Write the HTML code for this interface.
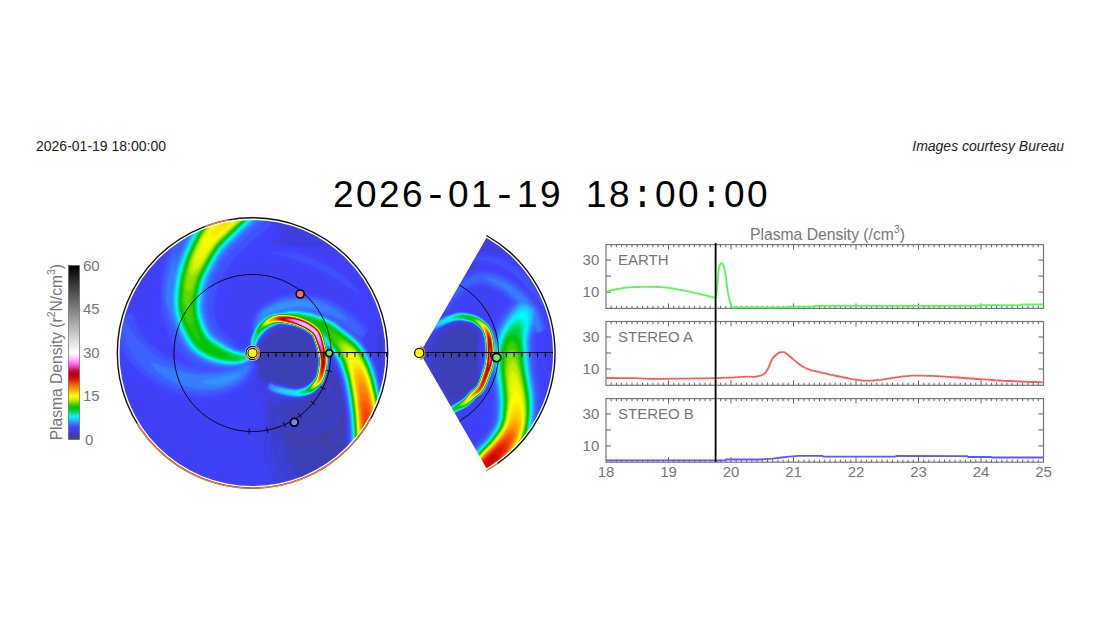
<!DOCTYPE html>
<html><head><meta charset="utf-8"><style>
html,body{margin:0;padding:0;background:#fff;width:1100px;height:619px;overflow:hidden}
svg{position:absolute;left:0;top:0}
text{font-family:"Liberation Sans",sans-serif}
.tl{font-size:15px;fill:#777}
.lab{font-size:15px;fill:#777}
</style></head><body>
<svg width="1100" height="619" viewBox="0 0 1100 619">
<defs>
<filter id="cmap" x="0" y="0" width="1" height="1" color-interpolation-filters="sRGB">
<feGaussianBlur stdDeviation="1.1"/>
<feComponentTransfer>
<feFuncR type="table" tableValues="0.267 0.251 0.243 0.251 0.251 0.235 0.196 0.078 0.000 0.000 0.000 0.000 0.235 0.588 0.863 1.000 1.000 1.000 1.000 0.980 0.922 0.843 0.765 0.725 0.784 0.922 1.000 1.000 1.000 1.000 1.000"/>
<feFuncG type="table" tableValues="0.267 0.251 0.243 0.251 0.251 0.392 0.588 0.824 0.973 0.894 0.816 0.765 0.804 0.882 0.961 1.000 0.843 0.667 0.510 0.353 0.196 0.059 0.000 0.000 0.078 0.235 0.392 0.588 0.765 0.902 1.000"/>
<feFuncB type="table" tableValues="0.541 0.647 0.784 0.922 1.000 1.000 1.000 1.000 1.000 0.588 0.235 0.000 0.000 0.000 0.000 0.000 0.000 0.000 0.000 0.000 0.000 0.000 0.000 0.118 0.353 0.667 0.941 1.000 1.000 1.000 1.000"/>
</feComponentTransfer>
</filter>
<filter id="bl4" x="-50%" y="-50%" width="200%" height="200%"><feGaussianBlur stdDeviation="5"/></filter><filter id="bl2" x="-50%" y="-50%" width="200%" height="200%"><feGaussianBlur stdDeviation="1.5"/></filter><filter id="bl8" x="-50%" y="-50%" width="200%" height="200%"><feGaussianBlur stdDeviation="8"/></filter><filter id="bl3" x="-50%" y="-50%" width="200%" height="200%"><feGaussianBlur stdDeviation="3"/></filter><filter id="bl15" x="-100%" y="-100%" width="300%" height="300%"><feGaussianBlur stdDeviation="15"/></filter>
<clipPath id="diskclip"><circle cx="252.5" cy="353.0" r="133"/></clipPath>
<clipPath id="wedgeclip"><path d="M420.0,353.0 L486.5,237.8 A133.0,133.0 0 0 1 486.5,468.2 Z"/></clipPath>
<linearGradient id="cbg" x1="0" y1="1" x2="0" y2="0"><stop offset="0.0000" stop-color="rgb(68,68,138)"/><stop offset="0.0167" stop-color="rgb(64,64,165)"/><stop offset="0.0333" stop-color="rgb(62,62,200)"/><stop offset="0.0500" stop-color="rgb(64,64,235)"/><stop offset="0.0667" stop-color="rgb(64,64,255)"/><stop offset="0.0833" stop-color="rgb(60,100,255)"/><stop offset="0.1000" stop-color="rgb(50,150,255)"/><stop offset="0.1167" stop-color="rgb(20,210,255)"/><stop offset="0.1333" stop-color="rgb(0,248,255)"/><stop offset="0.1500" stop-color="rgb(0,228,150)"/><stop offset="0.1667" stop-color="rgb(0,208,60)"/><stop offset="0.1833" stop-color="rgb(0,195,0)"/><stop offset="0.2000" stop-color="rgb(60,205,0)"/><stop offset="0.2167" stop-color="rgb(150,225,0)"/><stop offset="0.2333" stop-color="rgb(220,245,0)"/><stop offset="0.2500" stop-color="rgb(255,255,0)"/><stop offset="0.2667" stop-color="rgb(255,215,0)"/><stop offset="0.2833" stop-color="rgb(255,170,0)"/><stop offset="0.3000" stop-color="rgb(255,130,0)"/><stop offset="0.3167" stop-color="rgb(250,90,0)"/><stop offset="0.3333" stop-color="rgb(235,50,0)"/><stop offset="0.3500" stop-color="rgb(215,15,0)"/><stop offset="0.3667" stop-color="rgb(195,0,0)"/><stop offset="0.3833" stop-color="rgb(185,0,30)"/><stop offset="0.4000" stop-color="rgb(200,20,90)"/><stop offset="0.4167" stop-color="rgb(235,60,170)"/><stop offset="0.4333" stop-color="rgb(255,100,240)"/><stop offset="0.4500" stop-color="rgb(255,150,255)"/><stop offset="0.4667" stop-color="rgb(255,195,255)"/><stop offset="0.4833" stop-color="rgb(255,230,255)"/><stop offset="0.5000" stop-color="rgb(255,255,255)"/><stop offset="1" stop-color="#000"/></linearGradient>
</defs>
<text x="36" y="151" font-size="14" fill="#222">2026-01-19 18:00:00</text>
<text x="1064" y="151" font-size="14" fill="#222" font-style="italic" text-anchor="end">Images courtesy Bureau</text>
<g font-size="37" fill="#000"><text x="343.4" y="207" text-anchor="middle">2</text><text x="366.4" y="207" text-anchor="middle">0</text><text x="389.4" y="207" text-anchor="middle">2</text><text x="412.4" y="207" text-anchor="middle">6</text><text x="435.4" y="207" text-anchor="middle" style="font-family:'Liberation Mono'" font-size="38">-</text><text x="458.4" y="207" text-anchor="middle">0</text><text x="481.4" y="207" text-anchor="middle">1</text><text x="504.4" y="207" text-anchor="middle" style="font-family:'Liberation Mono'" font-size="38">-</text><text x="527.4" y="207" text-anchor="middle">1</text><text x="550.4" y="207" text-anchor="middle">9</text><text x="596.4" y="207" text-anchor="middle">1</text><text x="619.4" y="207" text-anchor="middle">8</text><text x="642.4" y="207" text-anchor="middle" style="font-family:'Liberation Mono'" font-size="38">:</text><text x="665.4" y="207" text-anchor="middle">0</text><text x="688.4" y="207" text-anchor="middle">0</text><text x="711.4" y="207" text-anchor="middle" style="font-family:'Liberation Mono'" font-size="38">:</text><text x="734.4" y="207" text-anchor="middle">0</text><text x="757.4" y="207" text-anchor="middle">0</text></g>
<g clip-path="url(#diskclip)"><g filter="url(#cmap)">
<rect x="100" y="200" width="310" height="310" fill="#1f1f1f"/>
<ellipse cx="335" cy="445" rx="60" ry="50" fill="#141414" filter="url(#bl15)"/>
<ellipse cx="322" cy="438" rx="46" ry="56" fill="#0d0d0d" filter="url(#bl8)"/>
<ellipse cx="338" cy="405" rx="14" ry="42" fill="#0f0f0f" filter="url(#bl4)"/>
<ellipse cx="305" cy="232" rx="55" ry="16" fill="#181818" filter="url(#bl8)"/>
<ellipse cx="308" cy="408" rx="36" ry="28" fill="#0e0e0e" filter="url(#bl8)"/>
<ellipse cx="392" cy="350" rx="16" ry="55" fill="#131313" filter="url(#bl8)"/>
<ellipse cx="285" cy="368" rx="36" ry="36" fill="#161616" filter="url(#bl4)"/>
<circle cx="290" cy="357.5" r="30" fill="#070707" filter="url(#bl2)"/>
<ellipse cx="272" cy="360" rx="16" ry="22" fill="#080808" filter="url(#bl2)"/>
<g transform="scale(0.5)">
<path d="M492,711 487,713 482,717 476,720 471,721 467,721 462,722 457,723 451,723 445,723 439,723 432,724 425,724 417,723 410,723 403,721 396,720 389,718 382,716 374,714 367,711 358,707 350,704 341,699 333,695 326,690 320,685 314,680 308,675 303,669 299,664 295,657 291,648 287,637 283,626 280,618 208,642 210,649 213,660 217,674 222,689 229,704 237,717 245,728 254,739 263,749 274,758 285,766 297,774 309,782 321,788 333,793 346,798 359,801 371,804 384,806 397,807 410,806 422,805 434,803 446,800 457,797 467,792 477,786 486,780 494,774 501,767 508,757 512,748 515,740 516,733 516,729Z" fill="#222222"/>
<path d="M406,687 403,681 398,673 392,664 387,655 384,647 380,638 376,628 372,617 369,606 368,596 367,587 367,577 368,566 369,556 371,545 373,536 375,527 378,518 381,509 384,500 388,491 393,481 398,471 402,462 405,456 363,432 359,438 354,447 348,457 341,468 336,480 331,490 327,500 323,511 320,523 317,535 315,547 313,560 312,574 311,589 312,604 315,618 319,633 324,647 330,660 336,673 345,685 355,695 364,703 372,709 378,713Z" fill="#222222"/>
<path d="M529,671 533,666 537,660 541,654 545,650 549,648 554,646 561,643 570,640 579,638 588,637 595,636 604,637 614,638 623,639 632,641 640,644 648,647 655,650 663,654 671,659 679,664 689,671 699,679 708,686 714,690 746,654 740,648 732,640 723,631 712,622 701,613 691,607 681,601 671,595 660,591 648,587 636,583 623,581 609,579 595,578 580,579 566,582 553,587 539,593 527,599 515,608 506,620 500,632 497,643 495,651 495,657Z" fill="#222222"/>
<path d="M522,519 532,521 546,523 562,526 577,529 591,533 604,537 617,543 631,549 644,556 656,563 667,570 678,577 688,585 698,593 707,602 715,611 723,623 731,634 738,645 743,652 769,636 765,628 759,617 752,604 743,591 733,578 723,567 713,557 701,547 689,538 676,529 663,521 648,514 633,507 617,500 601,495 584,492 566,490 549,489 535,489 526,489Z" fill="#222222"/>
<path d="M495,693 492,691 487,689 483,687 480,685 479,683 477,680 474,677 472,674 470,671 468,668 465,665 463,661 460,657 458,653 455,649 452,646 449,643 449,641 450,640 452,640 453,640 452,638 451,635 450,630 449,626 448,622 447,619 447,615 447,612 448,609 448,608 449,607 450,604 451,600 452,594 454,590 455,585 456,581 458,578 459,575 461,573 463,569 465,565 468,561 471,556 473,552 476,548 478,545 481,541 483,538 486,535 488,532 490,531 491,530 493,529 494,528 497,526 500,523 505,520 509,516 513,513 516,509 519,506 523,502 526,499 529,496 532,493 536,490 539,488 542,485 546,482 550,478 555,474 559,471 562,468 446,324 443,326 438,330 433,334 427,339 422,343 417,348 412,352 407,356 403,360 398,365 393,369 389,374 384,378 379,383 375,388 371,393 367,398 362,404 357,411 351,419 346,427 342,435 338,442 335,448 333,454 330,460 327,467 324,474 322,481 319,488 317,495 315,502 312,510 309,520 307,530 305,540 303,549 302,558 301,567 301,575 301,582 300,591 300,601 301,612 302,625 305,636 308,647 311,658 315,668 319,678 324,687 329,697 336,707 343,717 352,728 364,737 375,745 385,749 393,753 401,755 409,756 418,758 427,758 436,758 444,758 452,757 460,756 467,754 474,752 481,749 489,746 495,742 500,738 503,734 505,731Z" fill="#222222"/>
<path d="M519,680 522,677 525,673 529,668 533,664 537,661 543,658 550,655 558,652 566,649 573,648 579,649 585,650 591,652 598,655 604,658 611,661 618,665 624,670 631,674 635,678 639,682 642,686 645,691 648,697 652,703 656,709 660,714 663,719 666,724 668,728 669,731 670,734 672,738 673,742 675,747 676,751 678,756 679,760 680,764 682,770 683,776 684,783 686,791 687,799 689,807 690,814 691,821 691,828 692,835 693,843 693,852 694,861 694,871 695,881 695,890 695,900 694,911 694,922 693,931 693,938 775,942 776,935 776,926 777,914 777,902 777,890 777,879 777,868 776,857 776,847 775,837 774,827 773,818 772,810 771,802 769,793 768,785 766,776 764,767 762,758 760,750 758,743 756,736 754,729 752,723 749,717 747,711 744,705 740,699 736,691 730,684 724,678 718,672 712,666 705,661 700,657 694,653 688,649 681,644 673,638 665,634 655,630 646,626 636,623 626,620 616,618 606,617 597,616 587,616 577,617 567,620 557,623 548,627 539,632 530,637 523,643 517,649 512,656 509,663 506,668 505,672Z" fill="#222222"/>
<path d="M514,694 515,691 516,687 517,683 519,679 520,676 522,672 525,668 527,665 530,662 532,659 536,656 540,653 543,651 547,649 551,648 555,647 560,647 565,648 571,648 576,649 582,650 587,652 592,653 598,655 603,657 607,660 612,662 616,665 620,668 623,670 624,673 626,675 627,678 628,681 629,685 631,689 632,694 633,699 634,703 635,708 636,712 637,716 637,719 637,723 637,727 636,732 635,738 634,745 632,750 631,754 630,757 629,758 627,759 625,761 623,763 620,766 618,768 616,769 614,771 612,772 609,773 604,774 600,775 595,776 590,776 584,775 577,774 568,772 561,770 555,769 551,768 548,766 545,765 543,763 541,762 531,778 533,779 535,781 539,783 543,786 549,788 556,790 564,792 573,794 581,795 590,796 597,796 604,795 610,794 615,792 620,790 625,788 629,785 632,782 634,780 636,778 638,776 641,774 644,771 647,767 649,762 651,756 653,749 654,742 655,735 656,729 656,723 656,718 656,713 655,709 655,704 654,699 653,694 651,689 650,684 649,679 647,675 646,670 644,666 641,661 637,656 633,652 628,648 622,645 617,642 611,639 605,636 599,634 593,632 586,630 580,629 574,628 567,627 560,627 553,627 546,628 540,630 534,633 528,637 523,641 519,645 515,649 511,654 508,659 506,663 504,668 502,673 500,679 499,683 499,687 498,690Z" fill="#222222"/>
<path d="M497,715 493,717 487,721 482,724 477,727 472,728 467,729 461,731 455,732 448,733 441,733 434,734 426,734 418,735 410,734 402,733 395,732 386,731 378,729 370,726 362,723 353,719 343,715 334,711 326,706 318,701 310,696 304,690 297,684 291,678 286,671 281,663 276,653 271,641 267,631 263,624 225,636 226,644 228,655 232,669 236,683 242,697 249,708 256,719 264,729 273,738 282,747 293,755 304,763 315,770 327,776 338,781 350,785 362,789 374,792 386,794 398,795 410,795 422,794 433,792 444,790 455,787 464,783 473,778 482,773 489,767 496,760 502,752 506,744 509,736 510,730 511,725Z" fill="#262626"/>
<path d="M400,693 397,686 392,678 386,669 380,660 376,651 372,642 368,631 364,619 361,608 359,597 359,587 359,577 359,565 361,554 362,544 364,534 366,524 369,515 373,506 376,497 380,487 384,477 389,466 394,457 396,451 372,437 368,443 362,451 356,462 350,472 344,483 340,493 336,503 332,514 328,525 326,536 323,548 321,561 320,574 320,588 321,603 323,617 327,631 332,644 338,657 344,669 352,680 361,689 370,697 378,703 384,707Z" fill="#262626"/>
<path d="M524,669 527,664 531,657 535,651 540,646 544,643 550,640 558,636 568,633 578,630 587,629 595,628 605,629 615,630 625,632 634,634 643,636 651,639 659,643 667,647 676,651 685,657 695,664 705,672 714,678 721,683 739,661 734,655 726,647 717,638 706,629 696,621 687,614 677,608 667,603 657,598 646,594 634,591 621,589 608,587 595,586 581,587 568,590 555,594 542,599 531,605 520,613 511,624 506,635 503,646 501,654 500,659Z" fill="#262626"/>
<path d="M524,504 534,505 547,509 563,513 579,517 594,522 607,527 622,532 635,539 649,546 662,553 674,560 686,568 697,575 708,583 720,590 729,601 737,613 745,626 751,636 756,644 756,644 751,636 745,626 737,613 729,601 720,590 713,578 704,567 694,557 682,548 670,539 657,531 643,524 628,517 613,511 598,506 582,503 565,503 548,504 534,505 524,504Z" fill="#262626"/>
<path d="M497,698 493,697 489,696 485,695 482,694 479,692 476,690 473,688 471,686 468,683 465,680 461,677 458,674 454,671 451,667 448,663 444,660 440,657 438,655 438,653 438,652 438,650 436,647 434,643 433,638 431,633 430,629 429,624 428,619 428,615 428,611 428,609 429,606 429,602 430,597 432,592 433,586 434,582 435,577 437,573 438,569 440,565 442,561 445,557 447,552 450,547 453,542 455,538 458,534 460,530 463,527 465,523 468,520 470,517 472,516 473,514 476,512 478,510 482,506 486,503 491,499 494,495 498,491 501,488 505,484 508,481 512,478 515,475 519,472 522,468 526,465 530,462 534,458 539,454 543,451 546,448 462,344 459,346 454,349 449,354 444,358 438,363 434,367 429,371 425,375 420,379 416,383 411,387 407,392 402,396 398,401 393,405 389,410 385,415 381,421 376,427 371,434 366,441 362,448 359,454 356,460 353,465 351,471 348,478 345,484 342,491 340,497 338,504 335,511 333,519 330,527 328,536 326,545 324,553 323,562 322,570 322,577 321,585 321,593 321,602 321,612 322,623 324,633 327,643 330,652 333,662 337,671 341,679 346,688 351,697 358,707 366,716 375,724 385,730 394,735 401,738 408,741 416,742 424,744 432,745 440,745 447,746 455,745 462,745 468,744 475,742 481,740 488,738 493,735 498,731 501,729 503,726Z" fill="#262626"/>
<path d="M518,680 521,677 524,672 528,668 532,663 536,660 542,657 550,653 558,650 565,648 572,647 579,647 585,648 591,650 598,653 605,656 612,659 619,663 626,667 632,672 637,676 641,680 644,684 647,689 651,694 655,700 659,706 663,712 666,717 669,722 671,726 672,729 674,732 675,736 677,741 678,746 680,750 681,754 683,759 684,763 685,769 687,775 688,783 690,790 691,798 692,806 693,813 694,821 695,828 696,835 697,843 697,852 698,861 698,871 698,881 698,890 698,900 698,911 697,922 697,931 696,938 772,942 772,935 772,926 773,914 773,902 774,890 773,879 773,868 773,857 772,847 771,837 771,828 770,819 768,810 767,802 766,794 764,785 763,776 761,768 759,759 757,751 755,744 753,737 751,731 748,724 746,718 743,713 740,707 736,700 732,693 727,686 721,680 715,674 709,669 703,664 697,660 692,656 686,651 679,646 671,641 663,636 654,632 644,628 635,625 625,622 615,620 606,619 597,618 587,618 577,619 568,621 558,624 548,628 539,633 531,638 524,644 518,650 513,657 510,664 507,669 506,672Z" fill="#262626"/>
<path d="M513,694 514,691 515,687 516,683 518,679 520,675 522,672 524,668 526,664 529,661 532,658 535,655 539,653 543,650 547,648 551,647 555,647 560,647 565,647 571,648 576,649 582,650 587,651 593,653 598,655 603,657 608,659 612,662 617,665 620,667 623,670 625,672 626,675 627,677 629,681 630,685 631,689 633,694 634,698 635,703 636,708 637,712 637,716 637,719 638,723 637,727 637,732 636,739 634,745 633,750 631,755 630,757 629,758 628,760 626,762 623,764 621,766 619,768 617,770 615,771 612,772 609,774 605,775 600,776 596,777 590,777 584,776 576,775 568,773 561,772 555,770 550,769 547,767 545,766 542,765 540,764 532,776 533,778 536,780 539,782 544,785 549,787 556,789 564,791 573,793 582,794 590,795 597,795 603,794 609,793 615,791 620,790 624,787 628,785 631,782 634,779 636,777 638,775 640,773 643,770 646,766 649,761 650,756 652,749 654,742 655,735 655,729 656,723 656,718 655,714 655,709 654,704 653,699 652,694 651,689 650,684 648,679 647,675 645,671 643,666 641,661 637,657 633,653 628,649 622,645 617,642 611,639 605,637 599,634 592,633 586,631 580,630 573,629 567,628 560,627 553,628 547,629 540,631 534,634 529,638 524,641 519,645 515,650 512,654 509,659 507,664 504,669 503,674 501,679 500,684 500,688 499,690Z" fill="#262626"/>
<path d="M504,720 497,720 492,724 486,727 480,730 475,732 470,734 464,736 457,738 450,739 443,740 435,741 427,742 419,742 410,742 402,741 393,741 385,739 376,737 367,735 358,731 349,728 339,724 329,720 320,715 311,710 303,704 295,698 288,692 281,685 275,678 268,669 261,658 254,647 246,638 244,630 244,630 246,638 246,650 247,663 249,677 253,690 259,701 265,711 272,721 280,730 289,738 298,746 309,754 320,761 331,767 342,773 353,777 364,780 376,783 387,785 398,787 410,787 421,786 432,785 443,783 453,780 462,777 471,772 479,767 486,762 493,756 498,748 502,740 505,733 506,726 504,720Z" fill="#2a2a2a"/>
<path d="M392,700 391,692 386,683 380,674 375,664 371,654 366,644 362,633 358,621 356,609 354,598 353,587 353,576 353,565 355,553 356,542 358,532 360,522 363,513 366,504 370,494 373,484 377,473 382,462 385,453 384,444 384,444 376,448 370,456 363,465 356,476 350,486 346,496 342,505 338,516 335,526 332,538 330,549 327,562 326,575 326,588 326,602 329,615 333,629 338,642 343,654 349,666 357,676 366,685 376,693 384,698 392,700Z" fill="#2a2a2a"/>
<path d="M519,667 523,662 527,655 531,648 536,643 541,639 548,635 556,632 566,628 576,626 586,624 595,623 605,623 616,625 626,626 636,629 645,631 653,634 662,637 670,642 679,646 689,652 700,659 710,666 720,671 730,672 730,672 728,662 721,653 712,644 702,634 693,626 684,619 675,613 665,608 655,603 644,599 633,596 621,594 608,592 595,591 582,592 569,595 556,599 544,604 533,610 523,617 515,627 510,637 507,647 506,655 505,661Z" fill="#2a2a2a"/>
<path d="M497,701 494,701 490,700 486,700 482,699 479,698 476,696 473,695 469,693 466,691 463,688 459,686 455,683 451,680 447,677 443,673 439,670 435,667 432,664 430,662 429,660 428,657 426,654 424,649 421,643 419,638 418,633 417,627 416,622 415,617 415,613 415,609 415,606 416,601 417,596 418,590 419,584 420,579 422,574 423,569 425,565 427,561 429,556 431,551 434,546 437,541 439,536 442,531 444,527 447,523 449,519 452,515 454,512 457,509 459,507 461,504 463,502 467,499 470,495 475,491 479,487 483,483 486,480 490,476 494,473 497,469 501,466 504,463 508,459 512,456 515,453 519,449 524,446 529,442 533,438 536,436 472,356 469,359 465,362 459,366 454,371 449,375 444,379 440,383 435,387 431,391 427,395 422,399 418,403 414,408 409,412 405,417 401,421 397,426 393,431 388,437 383,444 379,450 375,456 372,462 369,467 367,473 364,479 361,485 358,491 356,497 353,503 351,510 349,516 346,524 343,532 341,540 339,548 338,556 337,564 336,572 335,579 335,586 334,594 334,602 334,611 335,621 337,631 339,640 342,649 345,658 349,666 352,674 357,683 362,691 368,700 375,708 383,715 392,721 399,725 406,728 413,731 420,733 428,735 435,736 443,737 449,738 456,738 463,737 469,737 475,736 481,734 487,732 492,730 497,727 500,725 503,723Z" fill="#2a2a2a"/>
<path d="M517,679 520,676 523,672 527,667 531,663 536,659 542,656 549,653 557,649 565,647 572,646 579,646 585,647 592,649 598,651 605,654 612,657 619,661 626,666 633,670 638,674 642,678 645,683 649,688 652,693 656,699 661,705 665,710 668,715 671,720 673,724 674,728 676,731 677,735 679,740 680,745 682,749 683,754 685,758 686,763 687,768 689,775 690,782 692,790 693,798 694,806 695,813 696,820 697,827 698,835 699,843 699,852 700,861 700,871 700,880 701,890 700,900 700,911 699,922 699,931 699,938 769,942 770,935 770,925 771,914 771,902 771,890 771,879 771,868 771,858 770,847 769,837 768,828 767,819 766,811 765,803 764,794 762,786 760,777 759,768 757,760 755,752 753,744 751,738 748,731 746,725 744,719 741,714 738,708 734,701 730,695 725,688 719,681 713,676 707,670 701,665 696,661 690,657 684,652 678,647 670,642 662,638 653,634 644,630 634,627 624,624 615,622 606,621 596,620 587,620 577,620 568,622 558,625 549,629 540,634 532,639 524,645 518,651 514,658 510,664 508,669 507,673Z" fill="#2a2a2a"/>
<path d="M512,694 513,691 514,687 516,683 517,679 519,675 521,672 523,668 526,664 529,661 531,658 535,655 539,652 543,650 547,648 551,647 555,646 560,646 565,647 571,647 576,648 582,649 587,651 593,652 598,654 603,656 608,659 612,661 617,664 620,667 623,670 625,672 627,674 628,677 629,681 630,685 632,689 633,694 634,698 635,703 636,707 637,712 638,716 638,719 638,723 638,727 637,732 636,739 635,745 633,751 632,755 631,757 630,759 628,760 626,762 623,764 621,767 619,769 617,770 615,772 613,773 609,774 605,776 600,777 596,777 590,778 584,777 576,776 568,774 560,772 554,771 550,770 547,768 544,767 542,766 539,765 533,775 534,777 536,779 540,781 544,784 550,786 556,788 564,790 573,792 582,794 590,794 597,794 603,794 609,792 615,791 619,789 624,787 628,784 631,782 633,779 635,777 638,775 640,773 643,770 646,766 648,761 650,755 652,749 653,742 654,735 655,729 655,723 655,718 655,714 654,709 654,705 653,700 652,694 651,689 649,684 648,679 646,675 645,671 643,666 640,662 637,657 632,653 627,649 622,646 616,642 611,640 605,637 599,635 592,633 586,631 580,630 573,629 567,628 560,628 553,628 547,629 540,631 534,634 529,638 524,642 520,646 516,650 512,655 509,659 507,664 505,669 503,674 502,679 501,684 500,688 500,690Z" fill="#2a2a2a"/>
<path d="M504,720 502,723 498,728 491,731 484,734 478,736 472,739 466,741 459,743 452,744 444,746 437,747 428,748 419,749 410,749 401,749 392,749 383,747 374,746 364,743 355,740 344,737 334,734 323,730 312,726 300,724 292,717 284,710 277,702 270,693 264,684 259,673 254,661 250,648 246,638 244,630 244,630 246,638 250,648 254,661 259,673 264,684 270,693 277,702 284,710 292,717 300,724 306,735 315,744 325,751 335,758 345,764 356,768 367,772 377,775 388,777 399,779 410,779 421,779 432,778 442,777 452,774 460,771 469,767 477,762 484,757 490,752 494,744 497,736 498,728 502,723 504,720Z" fill="#2f2f2f"/>
<path d="M392,700 387,695 381,688 373,679 366,670 364,658 360,647 356,635 352,623 349,611 348,599 346,588 346,576 347,564 347,552 349,541 350,530 351,520 352,509 356,500 360,490 365,480 370,469 376,459 381,450 384,444 384,444 381,450 376,459 370,469 365,480 360,490 356,500 352,509 347,518 343,528 339,539 337,551 334,563 333,575 332,588 332,601 335,614 339,627 344,640 350,652 356,662 366,670 373,679 381,688 387,695 392,700Z" fill="#2f2f2f"/>
<path d="M512,664 518,660 523,654 527,646 533,640 539,636 545,632 555,627 565,624 575,621 585,619 595,618 606,619 616,620 627,621 637,624 647,626 656,629 665,632 674,636 683,640 696,643 706,651 716,660 724,667 730,672 730,672 724,667 716,660 706,651 696,643 689,632 680,625 672,619 663,613 653,609 643,604 632,601 620,599 607,597 595,596 583,597 570,599 558,603 546,608 535,613 525,620 518,629 514,640 512,649 510,657 512,664Z" fill="#2f2f2f"/>
<path d="M498,704 495,703 491,703 487,703 483,702 479,701 476,700 472,699 469,697 465,695 461,693 457,691 453,688 448,685 444,682 440,678 436,675 431,672 428,669 426,667 424,664 422,661 420,657 417,652 415,646 413,640 411,635 410,629 409,624 408,618 408,614 408,609 408,605 409,600 410,595 411,589 412,583 413,578 415,573 416,567 418,563 420,558 422,553 424,548 427,543 430,538 432,533 435,528 437,524 440,519 443,515 445,511 448,508 450,505 452,502 455,499 457,497 461,493 465,490 469,486 473,482 477,478 481,474 484,470 488,467 492,463 495,460 499,457 503,453 506,450 510,447 514,443 519,439 524,435 528,432 531,430 477,362 474,365 470,368 464,373 459,377 454,381 450,385 445,389 441,393 437,397 432,401 428,405 424,409 419,413 415,418 411,422 407,427 403,432 398,437 394,443 389,449 385,455 382,460 379,466 376,471 373,477 371,482 368,488 365,494 363,500 360,506 358,513 355,519 353,526 350,534 348,542 346,550 345,558 344,565 343,573 342,580 342,587 341,594 341,602 341,611 342,620 344,629 346,638 349,647 352,655 355,664 359,672 363,680 368,688 373,696 380,704 388,710 395,716 403,720 409,723 416,726 423,728 430,730 437,731 444,732 451,733 457,733 463,733 469,733 475,732 481,731 486,729 492,727 496,724 500,722 502,720Z" fill="#2f2f2f"/>
<path d="M517,679 520,676 523,671 526,667 531,662 535,659 541,655 549,652 557,649 565,646 572,645 578,645 585,646 592,648 599,650 606,653 613,656 620,660 627,664 633,669 639,673 643,677 646,682 650,686 653,692 658,698 662,704 666,709 669,714 672,719 674,723 676,727 677,730 679,734 680,739 682,744 684,749 685,753 686,757 688,762 689,768 690,775 692,782 693,790 695,798 696,805 697,813 698,820 699,827 700,835 700,843 701,851 701,861 702,871 702,880 702,890 702,900 702,911 701,922 701,931 700,938 768,942 768,935 769,925 769,914 770,902 770,890 770,879 769,868 769,858 768,847 768,837 767,828 766,819 765,811 763,803 762,795 760,786 759,777 757,768 755,760 753,752 751,745 749,738 747,732 744,726 742,720 739,714 736,708 733,702 729,695 724,689 718,682 712,677 706,671 700,667 694,662 689,658 683,654 677,649 669,643 661,639 652,635 643,631 634,628 624,625 614,623 605,622 596,621 587,621 578,621 568,623 559,626 549,630 540,635 532,640 525,645 519,651 514,658 511,664 509,669 507,673Z" fill="#2f2f2f"/>
<path d="M512,694 513,691 514,687 515,683 517,679 519,675 521,671 523,668 526,664 528,661 531,658 535,655 539,652 543,650 547,648 551,646 555,646 560,646 565,646 571,647 576,648 582,649 587,651 593,652 598,654 603,656 608,658 613,661 617,664 621,667 623,670 625,672 627,674 628,677 629,681 631,685 632,689 633,694 635,698 636,703 637,707 637,712 638,715 638,719 638,723 638,727 637,733 636,739 635,745 634,751 632,755 631,757 630,759 628,760 626,762 624,765 621,767 619,769 617,771 615,772 613,773 609,775 605,776 600,777 596,778 590,778 584,778 576,777 568,775 560,773 554,772 550,770 546,769 543,768 541,767 536,770 536,770 535,775 537,778 540,780 544,783 550,785 557,787 565,789 573,791 582,793 590,794 597,794 603,793 609,792 614,790 619,789 624,787 628,784 631,781 633,779 635,777 637,775 640,773 643,770 645,766 648,761 650,755 652,749 653,742 654,735 655,729 655,723 655,718 655,714 654,709 653,705 653,700 652,694 650,689 649,684 647,679 646,675 645,671 643,666 640,662 637,657 632,653 627,649 622,646 616,643 611,640 605,637 599,635 592,633 586,632 580,630 573,629 567,629 560,628 554,628 547,630 540,632 534,635 529,638 524,642 520,646 516,650 513,655 510,660 507,664 505,669 503,674 502,679 501,684 501,688 500,690Z" fill="#2f2f2f"/>
<path d="M504,720 502,723 498,728 494,734 489,739 484,744 477,746 469,748 462,750 454,752 446,753 438,755 429,757 420,759 410,761 400,764 390,763 380,761 370,759 360,756 350,752 340,748 329,743 319,737 309,731 300,724 292,717 284,710 277,702 270,693 264,684 259,673 254,661 250,648 246,638 244,630 244,630 246,638 250,648 254,661 259,673 264,684 270,693 277,702 284,710 292,717 300,724 309,731 319,737 329,743 340,748 350,752 360,756 370,759 380,761 390,763 400,764 410,768 420,769 430,769 440,769 450,767 458,764 466,760 473,755 479,750 484,744 489,739 494,734 498,728 502,723 504,720Z" fill="#333333"/>
<path d="M512,664 514,659 517,651 521,643 528,636 535,632 543,627 552,623 563,619 574,616 585,614 595,612 606,612 618,613 629,614 640,614 650,617 659,621 668,625 677,630 686,636 696,643 706,651 716,660 724,667 730,672 730,672 724,667 716,660 706,651 696,643 686,636 677,630 668,625 659,621 650,617 640,614 630,609 619,606 607,603 595,602 583,602 572,605 560,608 548,613 538,618 529,624 523,633 521,643 517,651 514,659 512,664Z" fill="#333333"/>
<path d="M498,705 495,705 491,704 487,704 483,704 479,703 476,702 472,701 468,699 465,698 461,695 456,693 452,690 447,687 443,684 439,681 434,678 430,675 426,672 424,669 422,667 419,663 417,659 414,653 412,648 410,642 408,636 407,630 405,625 405,619 404,614 404,610 405,605 405,600 406,595 407,589 408,583 410,577 411,572 413,567 414,562 416,557 418,552 421,547 424,541 426,536 429,531 432,526 434,522 437,518 439,514 442,509 445,506 447,503 449,500 452,497 454,494 458,491 462,487 466,483 470,479 474,475 478,471 482,468 485,464 489,461 493,457 496,454 500,451 504,447 508,444 512,440 517,436 521,433 526,429 529,427 479,365 476,368 472,371 467,375 461,380 456,384 452,388 448,392 443,396 439,399 435,403 431,408 426,412 422,416 418,421 414,425 410,429 406,434 401,439 397,445 392,451 388,457 385,463 382,468 379,473 377,478 374,484 371,490 369,496 366,502 364,508 361,514 359,521 356,528 354,535 352,543 350,551 349,559 347,566 347,573 346,581 345,587 345,595 345,603 345,611 346,620 347,629 349,637 352,646 355,654 358,662 362,670 366,678 371,686 376,694 382,701 390,708 397,713 404,717 411,720 417,723 424,725 431,727 438,729 445,730 451,731 458,731 464,731 470,731 475,730 481,729 486,727 491,725 496,723 499,721 502,719Z" fill="#333333"/>
<path d="M516,679 519,676 522,671 526,666 530,662 535,658 541,655 548,651 557,648 565,645 572,644 578,644 585,645 592,647 599,649 606,652 613,655 620,659 627,663 634,668 640,672 644,676 647,681 651,685 654,691 659,697 663,703 667,708 670,713 673,718 675,722 677,726 679,730 680,734 682,738 683,744 685,748 686,753 688,757 689,762 690,768 692,774 693,782 695,789 696,797 697,805 698,813 699,820 700,827 701,835 702,843 702,851 703,861 703,871 703,880 703,890 703,900 703,911 702,922 702,932 702,938 766,942 767,935 767,925 768,914 768,902 769,890 768,879 768,868 768,858 767,847 766,837 766,828 765,819 763,811 762,803 761,795 759,786 757,777 756,769 754,760 752,752 750,745 748,739 745,732 743,726 741,720 738,715 735,709 732,703 728,696 723,690 717,683 711,678 705,672 699,668 693,663 688,659 682,654 676,649 669,644 660,640 652,636 643,632 633,629 623,626 614,624 605,623 596,622 587,621 578,622 568,624 559,627 549,631 540,635 532,640 525,646 519,652 515,658 511,665 509,670 508,673Z" fill="#333333"/>
<path d="M512,693 513,691 514,687 515,683 517,679 518,675 520,671 523,667 525,664 528,660 531,657 535,655 539,652 543,649 547,647 551,646 555,646 560,646 565,646 571,647 576,648 582,649 587,650 593,652 598,654 603,656 608,658 613,661 617,664 621,667 624,669 626,672 627,674 628,677 629,681 631,685 632,689 634,694 635,698 636,703 637,707 637,712 638,715 638,719 638,723 638,727 638,733 637,739 635,745 634,751 632,755 631,757 630,759 628,761 626,762 624,765 621,767 619,769 617,771 616,772 613,774 609,775 605,777 601,778 596,779 590,779 584,778 576,777 568,776 560,774 554,772 549,771 546,770 542,770 538,771 536,770 536,770 538,771 538,776 541,779 545,782 550,784 557,786 565,789 573,791 582,792 590,793 597,793 603,793 609,791 614,790 619,788 623,786 627,784 630,781 633,779 635,776 637,775 640,773 642,770 645,766 648,761 650,755 651,749 653,742 654,735 655,729 655,723 655,718 655,714 654,709 653,705 652,700 651,694 650,689 649,684 647,679 646,675 644,671 643,667 640,662 636,657 632,653 627,650 622,646 616,643 610,640 605,638 598,635 592,633 586,632 580,630 573,630 567,629 560,628 554,629 547,630 540,632 535,635 529,638 525,642 520,646 516,650 513,655 510,660 508,664 506,669 504,674 503,679 502,684 501,688 500,691Z" fill="#333333"/>
<path d="M498,706 495,705 492,705 487,705 483,705 479,704 476,703 472,702 468,701 464,699 460,697 456,695 451,692 447,689 442,686 438,683 433,680 429,677 425,674 422,671 420,668 418,665 415,660 412,654 410,648 408,643 406,637 404,631 403,625 402,619 402,614 402,610 402,605 403,600 404,594 405,588 406,582 407,577 409,571 410,566 412,561 414,556 416,551 419,546 421,540 424,535 427,530 429,525 432,521 435,517 437,512 440,508 442,505 445,501 447,498 450,496 453,492 456,489 460,485 464,481 468,477 472,473 476,470 480,466 484,462 487,459 491,455 495,452 498,449 502,445 506,442 510,438 515,434 520,431 524,427 527,425 481,367 478,370 474,373 468,377 463,382 458,386 454,390 449,394 445,397 441,401 437,405 432,409 428,414 424,418 420,422 416,427 412,431 408,436 403,441 399,447 394,452 390,458 387,464 384,469 381,474 379,480 376,485 373,491 371,497 368,503 366,509 363,515 361,522 359,529 356,536 354,544 352,551 351,559 350,566 349,574 348,581 348,588 347,595 347,603 347,611 348,620 350,628 352,637 354,645 357,654 360,661 364,669 368,677 373,685 378,693 384,700 391,706 398,711 405,715 412,718 418,721 425,723 432,725 439,727 445,728 452,729 458,729 464,729 470,729 475,729 481,728 486,726 491,724 496,722 499,720 502,718Z" fill="#373737"/>
<path d="M516,678 519,675 522,671 525,666 530,662 535,658 541,654 548,651 556,647 564,645 572,643 578,644 585,645 592,646 599,649 606,651 613,654 621,658 628,662 635,667 640,671 644,675 648,680 651,685 655,690 659,696 664,702 668,707 671,712 674,717 676,722 678,725 680,729 681,733 683,738 685,743 686,748 688,752 689,757 690,762 692,767 693,774 694,781 696,789 697,797 698,805 699,813 700,820 701,827 702,834 703,842 703,851 704,861 704,871 705,880 705,890 704,900 704,911 703,922 703,932 703,938 765,942 766,935 766,925 767,914 767,902 767,890 767,879 767,868 767,858 766,847 765,838 764,828 763,820 762,811 761,803 760,795 758,786 756,778 754,769 752,761 750,753 748,746 746,739 744,733 742,727 739,721 737,715 734,710 730,703 726,697 722,690 716,684 710,679 704,673 698,668 693,664 687,660 682,655 675,650 668,645 660,641 651,637 642,633 633,630 623,627 614,625 605,623 596,622 587,622 578,623 568,625 559,627 550,631 541,636 533,641 525,646 520,652 515,659 512,665 510,670 508,674Z" fill="#373737"/>
<path d="M511,693 512,691 513,687 515,683 516,678 518,675 520,671 522,667 525,664 528,660 531,657 534,654 538,652 543,649 547,647 551,646 555,645 560,645 565,646 571,647 576,648 582,649 588,650 593,652 598,654 603,656 608,658 613,661 617,664 621,667 624,669 626,672 627,674 628,677 630,681 631,685 632,689 634,693 635,698 636,703 637,707 638,712 638,715 639,719 639,723 638,727 638,733 637,739 635,745 634,751 633,755 631,758 630,759 629,761 627,763 624,765 622,767 620,770 618,771 616,773 613,774 609,776 605,777 601,778 596,779 590,780 584,779 576,778 567,776 560,775 554,774 549,773 543,775 540,773 538,771 536,770 536,770 538,771 540,773 543,775 546,780 550,783 557,785 565,788 573,790 582,792 590,792 597,793 603,792 609,791 614,790 619,788 623,786 627,783 630,781 633,778 635,776 637,774 639,772 642,770 645,766 647,761 649,755 651,749 653,742 654,735 654,729 655,723 655,718 654,714 654,709 653,705 652,700 651,694 650,689 649,684 647,679 646,675 644,671 642,667 640,662 636,658 632,653 627,650 622,646 616,643 610,640 605,638 598,635 592,634 586,632 580,631 573,630 567,629 560,629 554,629 547,630 541,632 535,635 529,639 525,642 520,646 517,651 513,655 510,660 508,665 506,669 504,674 503,679 502,684 501,688 501,691Z" fill="#373737"/>
<path d="M499,707 496,706 492,706 487,706 483,706 480,705 476,705 472,703 468,702 464,700 460,698 455,696 451,693 446,691 442,688 437,684 432,681 428,678 424,675 421,672 419,669 416,666 413,661 411,655 408,649 406,643 404,637 403,631 401,625 400,620 400,614 400,610 400,605 401,600 402,594 403,588 404,582 405,576 407,571 408,566 410,560 412,556 414,550 417,545 420,540 422,534 425,529 428,525 430,520 433,516 436,511 438,507 441,504 443,500 446,497 448,494 451,491 455,488 458,484 463,480 467,476 471,472 475,468 478,464 482,461 486,457 490,454 493,450 497,447 501,444 505,441 509,437 514,433 519,429 523,426 526,423 482,369 479,371 475,375 470,379 464,383 459,387 455,391 451,395 446,399 442,403 438,407 434,411 430,415 425,419 421,424 417,428 413,433 409,437 405,442 400,448 396,454 392,459 389,465 386,470 383,475 380,481 378,486 375,492 373,498 370,504 368,510 365,516 363,522 360,529 358,537 356,544 354,552 353,559 352,567 351,574 350,581 350,588 349,595 349,603 349,611 350,620 351,628 353,636 356,645 359,653 362,661 366,668 370,676 374,684 379,691 385,699 392,705 399,710 406,714 413,717 419,720 425,722 432,724 439,726 446,727 452,728 458,728 464,728 470,728 475,727 480,727 486,725 491,723 495,721 499,719 501,717Z" fill="#3c3c3c"/>
<path d="M515,678 518,675 521,671 525,666 529,661 534,657 540,654 548,650 556,647 564,644 572,643 578,643 585,644 592,646 599,648 606,650 614,654 621,657 628,662 635,666 641,670 645,675 649,679 652,684 656,689 660,695 665,701 669,706 672,712 675,717 677,721 679,725 681,729 682,733 684,738 686,743 687,747 689,752 690,756 691,761 693,767 694,774 695,781 697,789 698,797 699,805 701,812 701,820 702,827 703,834 704,842 704,851 705,861 705,871 706,880 706,890 705,900 705,911 704,922 704,932 704,939 764,941 765,935 765,925 766,914 766,902 766,890 766,879 766,868 766,858 765,847 764,838 763,828 762,820 761,811 760,803 759,795 757,787 755,778 753,769 751,761 749,753 747,746 745,739 743,733 741,727 738,721 736,716 733,710 729,704 725,697 721,691 715,685 709,679 703,674 697,669 692,665 686,661 681,656 674,651 667,646 659,642 651,638 642,634 632,630 623,628 614,626 605,624 596,623 587,623 578,623 568,625 559,628 550,632 541,636 533,641 526,647 520,652 516,659 512,665 510,670 509,674Z" fill="#3c3c3c"/>
<path d="M511,693 512,691 513,687 514,683 516,678 518,675 520,671 522,667 525,663 528,660 531,657 534,654 538,651 542,649 547,647 551,646 555,645 560,645 565,646 571,647 576,648 582,649 588,650 593,652 598,654 603,656 608,658 613,661 617,664 621,666 624,669 626,672 627,674 628,677 630,681 631,685 633,689 634,693 635,698 636,703 637,707 638,712 638,715 639,719 639,723 639,727 638,733 637,739 636,745 634,751 633,755 632,758 630,759 629,761 627,763 624,765 622,768 620,770 618,771 616,773 613,774 610,776 605,777 601,779 596,780 590,780 584,780 576,779 567,778 559,776 552,778 547,777 543,775 540,773 538,771 536,770 536,770 538,771 540,773 543,775 547,777 552,778 557,784 565,787 574,789 582,791 590,792 597,792 603,792 609,791 614,789 619,788 623,786 627,783 630,781 632,778 635,776 637,774 639,772 642,769 645,766 647,761 649,755 651,749 652,742 653,735 654,729 655,723 655,718 654,714 654,709 653,705 652,700 651,694 650,689 648,684 647,679 646,675 644,671 642,667 640,662 636,658 632,654 627,650 622,646 616,643 610,640 604,638 598,636 592,634 586,632 580,631 573,630 567,629 560,629 554,629 547,630 541,632 535,635 530,639 525,643 521,647 517,651 513,655 511,660 508,665 506,669 505,674 503,679 502,684 502,688 501,691Z" fill="#3c3c3c"/>
<path d="M499,707 496,707 492,707 488,707 483,707 480,706 476,705 472,704 468,703 464,701 460,699 455,697 450,695 446,692 441,689 437,686 432,683 427,679 423,676 420,673 417,670 415,667 412,662 409,656 407,650 404,644 403,638 401,632 400,626 399,620 398,615 398,610 399,605 399,600 400,594 401,588 403,582 404,576 405,571 407,565 408,560 411,555 413,550 415,544 418,539 421,534 424,529 426,524 429,519 431,515 434,511 437,506 439,503 442,499 444,496 447,493 450,490 453,487 457,483 461,479 466,475 470,471 473,467 477,463 481,460 485,456 489,453 492,449 496,446 500,443 504,439 508,436 513,432 518,428 522,424 525,422 483,370 480,373 476,376 471,380 465,385 460,389 456,393 452,396 448,400 443,404 439,408 435,412 431,416 427,421 422,425 418,429 414,434 410,438 406,444 401,449 397,455 393,460 390,466 387,471 384,476 382,481 379,487 377,493 374,498 371,504 369,510 367,517 364,523 362,530 360,537 358,545 356,552 354,560 353,567 352,574 352,581 351,588 351,595 350,603 351,611 352,619 353,628 355,636 357,644 360,652 364,660 367,668 371,675 376,683 381,691 387,698 393,704 400,709 407,712 413,716 419,718 426,721 433,723 440,724 446,726 452,727 458,727 464,727 470,727 475,726 480,726 486,724 491,722 495,720 499,718 501,717Z" fill="#404040"/>
<path d="M515,678 517,675 521,670 525,665 529,661 534,657 540,653 548,650 556,646 564,644 571,642 578,642 585,643 592,645 599,647 607,650 614,653 621,657 629,661 635,665 641,670 646,674 649,678 653,683 657,689 661,694 665,700 669,706 673,711 676,716 678,720 680,724 682,728 683,732 685,737 687,742 688,747 690,751 691,756 692,761 694,767 695,773 696,781 698,789 699,797 700,805 701,812 702,819 703,827 704,834 705,842 705,851 706,861 706,871 706,880 707,890 706,900 706,911 705,922 705,932 705,939 763,941 764,935 764,925 765,914 765,902 765,890 765,879 765,869 765,858 764,848 763,838 762,828 761,820 760,812 759,803 758,795 756,787 754,778 752,769 750,761 748,753 746,746 744,740 742,734 740,728 737,722 735,716 732,710 728,704 724,698 720,692 714,686 708,680 702,675 697,670 691,666 686,661 680,657 674,652 667,647 659,642 650,638 641,635 632,631 623,628 613,626 605,625 596,624 587,624 578,624 569,626 559,629 550,632 541,637 533,642 526,647 520,653 516,659 513,665 511,671 509,674Z" fill="#404040"/>
<path d="M510,693 511,690 513,687 514,682 516,678 517,674 520,671 522,667 525,663 527,660 530,657 534,654 538,651 542,649 547,647 551,646 555,645 560,645 565,646 571,646 577,647 582,648 588,650 593,651 598,653 603,655 608,658 613,661 617,663 621,666 624,669 626,671 627,674 629,677 630,681 631,685 633,689 634,693 635,698 636,703 637,707 638,712 639,715 639,719 639,723 639,727 638,733 637,739 636,745 634,751 633,755 632,758 630,760 629,761 627,763 624,765 622,768 620,770 618,772 616,773 613,775 610,776 605,778 601,779 596,780 590,781 583,781 575,781 566,782 558,780 552,778 547,777 543,775 540,773 538,771 536,770 536,770 538,771 540,773 543,775 547,777 552,778 558,780 566,782 574,787 582,789 590,791 597,792 603,791 609,790 614,789 619,787 623,785 627,783 630,780 632,778 634,776 637,774 639,772 642,769 645,766 647,761 649,755 651,749 652,742 653,735 654,729 654,723 654,718 654,714 653,709 653,705 652,700 651,694 650,689 648,684 647,679 645,675 644,671 642,667 640,662 636,658 632,654 627,650 621,646 616,643 610,641 604,638 598,636 592,634 586,632 579,631 573,630 567,629 560,629 554,629 547,630 541,633 535,636 530,639 525,643 521,647 517,651 514,656 511,660 509,665 507,670 505,674 504,679 503,684 502,688 502,691Z" fill="#404040"/>
<path d="M499,708 496,708 492,708 488,708 483,708 480,707 476,706 472,705 468,704 464,702 459,701 455,698 450,696 445,693 440,690 436,687 431,684 426,681 422,678 419,675 416,671 414,667 411,662 408,657 405,650 403,644 401,638 400,632 398,626 397,620 397,615 397,610 397,605 398,599 399,594 400,588 401,582 402,576 404,570 405,565 407,560 409,555 411,549 414,544 417,538 420,533 422,528 425,523 428,519 430,514 433,510 436,506 438,502 441,499 443,495 446,492 449,489 452,486 456,482 460,478 465,474 469,470 472,466 476,462 480,459 484,455 488,452 491,448 495,445 499,441 503,438 507,435 512,431 517,427 521,423 524,421 484,371 481,374 477,377 472,381 466,386 461,390 457,394 453,397 449,401 444,405 440,409 436,413 432,417 428,422 423,426 419,430 415,435 411,439 407,445 403,450 398,456 395,461 391,467 388,472 386,477 383,482 380,488 378,493 375,499 373,505 370,511 368,517 366,524 363,530 361,538 359,545 357,553 356,560 355,567 354,575 353,582 353,588 352,595 352,603 352,611 353,619 354,628 356,636 359,644 362,652 365,660 368,667 372,675 377,682 382,690 388,697 394,703 401,707 408,711 414,714 420,717 427,720 433,722 440,723 446,724 453,725 459,726 464,726 470,726 475,726 480,725 486,723 491,721 495,719 499,718 501,716Z" fill="#444444"/>
<path d="M512,676 517,674 520,670 524,665 528,660 534,657 540,653 547,649 556,646 564,643 571,642 578,642 585,642 592,644 600,646 607,649 614,652 622,656 629,660 636,664 642,669 646,673 650,677 654,682 658,688 662,694 666,699 670,705 674,710 677,715 679,720 681,724 683,728 684,732 686,737 687,742 689,747 691,751 692,756 693,761 694,767 696,773 697,781 699,789 700,797 701,805 702,812 703,819 704,827 705,834 705,842 706,851 707,861 707,870 707,880 707,890 707,900 707,911 706,922 706,932 705,939 763,941 763,935 763,925 764,914 764,902 765,890 765,879 764,869 764,858 763,848 763,838 762,829 761,820 759,812 758,804 757,795 755,787 753,778 752,770 750,761 748,753 746,746 744,740 741,734 739,728 737,722 734,717 731,711 728,705 724,699 719,692 713,686 708,681 702,676 696,671 690,666 685,662 679,658 673,653 666,648 658,643 650,639 641,635 632,632 622,629 613,627 604,626 596,625 587,624 578,625 569,626 559,629 550,633 541,637 533,642 526,647 521,653 517,660 514,666 512,671 512,676Z" fill="#444444"/>
<path d="M510,693 511,690 512,687 514,682 515,678 517,674 519,671 522,667 524,663 527,660 530,657 534,654 538,651 542,649 546,647 551,645 555,645 560,645 565,645 571,646 577,647 582,648 588,650 593,651 598,653 603,655 608,658 613,660 617,663 621,666 624,669 626,671 628,674 629,677 630,680 631,685 633,689 634,693 635,698 637,703 637,707 638,712 639,715 639,719 639,723 639,727 638,733 637,739 636,745 635,751 633,755 632,758 631,760 629,761 627,763 624,765 622,768 620,770 618,772 616,773 613,775 610,777 606,778 601,780 596,781 590,786 583,785 575,784 566,782 558,780 552,778 547,777 543,775 540,773 538,771 536,770 536,770 538,771 540,773 543,775 547,777 552,778 558,780 566,782 575,784 583,785 590,786 597,791 603,791 609,790 614,788 619,787 623,785 627,783 630,780 632,778 634,776 637,774 639,772 642,769 645,765 647,761 649,755 651,749 652,742 653,735 654,729 654,723 654,718 654,714 653,709 653,705 652,700 651,695 649,689 648,684 647,679 645,675 644,671 642,667 639,662 636,658 632,654 627,650 621,647 616,643 610,641 604,638 598,636 592,634 586,632 579,631 573,630 567,630 560,629 554,629 547,631 541,633 535,636 530,639 525,643 521,647 517,651 514,656 511,661 509,665 507,670 505,675 504,680 503,684 502,688 502,691Z" fill="#444444"/>
<path d="M499,709 496,709 492,709 488,709 484,709 480,708 476,707 472,706 468,705 463,703 459,702 454,699 450,697 445,694 440,691 435,688 430,685 426,682 421,679 418,676 415,672 412,668 410,663 407,657 404,651 402,645 400,639 398,633 397,626 396,620 396,615 396,610 396,605 397,599 398,594 399,587 400,581 401,576 402,570 404,564 406,559 408,554 410,549 413,543 416,538 418,533 421,527 424,523 426,518 429,514 432,509 434,505 437,501 439,498 442,495 445,492 448,488 451,485 455,481 459,477 464,473 468,469 471,465 475,461 479,458 483,454 487,451 490,447 494,444 498,441 502,437 506,434 511,430 516,426 520,422 523,420 485,372 482,375 478,378 472,382 467,387 462,391 458,395 454,398 449,402 445,406 441,410 437,414 433,418 429,423 424,427 420,431 416,436 412,440 408,445 404,451 399,456 396,462 392,467 389,473 387,478 384,483 382,488 379,494 376,500 374,505 372,511 369,518 367,524 364,531 362,538 360,546 359,553 357,560 356,568 355,575 355,582 354,588 354,595 353,603 354,611 354,619 356,627 358,635 360,644 363,651 366,659 370,667 374,674 378,682 383,689 389,696 395,702 402,706 409,710 415,713 421,716 427,718 434,720 440,722 447,723 453,724 459,725 465,725 470,725 475,725 480,724 486,723 491,721 495,719 498,717 501,715Z" fill="#484848"/>
<path d="M512,676 514,673 519,669 523,664 528,660 533,656 539,652 547,649 555,645 564,642 571,641 578,641 585,642 593,643 600,645 607,648 614,651 622,655 629,659 636,664 642,668 647,672 651,677 654,682 658,687 663,693 667,699 671,704 675,710 678,715 680,719 682,723 684,727 685,732 687,736 688,741 690,746 691,751 693,755 694,761 695,766 697,773 698,781 700,789 701,797 702,804 703,812 704,819 705,827 706,834 706,842 707,851 707,861 708,870 708,880 708,890 708,900 708,911 707,922 707,932 706,939 762,941 762,935 763,925 763,914 764,902 764,890 764,879 763,869 763,858 762,848 762,838 761,829 760,820 759,812 757,804 756,796 754,787 753,778 751,770 749,761 747,754 745,747 743,740 740,734 738,728 736,723 733,717 730,711 727,705 723,699 718,693 713,687 707,681 701,676 695,671 689,667 684,663 679,658 672,653 665,649 658,644 649,640 641,636 631,633 622,630 613,628 604,626 595,625 587,625 578,625 569,627 560,630 551,634 542,638 534,643 527,648 521,654 517,660 515,666 514,673 512,676Z" fill="#484848"/>
<path d="M509,693 510,690 512,686 513,682 515,678 517,674 519,670 521,667 524,663 527,660 530,656 534,654 538,651 542,648 546,646 551,645 555,645 560,645 565,645 571,646 577,647 582,648 588,650 593,651 598,653 603,655 608,658 613,660 617,663 621,666 624,669 626,671 628,674 629,677 630,680 631,684 633,689 634,693 636,698 637,703 638,707 638,711 639,715 639,719 639,723 639,727 638,733 637,739 636,745 635,751 633,755 632,758 631,760 629,761 627,763 625,766 622,768 620,770 618,772 616,774 614,775 610,777 606,779 601,780 596,783 590,786 583,785 575,784 566,782 558,780 552,778 547,777 543,775 540,773 538,771 536,770 536,770 538,771 540,773 543,775 547,777 552,778 558,780 566,782 575,784 583,785 590,786 596,789 603,790 608,789 614,788 618,787 623,785 626,783 629,780 632,778 634,776 636,774 639,772 642,769 644,765 647,761 649,755 650,749 652,742 653,735 654,729 654,723 654,718 654,714 653,709 652,705 652,700 651,695 649,689 648,684 647,680 645,675 644,671 642,667 639,662 636,658 631,654 627,650 621,647 616,644 610,641 604,638 598,636 592,634 586,633 579,631 573,630 567,630 560,629 554,630 547,631 541,633 535,636 530,639 525,643 521,647 517,651 514,656 511,661 509,665 507,670 506,675 504,680 504,684 503,688 503,691Z" fill="#484848"/>
<path d="M500,712 497,710 493,710 488,710 484,710 480,709 476,708 472,707 467,706 463,705 459,703 454,701 449,698 444,695 439,692 435,689 430,686 425,683 421,680 417,677 414,673 411,669 408,664 405,658 403,652 401,645 399,639 397,633 396,627 395,621 394,615 394,610 395,605 395,599 396,593 397,587 398,581 400,575 401,570 403,564 405,559 407,554 409,548 412,543 414,537 417,532 420,527 423,522 425,517 428,513 431,509 433,504 436,501 438,497 441,494 444,491 447,487 450,484 454,480 458,476 463,472 467,468 471,464 474,460 478,457 482,453 486,450 490,446 493,443 497,440 501,436 505,433 510,429 515,425 519,421 522,419 486,373 483,376 478,379 473,383 468,388 463,392 459,396 454,399 450,403 446,407 442,411 438,415 434,419 429,423 425,428 421,432 417,437 413,441 409,446 405,452 400,457 397,463 393,468 391,473 388,478 385,483 383,489 380,494 378,500 375,506 373,512 370,518 368,525 366,531 363,539 361,546 360,553 358,561 357,568 356,575 356,582 355,589 355,596 355,603 355,611 356,619 357,627 359,635 362,643 364,651 367,659 371,666 375,673 379,681 384,688 390,695 396,701 403,705 409,709 415,712 421,715 428,717 434,719 441,721 447,722 453,723 459,724 465,724 470,724 475,724 480,723 485,722 490,720 495,718 498,715 500,712Z" fill="#4c4c4c"/>
<path d="M512,676 514,673 517,668 522,664 527,659 533,656 539,652 547,648 555,644 563,642 571,640 578,640 585,641 593,642 600,645 607,647 615,650 622,654 630,658 637,663 643,667 648,671 651,676 655,681 659,686 663,692 668,698 672,704 675,709 678,714 681,719 683,723 684,727 686,731 688,736 689,741 691,746 692,751 694,755 695,760 696,766 698,773 699,780 700,788 702,796 703,804 704,812 705,819 706,826 706,834 707,842 708,851 708,861 709,870 709,880 709,890 709,900 708,911 708,922 707,932 707,939 761,941 761,935 762,925 762,914 763,902 763,890 763,879 763,869 762,858 762,848 761,838 760,829 759,820 758,812 757,804 755,796 754,787 752,779 750,770 748,762 746,754 744,747 742,740 740,734 737,729 735,723 732,717 729,712 726,706 722,700 717,693 712,687 706,682 700,677 694,672 689,668 683,664 678,659 672,654 665,649 657,645 649,641 640,637 631,634 622,631 613,629 604,627 595,626 587,626 578,626 569,628 560,630 551,634 542,639 534,644 527,648 522,654 518,661 517,668 514,673 512,676Z" fill="#4c4c4c"/>
<path d="M506,692 509,690 511,686 512,682 514,678 516,674 519,670 521,666 524,663 527,659 530,656 534,653 538,651 542,648 546,646 550,645 555,645 560,645 565,645 571,646 577,647 582,648 588,649 593,651 599,653 604,655 608,658 613,660 617,663 621,666 624,669 626,671 628,674 629,677 630,680 632,684 633,689 634,693 636,698 637,703 638,707 638,711 639,715 639,719 639,723 639,727 638,733 637,739 636,745 635,751 633,755 632,758 631,760 629,761 627,763 625,766 622,768 620,770 619,772 617,774 614,776 610,777 606,779 601,782 596,786 590,786 583,785 575,784 566,782 558,780 552,778 547,777 543,775 540,773 538,771 536,770 536,770 538,771 540,773 543,775 547,777 552,778 558,780 566,782 575,784 583,785 590,786 596,786 602,789 608,789 613,788 618,786 623,785 626,782 629,780 632,778 634,775 636,774 639,772 642,769 644,765 647,761 649,755 650,748 652,742 653,735 654,729 654,723 654,718 654,714 653,709 652,705 651,700 650,695 649,689 648,684 646,680 645,675 644,671 642,667 639,662 636,658 631,654 627,650 621,647 616,644 610,641 604,638 598,636 592,634 586,633 579,631 573,631 567,630 560,629 554,630 547,631 541,633 535,636 530,640 525,643 521,647 518,652 514,656 512,661 510,666 508,670 506,675 505,680 504,685 504,689 506,692Z" fill="#4c4c4c"/>
<path d="M500,712 497,713 493,712 488,711 484,711 480,710 476,709 472,708 467,707 463,706 458,704 454,702 449,699 444,696 439,694 434,690 429,687 424,684 420,681 416,678 413,674 410,670 407,665 404,659 402,652 399,646 397,640 396,633 394,627 393,621 393,615 393,610 393,605 394,599 395,593 396,587 397,581 398,575 400,569 402,564 403,558 405,553 408,548 411,542 413,537 416,532 419,526 421,522 424,517 427,512 430,508 432,504 435,500 437,497 440,493 443,490 446,487 449,483 453,479 458,475 462,471 466,467 470,463 474,460 477,456 481,452 485,449 489,445 492,442 496,439 500,435 505,432 509,428 514,424 519,420 522,418 486,374 483,377 479,380 474,384 469,389 464,393 459,396 455,400 451,404 447,408 443,412 439,416 434,420 430,424 426,429 422,433 418,437 414,442 410,447 405,452 401,458 398,463 394,469 392,474 389,479 386,484 384,489 381,495 379,501 376,507 374,512 372,519 369,525 367,532 365,539 363,546 361,554 360,561 359,568 358,575 357,582 357,589 356,596 356,603 356,611 357,619 359,627 360,635 363,643 366,651 369,658 372,665 376,673 381,680 385,687 391,694 397,699 404,704 410,708 416,711 422,714 428,716 435,718 441,720 448,721 454,722 459,723 465,723 470,723 475,723 480,722 485,720 490,718 494,716 497,713 500,712Z" fill="#515151"/>
<path d="M512,676 514,673 517,668 520,662 526,658 532,655 539,651 546,647 555,644 563,641 571,639 578,639 586,640 593,642 600,644 608,646 615,649 623,653 630,657 637,662 643,666 648,671 652,675 656,680 660,686 664,691 668,697 672,703 676,708 679,713 681,718 684,722 685,726 687,731 688,736 690,741 692,746 693,750 694,755 696,760 697,766 698,773 700,780 701,788 702,796 704,804 705,812 706,819 706,826 707,834 708,842 708,851 709,861 709,870 710,880 710,890 710,900 709,911 709,922 708,932 708,939 760,941 761,935 761,925 762,914 762,902 762,890 762,879 762,869 761,858 761,848 760,838 759,829 758,820 757,812 756,804 754,796 753,787 751,779 749,770 747,762 745,754 743,747 741,741 739,735 736,729 734,723 731,718 728,712 725,706 721,700 717,694 711,688 705,683 699,678 694,673 688,669 682,664 677,660 671,655 664,650 657,646 648,642 640,638 631,635 621,632 612,630 604,628 595,627 586,627 578,627 569,629 560,631 551,635 542,640 535,644 528,649 523,655 520,662 517,668 514,673 512,676Z" fill="#515151"/>
<path d="M506,692 507,689 508,685 511,682 513,677 515,674 518,670 521,666 524,663 526,659 530,656 533,653 538,651 542,648 546,646 550,645 555,644 560,644 565,645 571,646 577,647 582,648 588,649 593,651 599,653 604,655 608,657 613,660 618,663 621,666 624,669 626,671 628,674 629,677 630,680 632,684 633,689 635,693 636,698 637,703 638,707 639,711 639,715 639,719 640,723 639,727 639,733 638,739 636,745 635,751 634,755 632,758 631,760 629,762 627,764 625,766 623,768 621,771 619,773 617,774 614,776 610,778 606,780 602,785 596,786 590,786 583,785 575,784 566,782 558,780 552,778 547,777 543,775 540,773 538,771 536,770 536,770 538,771 540,773 543,775 547,777 552,778 558,780 566,782 575,784 583,785 590,786 596,786 602,785 608,788 613,787 618,786 622,784 626,782 629,780 632,777 634,775 636,773 639,771 641,769 644,765 646,761 648,755 650,748 652,742 653,735 654,729 654,723 654,718 653,714 653,709 652,705 651,700 650,695 649,689 648,684 646,680 645,675 643,671 642,667 639,662 636,658 631,654 626,650 621,647 616,644 610,641 604,638 598,636 592,634 586,633 579,632 573,631 567,630 560,630 554,630 547,631 541,633 535,636 530,640 526,643 521,647 518,652 515,656 512,661 510,666 509,670 507,675 506,680 508,685 507,689 506,692Z" fill="#515151"/>
<path d="M500,712 497,713 494,714 489,715 484,713 480,711 476,711 471,710 467,709 463,707 458,705 453,703 448,701 443,698 438,695 433,692 428,689 423,685 419,682 415,679 412,675 409,671 406,665 403,659 400,653 398,646 396,640 394,634 393,627 392,621 392,615 392,610 392,605 393,599 394,593 395,587 396,581 397,575 399,569 400,563 402,558 404,553 407,547 409,542 412,536 415,531 418,526 420,521 423,516 426,512 429,507 431,503 434,499 436,496 439,493 442,489 445,486 448,482 453,478 457,474 461,470 465,466 469,462 473,459 477,455 481,452 484,448 488,445 492,441 496,438 499,434 504,431 509,427 514,423 518,419 521,417 487,375 484,378 480,381 475,385 469,389 465,394 460,397 456,401 452,405 448,409 443,412 439,417 435,421 431,425 427,429 423,434 419,438 415,443 411,448 406,453 402,459 399,464 395,469 393,474 390,479 387,485 385,490 382,495 380,501 377,507 375,513 373,519 370,526 368,532 366,539 364,547 362,554 361,561 360,568 359,575 358,582 358,589 358,596 357,603 358,611 358,619 360,627 362,635 364,642 367,650 370,658 374,665 378,672 382,679 387,686 392,693 398,698 404,703 411,706 417,710 423,712 429,715 435,717 442,718 448,720 454,721 460,721 465,722 470,722 475,721 480,721 485,719 489,715 494,714 497,713 500,712Z" fill="#555555"/>
<path d="M512,676 514,673 517,668 520,662 525,657 530,652 538,649 546,646 554,642 563,640 571,638 578,638 586,639 593,640 600,643 608,645 616,648 623,652 631,656 638,661 644,665 649,670 653,674 657,679 661,685 665,691 669,696 673,702 677,708 680,713 682,718 684,722 686,726 688,730 689,735 691,740 693,745 694,750 695,755 696,760 698,766 699,773 701,780 702,788 703,796 704,804 705,812 706,819 707,826 708,834 709,842 709,851 710,861 710,870 710,880 710,890 710,900 710,911 709,922 709,932 708,939 760,941 760,935 760,925 761,913 761,901 762,890 761,879 761,869 761,858 760,848 759,838 759,829 758,820 756,812 755,804 754,796 752,787 750,779 748,770 746,762 744,754 742,747 740,741 738,735 736,729 733,724 730,718 727,712 724,707 720,701 716,694 710,689 705,683 699,678 693,674 687,669 682,665 676,661 670,656 663,651 656,647 648,643 639,639 630,636 621,633 612,631 604,629 595,628 586,628 578,628 569,630 561,632 552,636 543,641 536,646 530,652 525,657 520,662 517,668 514,673 512,676Z" fill="#555555"/>
<path d="M506,692 507,689 508,685 509,681 510,676 512,672 517,670 520,666 523,662 526,659 530,656 533,653 538,650 542,648 546,646 550,645 555,644 560,644 565,645 571,646 577,647 582,648 588,649 593,651 599,653 604,655 608,657 613,660 618,663 621,666 624,669 626,671 628,674 629,677 630,680 632,684 633,689 635,693 636,698 637,703 638,707 639,711 639,715 640,719 640,723 639,727 639,733 638,739 636,745 635,751 634,755 632,758 631,760 630,762 628,764 625,766 623,769 621,771 619,773 617,775 614,777 611,779 607,784 602,785 596,786 590,786 583,785 575,784 566,782 558,780 552,778 547,777 543,775 540,773 538,771 536,770 536,770 538,771 540,773 543,775 547,777 552,778 558,780 566,782 575,784 583,785 590,786 596,786 602,785 607,784 613,786 618,785 622,784 626,782 629,780 631,777 634,775 636,773 638,771 641,769 644,765 646,761 648,755 650,748 651,742 653,735 653,729 654,723 654,718 653,714 653,709 652,705 651,700 650,695 649,689 648,684 646,680 645,675 643,671 642,667 639,663 636,658 631,654 626,650 621,647 616,644 610,641 604,639 598,636 592,634 586,633 579,632 573,631 567,630 560,630 554,630 547,631 541,633 535,636 530,640 526,644 522,648 518,652 515,657 513,661 511,666 512,672 510,676 509,681 508,685 507,689 506,692Z" fill="#555555"/>
<path d="M500,712 497,713 494,714 489,715 485,716 480,716 476,713 471,712 467,711 462,709 458,707 453,705 448,702 443,699 437,696 433,693 428,690 422,687 418,684 414,680 410,677 407,672 404,666 401,660 399,654 396,647 394,641 393,634 391,628 391,621 390,615 390,610 391,605 391,599 392,593 393,587 395,581 396,575 397,569 399,563 401,558 403,552 406,547 408,541 411,536 414,531 417,525 419,521 422,516 425,511 428,507 430,503 433,499 435,495 438,492 441,489 444,485 448,482 452,478 456,474 460,470 464,466 468,462 472,458 476,454 480,451 484,447 487,444 491,440 495,437 499,434 503,430 508,426 513,422 517,419 520,416 488,376 485,378 480,382 475,386 470,390 465,394 461,398 457,402 453,406 448,409 444,413 440,417 436,422 432,426 428,430 424,434 420,439 416,444 412,449 407,454 403,459 400,465 396,470 394,475 391,480 388,485 386,490 383,496 381,502 378,508 376,513 374,520 371,526 369,533 367,540 365,547 364,554 362,561 361,569 360,576 360,582 359,589 359,596 359,603 359,611 360,619 361,626 363,634 366,642 368,650 372,657 375,664 379,671 383,678 388,685 394,691 399,697 406,701 412,705 418,708 423,711 430,713 436,715 442,717 449,718 454,719 460,720 465,720 471,719 475,719 480,716 485,716 489,715 494,714 497,713 500,712Z" fill="#595959"/>
<path d="M512,676 514,673 517,668 520,662 525,657 530,652 537,648 544,643 553,639 562,636 570,634 578,636 586,637 593,639 601,641 608,644 616,647 624,651 632,655 639,659 645,664 650,668 654,673 658,678 662,684 666,690 670,696 674,701 678,707 681,712 683,717 685,721 687,726 689,730 690,735 692,740 693,745 695,750 696,754 697,760 699,766 700,772 701,780 703,788 704,796 705,804 706,812 707,819 708,826 709,834 709,842 710,851 710,860 711,870 711,880 711,890 711,900 711,911 710,922 710,932 709,939 759,941 759,934 760,925 760,913 761,901 761,890 761,879 760,869 760,858 759,848 759,838 758,829 757,820 756,812 754,804 753,796 751,788 749,779 748,770 746,762 743,754 741,748 739,741 737,735 735,729 732,724 730,718 727,713 723,707 719,701 715,695 709,689 704,684 698,679 692,675 686,670 681,666 675,661 669,657 662,652 655,648 647,644 638,641 629,637 620,634 612,632 603,631 595,630 586,630 578,631 570,634 562,636 553,639 544,643 537,648 530,652 525,657 520,662 517,668 514,673 512,676Z" fill="#595959"/>
<path d="M506,692 507,689 508,685 509,681 510,676 512,672 516,669 520,666 523,662 526,659 529,656 533,653 537,650 542,648 546,646 550,645 555,644 560,644 565,645 571,646 577,647 582,648 588,649 593,651 599,653 604,655 608,657 613,660 618,663 622,666 625,669 627,671 628,674 629,677 631,680 632,684 633,689 635,693 636,698 637,703 638,707 639,711 639,715 640,719 640,723 640,727 639,733 638,739 637,745 635,751 634,756 633,758 631,760 630,762 628,764 625,766 623,769 621,771 619,773 617,775 614,777 612,783 607,784 602,785 596,786 590,786 583,785 575,784 566,782 558,780 552,778 547,777 543,775 540,773 538,771 536,770 536,770 538,771 540,773 543,775 547,777 552,778 558,780 566,782 575,784 583,785 590,786 596,786 602,785 607,784 612,783 618,785 622,784 626,782 629,779 631,777 634,775 636,773 638,771 641,769 644,765 646,760 648,755 650,748 651,742 652,735 653,729 654,723 654,718 653,714 653,709 652,705 651,700 650,695 649,689 648,684 646,680 645,675 643,671 641,667 639,663 635,658 631,654 626,651 621,647 616,644 610,641 604,639 598,636 592,635 586,633 579,632 573,631 567,630 560,630 554,630 547,631 541,634 535,637 530,640 526,644 522,648 518,652 515,657 513,662 512,667 512,672 510,676 509,681 508,685 507,689 506,692Z" fill="#595959"/>
<path d="M500,712 497,713 494,714 489,715 485,716 480,716 476,716 471,716 466,715 461,714 456,713 452,708 447,705 442,702 436,699 432,695 426,692 421,689 417,686 412,682 408,678 405,673 402,667 399,661 397,654 395,648 393,641 391,635 390,628 389,622 388,616 389,610 389,604 390,599 391,593 392,587 393,580 394,574 396,569 398,563 399,557 402,552 404,547 407,541 410,535 413,530 416,525 418,520 421,515 424,511 426,506 429,502 432,498 434,495 437,491 440,488 443,484 447,481 451,477 455,473 459,469 463,465 467,461 471,457 475,454 479,450 483,446 487,443 490,440 494,436 498,433 502,429 507,425 512,421 517,418 520,415 488,377 485,379 481,383 476,387 471,391 466,395 462,399 457,403 453,406 449,410 445,414 441,418 437,422 433,427 429,431 425,435 421,440 417,444 412,449 408,455 404,460 401,465 397,471 395,476 392,481 390,486 387,491 384,497 382,502 379,508 377,514 375,520 373,527 370,533 368,540 367,548 365,555 364,562 363,569 362,576 361,583 361,589 360,596 360,603 361,611 362,618 363,626 365,634 367,641 370,649 373,656 377,663 381,670 385,677 390,684 396,690 401,695 407,699 413,703 419,706 424,709 431,711 437,713 443,714 450,715 456,713 461,714 466,715 471,716 476,716 480,716 485,716 489,715 494,714 497,713 500,712Z" fill="#5e5e5e"/>
<path d="M512,676 514,673 517,668 520,662 525,657 530,652 537,648 544,643 553,639 562,636 570,634 578,633 586,633 594,634 602,636 610,638 617,644 625,648 633,653 640,657 646,662 651,667 655,672 659,677 663,683 667,689 671,695 675,701 678,706 682,712 684,716 686,721 688,725 689,730 691,735 693,740 694,745 696,749 697,754 698,759 699,765 701,772 702,780 703,788 705,796 706,804 707,811 708,819 709,826 709,834 710,842 711,851 711,860 711,870 712,880 712,890 712,900 711,911 711,922 710,932 710,939 758,941 758,934 759,925 760,913 760,901 760,890 760,879 760,869 759,858 759,848 758,838 757,829 756,820 755,812 754,804 752,796 751,788 749,779 747,771 745,762 743,755 741,748 739,741 736,736 734,730 731,724 729,719 726,713 722,707 719,702 714,696 709,690 703,685 697,680 691,675 685,671 680,667 674,663 668,658 661,654 654,650 646,646 637,643 628,640 619,637 610,638 602,636 594,634 586,633 578,633 570,634 562,636 553,639 544,643 537,648 530,652 525,657 520,662 517,668 514,673 512,676Z" fill="#5e5e5e"/>
<path d="M506,692 507,689 508,685 509,681 510,676 512,672 514,668 519,665 522,662 526,658 529,655 533,653 537,650 542,648 546,646 550,644 555,644 560,644 565,645 571,645 577,646 582,648 588,649 593,651 599,653 604,655 609,657 613,660 618,663 622,666 625,668 627,671 628,674 629,677 631,680 632,684 634,689 635,693 636,698 637,703 638,707 639,711 639,715 640,719 640,723 640,727 639,733 638,739 637,745 635,751 634,756 633,758 631,760 630,762 628,764 625,766 623,769 621,771 619,773 617,776 616,781 612,783 607,784 602,785 596,786 590,786 583,785 575,784 566,782 558,780 552,778 547,777 543,775 540,773 538,771 536,770 536,770 538,771 540,773 543,775 547,777 552,778 558,780 566,782 575,784 583,785 590,786 596,786 602,785 607,784 612,783 616,781 622,783 625,781 629,779 631,777 633,775 636,773 638,771 641,768 644,765 646,760 648,755 650,748 651,741 652,735 653,729 654,723 653,718 653,714 653,709 652,705 651,700 650,695 649,689 647,684 646,680 645,676 643,671 641,667 639,663 635,658 631,654 626,651 621,647 616,644 610,641 604,639 598,637 592,635 586,633 579,632 573,631 567,630 560,630 554,630 547,632 541,634 536,637 531,640 526,644 522,648 519,652 516,657 514,662 514,668 512,672 510,676 509,681 508,685 507,689 506,692Z" fill="#5e5e5e"/>
<path d="M500,712 497,713 494,714 489,715 485,716 480,716 476,716 471,716 466,715 461,714 456,713 451,711 445,710 439,707 434,705 428,702 423,699 417,696 412,693 407,689 402,684 402,676 399,669 397,662 394,655 392,649 390,642 389,635 388,629 387,622 387,616 387,610 387,604 388,599 389,593 390,586 392,580 393,574 394,568 396,562 398,557 400,551 403,546 406,540 409,535 412,530 414,524 417,519 420,515 423,510 425,506 428,501 431,498 433,494 436,491 439,487 442,484 446,480 450,476 454,472 459,468 463,464 467,460 470,456 474,453 478,449 482,446 486,442 490,439 493,435 497,432 502,428 507,424 512,420 516,417 519,414 489,378 486,380 482,384 477,388 472,392 467,396 462,400 458,403 454,407 450,411 446,415 442,419 438,423 433,427 429,432 425,436 422,441 417,445 413,450 409,455 405,461 401,466 398,471 396,476 393,481 391,486 388,492 385,497 383,503 381,509 378,514 376,521 374,527 372,534 370,541 368,548 366,555 365,562 364,569 363,576 363,583 362,589 362,596 362,603 362,611 363,618 365,626 367,633 370,641 372,648 376,655 380,662 384,669 388,676 394,681 402,684 407,689 412,693 417,696 423,699 428,702 434,705 439,707 445,710 451,711 456,713 461,714 466,715 471,716 476,716 480,716 485,716 489,715 494,714 497,713 500,712Z" fill="#626262"/>
<path d="M512,676 514,673 517,668 520,662 525,657 530,652 537,648 544,643 553,639 562,636 570,634 578,633 586,633 594,634 602,636 610,638 618,641 627,644 635,648 643,652 650,656 653,665 657,670 660,676 664,682 668,688 672,694 676,700 679,705 682,711 685,716 687,720 689,725 690,729 692,734 693,739 695,744 696,749 698,754 699,759 700,765 701,772 703,780 704,788 705,796 707,804 708,811 708,819 709,826 710,834 711,842 711,851 712,860 712,870 712,880 713,890 712,900 712,911 711,922 711,932 711,939 757,941 758,934 758,925 759,913 759,901 759,890 759,879 759,869 759,858 758,848 757,838 756,829 755,821 754,812 753,804 751,796 750,788 748,779 746,771 744,762 742,755 740,748 738,742 736,736 733,730 731,725 728,719 725,714 721,708 718,702 713,696 708,691 702,686 696,681 690,676 684,672 678,668 673,664 666,660 660,656 650,656 643,652 635,648 627,644 618,641 610,638 602,636 594,634 586,633 578,633 570,634 562,636 553,639 544,643 537,648 530,652 525,657 520,662 517,668 514,673 512,676Z" fill="#626262"/>
<path d="M506,692 507,689 508,685 509,681 510,676 512,672 514,668 516,664 522,661 525,658 529,655 533,653 537,650 542,647 546,646 550,644 555,644 560,644 565,644 571,645 577,646 582,647 588,649 593,651 599,653 604,655 609,657 613,660 618,663 622,666 625,668 627,671 628,674 630,677 631,680 632,684 634,689 635,693 636,698 637,703 638,707 639,711 640,715 640,719 640,723 640,727 639,733 638,739 637,745 635,751 634,756 633,758 632,760 630,762 628,764 626,767 623,769 621,772 620,774 618,776 616,781 612,783 607,784 602,785 596,786 590,786 583,785 575,784 566,782 558,780 552,778 547,777 543,775 540,773 538,771 536,770 536,770 538,771 540,773 543,775 547,777 552,778 558,780 566,782 575,784 583,785 590,786 596,786 602,785 607,784 612,783 616,781 621,782 625,781 628,779 631,777 633,775 636,773 638,771 641,768 644,765 646,760 648,755 650,748 651,741 652,735 653,729 653,723 653,718 653,714 652,709 652,705 651,700 650,695 649,689 647,684 646,680 644,676 643,671 641,667 639,663 635,658 631,654 626,651 621,647 615,644 610,641 604,639 598,637 592,635 585,633 579,632 573,631 567,630 560,630 554,630 547,632 541,634 536,637 531,640 526,644 522,648 519,653 517,658 516,664 514,668 512,672 510,676 509,681 508,685 507,689 506,692Z" fill="#626262"/>
<path d="M500,712 497,713 494,714 489,715 485,716 480,716 476,716 471,716 466,715 461,714 456,713 451,711 445,710 439,707 434,705 428,702 423,699 417,696 412,693 407,689 402,684 398,679 394,672 390,666 387,659 384,652 386,644 385,636 385,629 384,622 384,616 384,610 385,604 386,598 387,592 388,586 390,580 391,574 393,568 395,562 396,556 399,551 402,545 405,540 408,534 411,529 413,524 416,519 419,514 422,510 424,505 427,501 430,497 432,493 435,490 438,486 441,483 445,479 449,475 453,471 458,467 462,463 466,459 470,456 474,452 478,448 481,445 485,441 489,438 493,435 497,431 501,427 506,423 511,419 515,416 518,414 490,378 487,381 483,384 477,388 472,393 467,397 463,401 459,404 455,408 451,412 446,416 442,420 438,424 434,428 430,433 426,437 422,441 418,446 414,451 410,456 406,462 402,467 399,472 397,477 394,482 392,487 389,492 387,498 384,503 382,509 379,515 377,521 375,528 373,534 371,541 370,548 368,555 367,562 366,569 365,576 365,583 365,590 364,596 364,603 365,611 366,618 368,625 370,633 373,640 377,647 384,652 387,659 390,666 394,672 398,679 402,684 407,689 412,693 417,696 423,699 428,702 434,705 439,707 445,710 451,711 456,713 461,714 466,715 471,716 476,716 480,716 485,716 489,715 494,714 497,713 500,712Z" fill="#666666"/>
<path d="M512,676 514,673 517,668 520,662 525,657 530,652 537,648 544,643 553,639 562,636 570,634 578,633 586,633 594,634 602,636 610,638 618,641 627,644 635,648 643,652 650,656 656,660 662,665 663,673 666,680 670,686 673,692 677,699 680,704 683,710 686,715 688,720 690,724 691,729 693,734 694,739 696,744 697,749 698,754 700,759 701,765 702,772 704,779 705,787 706,796 707,804 708,811 709,819 710,826 711,834 711,842 712,851 712,860 713,870 713,880 713,890 713,900 713,911 712,922 712,932 711,939 757,941 757,934 758,925 758,913 759,901 759,890 759,879 758,869 758,858 757,848 757,838 756,829 755,821 754,812 752,804 751,796 749,788 747,779 745,771 743,763 741,755 739,748 737,742 735,736 732,730 730,725 727,720 724,714 721,708 717,703 712,697 707,692 701,687 695,682 689,678 682,674 676,670 670,667 662,665 656,660 650,656 643,652 635,648 627,644 618,641 610,638 602,636 594,634 586,633 578,633 570,634 562,636 553,639 544,643 537,648 530,652 525,657 520,662 517,668 514,673 512,676Z" fill="#666666"/>
<path d="M506,692 507,689 508,685 509,681 510,676 512,672 514,668 516,664 519,659 525,658 528,655 533,652 537,650 541,647 546,645 550,644 555,644 560,644 565,644 571,645 577,646 582,647 588,649 593,650 599,652 604,655 609,657 613,660 618,663 622,666 625,668 627,671 628,674 630,677 631,680 632,684 634,689 635,693 636,698 637,703 638,707 639,711 640,715 640,719 640,723 640,727 639,733 638,739 637,745 636,751 634,756 633,759 632,761 630,762 628,764 626,767 624,769 622,772 620,774 620,779 616,781 612,783 607,784 602,785 596,786 590,786 583,785 575,784 566,782 558,780 552,778 547,777 543,775 540,773 538,771 536,770 536,770 538,771 540,773 543,775 547,777 552,778 558,780 566,782 575,784 583,785 590,786 596,786 602,785 607,784 612,783 616,781 620,779 625,780 628,779 631,776 633,774 635,773 638,771 641,768 643,765 646,760 648,755 649,748 651,741 652,735 653,729 653,723 653,718 653,714 652,709 652,705 651,700 650,695 649,690 647,684 646,680 644,676 643,671 641,667 639,663 635,658 631,654 626,651 621,647 615,644 610,641 604,639 598,637 592,635 585,633 579,632 573,631 567,631 560,630 554,631 547,632 541,634 536,637 531,641 526,644 523,649 520,653 519,659 516,664 514,668 512,672 510,676 509,681 508,685 507,689 506,692Z" fill="#666666"/>
<path d="M500,712 497,713 494,714 489,715 485,716 480,716 476,716 471,716 466,715 461,714 456,713 451,711 445,710 439,707 434,705 428,702 423,699 417,696 412,693 407,689 402,684 398,679 394,672 390,666 387,659 384,652 381,645 379,638 377,631 376,624 375,617 380,610 381,604 383,598 384,592 386,586 387,580 389,573 391,567 393,562 395,556 397,550 400,545 403,539 406,534 409,528 412,523 415,518 418,514 420,509 423,504 426,500 429,496 431,493 434,489 437,486 440,482 444,478 448,474 453,470 457,466 461,462 465,459 469,455 473,451 477,448 481,444 484,441 488,437 492,434 496,430 500,427 505,423 510,419 514,415 517,413 491,379 488,382 483,385 478,389 473,394 468,398 464,401 460,405 456,409 451,413 447,416 443,421 439,425 435,429 431,433 427,438 423,442 419,447 415,452 411,457 407,462 404,468 400,473 398,478 395,482 393,488 390,493 388,498 385,504 383,510 381,516 379,522 377,528 375,535 373,542 371,549 370,556 369,563 368,570 368,577 367,583 367,590 368,597 368,604 370,610 375,617 376,624 377,631 379,638 381,645 384,652 387,659 390,666 394,672 398,679 402,684 407,689 412,693 417,696 423,699 428,702 434,705 439,707 445,710 451,711 456,713 461,714 466,715 471,716 476,716 480,716 485,716 489,715 494,714 497,713 500,712Z" fill="#6a6a6a"/>
<path d="M512,676 514,673 517,668 520,662 525,657 530,652 537,648 544,643 553,639 562,636 570,634 578,633 586,633 594,634 602,636 610,638 618,641 627,644 635,648 643,652 650,656 656,660 662,665 666,670 671,675 676,680 675,691 678,697 682,703 685,709 687,714 689,719 691,724 692,728 694,733 695,739 697,744 698,749 699,753 700,759 702,765 703,772 704,779 706,787 707,795 708,803 709,811 710,818 711,826 711,834 712,842 713,851 713,860 714,870 714,880 714,890 714,900 713,911 713,922 712,932 712,939 756,941 756,934 757,925 757,913 758,901 758,890 758,879 758,869 757,858 757,848 756,838 755,829 754,821 753,813 752,805 750,797 748,788 747,780 745,771 742,763 740,755 738,748 736,742 734,736 731,731 729,725 726,720 723,714 720,709 716,703 711,698 706,692 700,688 693,683 687,680 676,680 671,675 666,670 662,665 656,660 650,656 643,652 635,648 627,644 618,641 610,638 602,636 594,634 586,633 578,633 570,634 562,636 553,639 544,643 537,648 530,652 525,657 520,662 517,668 514,673 512,676Z" fill="#6a6a6a"/>
<path d="M506,692 507,689 508,685 509,681 510,676 512,672 514,668 516,664 519,659 522,655 528,654 532,652 537,649 541,647 546,645 550,644 555,644 560,644 565,644 571,645 577,646 582,647 588,649 593,650 599,652 604,654 609,657 613,660 618,663 622,665 625,668 627,671 628,673 630,677 631,680 632,684 634,689 635,693 636,698 638,703 638,707 639,711 640,715 640,719 640,723 640,727 639,733 638,739 637,745 636,751 634,756 633,759 632,761 630,762 628,764 626,767 624,770 622,772 621,775 620,779 616,781 612,783 607,784 602,785 596,786 590,786 583,785 575,784 566,782 558,780 552,778 547,777 543,775 540,773 538,771 536,770 536,770 538,771 540,773 543,775 547,777 552,778 558,780 566,782 575,784 583,785 590,786 596,786 602,785 607,784 612,783 616,781 620,779 624,779 628,778 630,776 633,774 635,773 638,771 641,768 643,765 646,760 648,755 649,748 651,741 652,735 653,729 653,723 653,718 653,714 652,709 652,705 651,700 650,695 648,690 647,684 646,680 644,676 643,672 641,667 639,663 635,659 631,655 626,651 621,647 615,644 610,642 604,639 598,637 592,635 585,633 579,632 573,631 567,631 560,630 554,631 547,632 541,634 536,637 531,641 527,645 523,649 522,655 519,659 516,664 514,668 512,672 510,676 509,681 508,685 507,689 506,692Z" fill="#6a6a6a"/>
<path d="M500,712 497,713 494,714 489,715 485,716 480,716 476,716 471,716 466,715 461,714 456,713 451,711 445,710 439,707 434,705 428,702 423,699 417,696 412,693 407,689 402,684 398,679 394,672 390,666 387,659 384,652 381,645 379,638 377,631 376,624 375,617 375,610 375,604 375,597 376,591 377,585 383,579 385,573 387,567 390,561 392,555 395,550 398,544 401,539 405,533 408,528 411,523 413,518 416,513 419,508 422,504 425,499 428,496 430,492 433,488 436,485 439,481 443,477 447,474 452,469 456,465 460,461 464,458 468,454 472,450 476,447 480,443 484,440 487,436 491,433 495,429 500,426 505,422 509,418 514,414 517,412 491,380 488,383 484,386 479,390 474,395 469,399 465,402 460,406 456,410 452,413 448,417 444,421 440,426 436,430 432,434 428,439 424,443 420,448 416,453 412,458 408,463 405,468 402,473 399,478 397,483 394,488 392,493 389,499 387,505 384,510 382,516 380,522 378,529 377,536 375,543 374,550 373,557 372,564 372,570 372,577 377,585 376,591 375,597 375,604 375,610 375,617 376,624 377,631 379,638 381,645 384,652 387,659 390,666 394,672 398,679 402,684 407,689 412,693 417,696 423,699 428,702 434,705 439,707 445,710 451,711 456,713 461,714 466,715 471,716 476,716 480,716 485,716 489,715 494,714 497,713 500,712Z" fill="#6e6e6e"/>
<path d="M512,676 514,673 517,668 520,662 525,657 530,652 537,648 544,643 553,639 562,636 570,634 578,633 586,633 594,634 602,636 610,638 618,641 627,644 635,648 643,652 650,656 656,660 662,665 666,670 671,675 676,680 681,685 681,695 683,702 686,708 688,714 690,718 692,723 693,728 695,733 696,738 698,743 699,748 700,753 701,759 702,765 704,772 705,779 706,787 708,795 709,803 710,811 711,818 711,826 712,833 713,842 713,851 714,860 714,870 714,880 715,890 714,900 714,911 713,923 713,932 713,939 755,941 756,934 756,925 757,913 757,901 757,890 757,879 757,869 757,858 756,848 755,838 754,829 753,821 752,813 751,805 749,797 748,788 746,780 744,771 742,763 740,755 737,749 735,742 733,737 730,731 728,726 725,720 722,715 718,709 714,704 710,698 704,693 698,689 691,685 681,685 676,680 671,675 666,670 662,665 656,660 650,656 643,652 635,648 627,644 618,641 610,638 602,636 594,634 586,633 578,633 570,634 562,636 553,639 544,643 537,648 530,652 525,657 520,662 517,668 514,673 512,676Z" fill="#6e6e6e"/>
<path d="M506,692 507,689 508,685 509,681 510,676 512,672 514,668 516,664 519,659 522,655 526,652 532,652 537,649 541,647 546,645 550,644 555,643 560,644 565,644 571,645 577,646 582,647 588,649 593,650 599,652 604,654 609,657 614,660 618,662 622,665 625,668 627,671 628,673 630,676 631,680 632,684 634,688 635,693 637,698 638,703 639,707 639,711 640,715 640,719 640,723 640,727 639,733 639,739 637,745 636,751 635,756 633,759 632,761 630,763 628,765 626,767 624,770 623,773 622,777 620,779 616,781 612,783 607,784 602,785 596,786 590,786 583,785 575,784 566,782 558,780 552,778 547,777 543,775 540,773 538,771 536,770 536,770 538,771 540,773 543,775 547,777 552,778 558,780 566,782 575,784 583,785 590,786 596,786 602,785 607,784 612,783 616,781 620,779 622,777 627,778 630,776 633,774 635,772 638,771 640,768 643,765 645,760 647,755 649,748 651,741 652,735 653,729 653,723 653,718 653,714 652,709 651,705 651,700 650,695 648,690 647,684 646,680 644,676 643,672 641,667 639,663 635,659 631,655 626,651 621,648 615,644 610,642 604,639 598,637 592,635 585,634 579,632 573,631 567,631 560,631 554,631 547,632 541,634 536,637 531,641 527,645 526,652 522,655 519,659 516,664 514,668 512,672 510,676 509,681 508,685 507,689 506,692Z" fill="#6e6e6e"/>
<path d="M500,712 497,713 494,714 489,715 485,716 480,716 476,716 471,716 466,715 461,714 456,713 451,711 445,710 439,707 434,705 428,702 423,699 417,696 412,693 407,689 402,684 398,679 394,672 390,666 387,659 384,652 381,645 379,638 377,631 376,624 375,617 375,610 375,604 375,597 376,591 377,585 377,578 379,572 380,565 381,559 383,552 391,548 395,543 399,538 403,532 406,527 409,522 412,517 415,512 418,507 420,503 423,499 426,495 429,491 432,487 435,484 438,480 442,477 446,473 451,469 455,464 459,461 463,457 467,453 471,449 475,446 479,442 483,439 486,435 490,432 494,428 499,425 504,421 509,417 513,413 516,411 492,381 489,384 485,387 480,391 474,395 470,400 465,403 461,407 457,411 453,414 449,418 445,422 441,427 437,431 433,435 429,440 425,444 421,449 417,454 413,459 409,464 406,469 403,474 400,479 398,484 396,489 393,494 391,500 388,505 386,511 384,517 382,523 381,530 379,537 379,544 383,552 381,559 380,565 379,572 377,578 377,585 376,591 375,597 375,604 375,610 375,617 376,624 377,631 379,638 381,645 384,652 387,659 390,666 394,672 398,679 402,684 407,689 412,693 417,696 423,699 428,702 434,705 439,707 445,710 451,711 456,713 461,714 466,715 471,716 476,716 480,716 485,716 489,715 494,714 497,713 500,712Z" fill="#737373"/>
<path d="M512,676 514,673 517,668 520,662 525,657 530,652 537,648 544,643 553,639 562,636 570,634 578,633 586,633 594,634 602,636 610,638 618,641 627,644 635,648 643,652 650,656 656,660 662,665 666,670 671,675 676,680 681,685 686,690 686,700 688,707 690,713 691,718 693,722 694,727 696,733 697,738 699,743 700,748 701,753 702,758 703,764 705,771 706,779 707,787 708,795 709,803 710,811 711,818 712,826 713,833 713,842 714,851 714,860 715,870 715,880 715,890 715,900 715,912 714,923 714,932 713,939 755,941 755,934 756,925 756,913 757,901 757,890 757,879 756,869 756,858 755,848 755,838 754,829 753,821 751,813 750,805 749,797 747,788 745,780 743,771 741,763 739,756 736,749 734,743 732,737 729,732 727,726 724,721 721,716 717,710 713,705 708,699 703,695 696,691 686,690 681,685 676,680 671,675 666,670 662,665 656,660 650,656 643,652 635,648 627,644 618,641 610,638 602,636 594,634 586,633 578,633 570,634 562,636 553,639 544,643 537,648 530,652 525,657 520,662 517,668 514,673 512,676Z" fill="#737373"/>
<path d="M506,692 507,689 508,685 509,681 510,676 512,672 514,668 516,664 519,659 522,655 526,652 532,651 537,649 541,647 546,645 550,644 555,643 560,643 565,644 571,645 577,646 582,647 588,649 594,650 599,652 604,654 609,657 614,659 618,662 622,665 625,668 627,671 629,673 630,676 631,680 633,684 634,688 635,693 637,698 638,703 639,707 639,711 640,715 640,719 640,723 640,727 640,733 639,739 637,746 636,751 635,756 633,759 632,761 631,763 629,765 626,767 624,770 625,775 622,777 620,779 616,781 612,783 607,784 602,785 596,786 590,786 583,785 575,784 566,782 558,780 552,778 547,777 543,775 540,773 538,771 536,770 536,770 538,771 540,773 543,775 547,777 552,778 558,780 566,782 575,784 583,785 590,786 596,786 602,785 607,784 612,783 616,781 620,779 622,777 625,775 630,776 632,774 635,772 638,770 640,768 643,765 645,760 647,755 649,748 651,741 652,735 653,729 653,723 653,718 653,714 652,709 651,705 651,700 649,695 648,690 647,685 645,680 644,676 643,672 641,667 638,663 635,659 631,655 626,651 621,648 615,644 610,642 604,639 598,637 592,635 585,634 579,632 573,632 567,631 560,631 554,631 547,632 542,635 536,638 531,641 527,646 526,652 522,655 519,659 516,664 514,668 512,672 510,676 509,681 508,685 507,689 506,692Z" fill="#737373"/>
<path d="M500,712 497,713 494,714 489,715 485,716 480,716 476,716 471,716 466,715 461,714 456,713 451,711 445,710 439,707 434,705 428,702 423,699 417,696 412,693 407,689 402,684 398,679 394,672 390,666 387,659 384,652 381,645 379,638 377,631 376,624 375,617 375,610 375,604 375,597 376,591 377,585 377,578 379,572 380,565 381,559 383,552 385,546 387,540 395,536 400,531 404,526 407,521 410,516 413,511 416,506 419,502 422,498 425,494 427,490 430,487 434,483 437,479 441,475 445,471 450,467 454,463 458,460 462,456 466,452 470,448 474,445 478,441 482,438 486,434 490,431 493,427 498,424 503,420 508,416 512,412 515,410 493,382 490,385 486,388 481,392 475,396 471,401 466,404 462,408 458,412 454,415 450,419 446,423 442,427 438,432 434,436 430,441 426,445 422,450 418,455 414,460 410,465 407,470 404,475 402,480 400,485 397,490 395,495 393,501 390,506 388,512 386,518 385,525 385,532 387,540 385,546 383,552 381,559 380,565 379,572 377,578 377,585 376,591 375,597 375,604 375,610 375,617 376,624 377,631 379,638 381,645 384,652 387,659 390,666 394,672 398,679 402,684 407,689 412,693 417,696 423,699 428,702 434,705 439,707 445,710 451,711 456,713 461,714 466,715 471,716 476,716 480,716 485,716 489,715 494,714 497,713 500,712Z" fill="#777777"/>
<path d="M512,676 514,673 517,668 520,662 525,657 530,652 537,648 544,643 553,639 562,636 570,634 578,633 586,633 594,634 602,636 610,638 618,641 627,644 635,648 643,652 650,656 656,660 662,665 666,670 671,675 676,680 681,685 686,690 691,696 691,704 692,711 693,717 695,722 696,727 697,732 698,737 700,743 701,748 702,753 703,758 704,764 705,771 707,779 708,787 709,795 710,803 711,811 712,818 713,826 713,833 714,842 715,851 715,860 716,870 716,880 716,890 716,900 715,912 715,923 714,932 714,939 754,941 754,934 755,925 755,913 756,901 756,890 756,879 756,869 755,858 755,848 754,838 753,829 752,821 751,813 749,805 748,797 746,789 744,780 742,771 740,763 738,756 736,749 733,743 731,737 728,732 726,727 723,721 719,716 716,711 711,706 706,701 699,698 691,696 686,690 681,685 676,680 671,675 666,670 662,665 656,660 650,656 643,652 635,648 627,644 618,641 610,638 602,636 594,634 586,633 578,633 570,634 562,636 553,639 544,643 537,648 530,652 525,657 520,662 517,668 514,673 512,676Z" fill="#777777"/>
<path d="M506,692 507,689 508,685 509,681 510,676 512,672 514,668 516,664 519,659 522,655 526,652 531,650 536,649 541,646 546,645 550,644 555,643 560,643 565,644 571,645 577,646 582,647 588,648 594,650 599,652 604,654 609,657 614,659 618,662 622,665 625,668 627,671 629,673 630,676 631,680 633,684 634,688 635,693 637,698 638,702 639,707 639,711 640,715 640,719 641,723 640,727 640,733 639,739 638,746 636,751 635,756 634,759 632,761 631,763 629,765 627,768 625,771 625,775 622,777 620,779 616,781 612,783 607,784 602,785 596,786 590,786 583,785 575,784 566,782 558,780 552,778 547,777 543,775 540,773 538,771 536,770 536,770 538,771 540,773 543,775 547,777 552,778 558,780 566,782 575,784 583,785 590,786 596,786 602,785 607,784 612,783 616,781 620,779 622,777 625,775 629,775 632,773 635,772 637,770 640,768 643,764 645,760 647,755 649,748 650,741 652,735 652,729 653,723 653,718 652,714 652,709 651,705 650,700 649,695 648,690 647,685 645,680 644,676 643,672 641,667 638,663 635,659 631,655 626,651 621,648 615,645 610,642 604,639 598,637 592,635 585,634 579,633 573,632 567,631 560,631 554,631 547,632 542,635 536,638 531,642 528,646 526,652 522,655 519,659 516,664 514,668 512,672 510,676 509,681 508,685 507,689 506,692Z" fill="#777777"/>
<path d="M500,712 497,713 494,714 489,715 485,716 480,716 476,716 471,716 466,715 461,714 456,713 451,711 445,710 439,707 434,705 428,702 423,699 417,696 412,693 407,689 402,684 398,679 394,672 390,666 387,659 384,652 381,645 379,638 377,631 376,624 375,617 375,610 375,604 375,597 376,591 377,585 377,578 379,572 380,565 381,559 383,552 385,546 387,540 390,534 392,528 395,522 402,519 406,514 410,510 413,505 416,501 420,496 423,493 426,489 429,485 432,482 436,478 440,474 444,470 448,466 453,462 457,458 461,455 465,451 469,447 473,444 477,440 481,437 485,433 489,430 493,426 497,423 502,419 507,415 511,411 514,409 494,383 491,386 486,389 481,393 476,398 471,402 467,405 463,409 459,413 455,416 451,420 447,424 443,429 439,433 435,437 431,442 427,446 424,451 420,456 416,461 412,466 409,471 406,476 404,481 402,486 400,491 398,497 396,502 394,508 393,514 395,522 392,528 390,534 387,540 385,546 383,552 381,559 380,565 379,572 377,578 377,585 376,591 375,597 375,604 375,610 375,617 376,624 377,631 379,638 381,645 384,652 387,659 390,666 394,672 398,679 402,684 407,689 412,693 417,696 423,699 428,702 434,705 439,707 445,710 451,711 456,713 461,714 466,715 471,716 476,716 480,716 485,716 489,715 494,714 497,713 500,712Z" fill="#7b7b7b"/>
<path d="M512,676 514,673 517,668 520,662 525,657 530,652 537,648 544,643 553,639 562,636 570,634 578,633 586,633 594,634 602,636 610,638 618,641 627,644 635,648 643,652 650,656 656,660 662,665 666,670 671,675 676,680 681,685 686,690 691,696 695,701 699,706 696,715 697,721 698,726 699,731 700,737 701,742 702,747 703,752 704,758 705,764 706,771 708,779 709,787 710,795 711,803 712,811 713,818 714,826 714,833 715,842 715,851 716,860 716,870 717,880 717,890 716,900 716,912 716,923 715,932 715,939 753,941 754,934 754,925 755,913 755,901 755,890 755,879 755,869 755,858 754,848 753,838 752,829 751,821 750,813 749,805 747,797 745,789 743,780 741,772 739,764 737,756 735,749 732,743 730,738 727,732 724,727 721,722 718,717 714,712 709,707 699,706 695,701 691,696 686,690 681,685 676,680 671,675 666,670 662,665 656,660 650,656 643,652 635,648 627,644 618,641 610,638 602,636 594,634 586,633 578,633 570,634 562,636 553,639 544,643 537,648 530,652 525,657 520,662 517,668 514,673 512,676Z" fill="#7b7b7b"/>
<path d="M506,692 507,689 508,685 509,681 510,676 512,672 514,668 516,664 519,659 522,655 526,652 530,648 536,648 541,646 546,644 550,643 555,643 560,643 565,644 571,645 577,646 582,647 588,648 594,650 599,652 604,654 609,657 614,659 618,662 622,665 625,668 627,671 629,673 630,676 631,680 633,684 634,688 636,693 637,698 638,702 639,707 640,711 640,715 641,719 641,723 640,727 640,733 639,739 638,746 636,751 635,756 634,759 632,761 631,763 629,765 627,768 627,773 625,775 622,777 620,779 616,781 612,783 607,784 602,785 596,786 590,786 583,785 575,784 566,782 558,780 552,778 547,777 543,775 540,773 538,771 536,770 536,770 538,771 540,773 543,775 547,777 552,778 558,780 566,782 575,784 583,785 590,786 596,786 602,785 607,784 612,783 616,781 620,779 622,777 625,775 627,773 632,773 634,772 637,770 640,768 643,764 645,760 647,755 649,748 650,741 652,735 652,729 653,723 653,718 652,714 652,709 651,705 650,700 649,695 648,690 647,685 645,680 644,676 643,672 641,667 638,663 635,659 631,655 626,651 621,648 615,645 610,642 604,639 598,637 592,635 585,634 579,633 573,632 567,631 560,631 554,631 548,633 542,635 536,638 532,642 530,648 526,652 522,655 519,659 516,664 514,668 512,672 510,676 509,681 508,685 507,689 506,692Z" fill="#7b7b7b"/>
<path d="M500,712 497,713 494,714 489,715 485,716 480,716 476,716 471,716 466,715 461,714 456,713 451,711 445,710 439,707 434,705 428,702 423,699 417,696 412,693 407,689 402,684 398,679 394,672 390,666 387,659 384,652 381,645 379,638 377,631 376,624 375,617 375,610 375,604 375,597 376,591 377,585 377,578 379,572 380,565 381,559 383,552 385,546 387,540 390,534 392,528 395,522 398,516 400,511 403,506 405,501 408,496 415,494 419,491 423,487 426,484 430,480 434,476 438,473 442,469 447,465 451,461 455,457 460,453 464,450 468,446 472,443 476,439 480,435 484,432 487,429 491,425 496,421 501,417 506,413 510,410 513,407 495,385 492,387 487,391 482,395 477,399 473,403 468,407 464,410 460,414 456,418 452,421 448,426 444,430 440,434 437,439 433,443 429,448 425,453 421,458 418,463 414,468 411,473 409,478 407,483 406,489 408,496 405,501 403,506 400,511 398,516 395,522 392,528 390,534 387,540 385,546 383,552 381,559 380,565 379,572 377,578 377,585 376,591 375,597 375,604 375,610 375,617 376,624 377,631 379,638 381,645 384,652 387,659 390,666 394,672 398,679 402,684 407,689 412,693 417,696 423,699 428,702 434,705 439,707 445,710 451,711 456,713 461,714 466,715 471,716 476,716 480,716 485,716 489,715 494,714 497,713 500,712Z" fill="#808080"/>
<path d="M512,676 514,673 517,668 520,662 525,657 530,652 537,648 544,643 553,639 562,636 570,634 578,633 586,633 594,634 602,636 610,638 618,641 627,644 635,648 643,652 650,656 656,660 662,665 666,670 671,675 676,680 681,685 686,690 691,696 695,701 699,706 702,711 700,719 700,725 701,731 701,736 702,742 703,747 704,752 705,757 706,764 707,771 709,778 710,787 711,795 712,803 713,811 714,818 714,825 715,833 715,841 716,851 717,860 717,870 717,880 717,890 717,900 717,912 716,923 716,932 715,939 753,941 753,934 753,925 754,913 754,901 755,890 755,880 754,869 754,858 753,848 753,839 752,830 750,821 749,813 748,805 746,797 744,789 742,780 740,772 738,764 736,756 733,750 731,744 728,738 726,733 723,728 719,723 715,718 710,714 702,711 699,706 695,701 691,696 686,690 681,685 676,680 671,675 666,670 662,665 656,660 650,656 643,652 635,648 627,644 618,641 610,638 602,636 594,634 586,633 578,633 570,634 562,636 553,639 544,643 537,648 530,652 525,657 520,662 517,668 514,673 512,676Z" fill="#808080"/>
<path d="M506,692 507,689 508,685 509,681 510,676 512,672 514,668 516,664 519,659 522,655 526,652 530,648 536,648 541,646 545,644 550,643 555,643 560,643 565,644 571,645 577,646 582,647 588,648 594,650 599,652 604,654 609,656 614,659 618,662 622,665 625,668 627,671 629,673 630,676 631,680 633,684 634,688 636,693 637,698 638,702 639,707 640,711 640,715 641,719 641,723 641,727 640,733 639,739 638,746 636,751 635,756 634,759 633,761 631,763 629,766 629,771 627,773 625,775 622,777 620,779 616,781 612,783 607,784 602,785 596,786 590,786 583,785 575,784 566,782 558,780 552,778 547,777 543,775 540,773 538,771 536,770 536,770 538,771 540,773 543,775 547,777 552,778 558,780 566,782 575,784 583,785 590,786 596,786 602,785 607,784 612,783 616,781 620,779 622,777 625,775 627,773 629,771 634,771 637,770 640,767 642,764 645,760 647,754 649,748 650,741 651,735 652,729 653,723 653,718 652,714 652,710 651,705 650,700 649,695 648,690 647,685 645,680 644,676 642,672 641,667 638,663 635,659 631,655 626,651 621,648 615,645 610,642 604,640 598,637 592,635 585,634 579,633 573,632 567,631 560,631 554,631 548,633 542,635 537,638 532,643 530,648 526,652 522,655 519,659 516,664 514,668 512,672 510,676 509,681 508,685 507,689 506,692Z" fill="#808080"/>
<path d="M500,712 497,713 494,714 489,715 485,716 480,716 476,716 471,716 466,715 461,714 456,713 451,711 445,710 439,707 434,705 428,702 423,699 417,696 412,693 407,689 402,684 398,679 394,672 390,666 387,659 384,652 381,645 379,638 377,631 376,624 375,617 375,610 375,604 375,597 376,591 377,585 377,578 379,572 380,565 381,559 383,552 385,546 387,540 390,534 392,528 395,522 398,516 400,511 403,506 405,501 408,496 411,491 413,487 416,483 419,478 422,474 430,473 435,470 440,466 445,463 449,459 454,455 458,452 462,448 466,445 471,441 475,438 478,434 482,431 486,427 490,424 495,420 500,416 505,412 509,408 512,406 496,386 493,389 489,392 484,396 479,400 474,404 470,408 465,412 461,415 457,419 453,423 450,427 446,431 442,436 438,440 435,445 431,450 428,455 424,460 421,466 422,474 419,478 416,483 413,487 411,491 408,496 405,501 403,506 400,511 398,516 395,522 392,528 390,534 387,540 385,546 383,552 381,559 380,565 379,572 377,578 377,585 376,591 375,597 375,604 375,610 375,617 376,624 377,631 379,638 381,645 384,652 387,659 390,666 394,672 398,679 402,684 407,689 412,693 417,696 423,699 428,702 434,705 439,707 445,710 451,711 456,713 461,714 466,715 471,716 476,716 480,716 485,716 489,715 494,714 497,713 500,712Z" fill="#848484"/>
<path d="M512,676 514,673 517,668 520,662 525,657 530,652 537,648 544,643 553,639 562,636 570,634 578,633 586,633 594,634 602,636 610,638 618,641 627,644 635,648 643,652 650,656 656,660 662,665 666,670 671,675 676,680 681,685 686,690 691,696 695,701 699,706 702,711 705,716 708,721 704,729 704,735 704,741 705,746 706,751 706,757 707,763 708,770 710,778 711,786 712,795 713,803 714,810 714,818 715,825 716,833 716,841 717,850 717,860 718,870 718,880 718,890 718,900 718,912 717,923 717,932 716,939 752,941 752,934 753,925 753,913 754,901 754,890 754,880 753,869 753,858 752,848 752,839 751,830 750,821 748,813 747,805 745,797 744,789 741,780 739,772 737,764 735,757 732,750 730,744 727,739 724,734 720,729 716,724 708,721 705,716 702,711 699,706 695,701 691,696 686,690 681,685 676,680 671,675 666,670 662,665 656,660 650,656 643,652 635,648 627,644 618,641 610,638 602,636 594,634 586,633 578,633 570,634 562,636 553,639 544,643 537,648 530,652 525,657 520,662 517,668 514,673 512,676Z" fill="#848484"/>
<path d="M506,692 507,689 508,685 509,681 510,676 512,672 514,668 516,664 519,659 522,655 526,652 530,648 534,645 541,646 545,644 550,643 555,643 560,643 565,643 571,644 577,646 582,647 588,648 594,650 599,652 604,654 609,656 614,659 618,662 622,665 625,668 627,671 629,673 630,676 631,680 633,684 634,688 636,693 637,698 638,702 639,707 640,711 640,715 641,719 641,723 641,727 640,733 639,739 638,746 637,752 635,756 634,759 633,762 631,764 630,766 629,771 627,773 625,775 622,777 620,779 616,781 612,783 607,784 602,785 596,786 590,786 583,785 575,784 566,782 558,780 552,778 547,777 543,775 540,773 538,771 536,770 536,770 538,771 540,773 543,775 547,777 552,778 558,780 566,782 575,784 583,785 590,786 596,786 602,785 607,784 612,783 616,781 620,779 622,777 625,775 627,773 629,771 634,771 637,769 640,767 642,764 645,760 647,754 648,748 650,741 651,735 652,729 653,723 652,718 652,714 652,710 651,705 650,700 649,695 648,690 647,685 645,680 644,676 642,672 641,667 638,663 635,659 631,655 626,651 621,648 615,645 610,642 604,640 598,637 592,636 585,634 579,633 573,632 567,631 560,631 554,632 548,633 542,635 537,639 534,645 530,648 526,652 522,655 519,659 516,664 514,668 512,672 510,676 509,681 508,685 507,689 506,692Z" fill="#848484"/>
<path d="M500,712 497,713 494,714 489,715 485,716 480,716 476,716 471,716 466,715 461,714 456,713 451,711 445,710 439,707 434,705 428,702 423,699 417,696 412,693 407,689 402,684 398,679 394,672 390,666 387,659 384,652 381,645 379,638 377,631 376,624 375,617 375,610 375,604 375,597 376,591 377,585 377,578 379,572 380,565 381,559 383,552 385,546 387,540 390,534 392,528 395,522 398,516 400,511 403,506 405,501 408,496 411,491 413,487 416,483 419,478 422,474 426,470 430,465 434,461 438,456 442,452 450,452 455,449 460,446 464,442 469,439 473,435 477,432 480,428 484,425 488,422 493,418 498,414 503,410 507,406 510,404 498,388 495,391 490,394 485,398 480,403 476,406 471,410 467,414 463,417 459,421 455,425 452,429 448,434 445,439 442,444 442,452 438,456 434,461 430,465 426,470 422,474 419,478 416,483 413,487 411,491 408,496 405,501 403,506 400,511 398,516 395,522 392,528 390,534 387,540 385,546 383,552 381,559 380,565 379,572 377,578 377,585 376,591 375,597 375,604 375,610 375,617 376,624 377,631 379,638 381,645 384,652 387,659 390,666 394,672 398,679 402,684 407,689 412,693 417,696 423,699 428,702 434,705 439,707 445,710 451,711 456,713 461,714 466,715 471,716 476,716 480,716 485,716 489,715 494,714 497,713 500,712Z" fill="#888888"/>
<path d="M512,676 514,673 517,668 520,662 525,657 530,652 537,648 544,643 553,639 562,636 570,634 578,633 586,633 594,634 602,636 610,638 618,641 627,644 635,648 643,652 650,656 656,660 662,665 666,670 671,675 676,680 681,685 686,690 691,696 695,701 699,706 702,711 705,716 708,721 710,727 712,732 707,740 707,746 707,751 708,757 709,763 710,770 711,778 712,786 713,794 714,803 714,810 715,818 716,825 717,833 717,841 718,850 718,860 719,870 719,880 719,890 719,900 718,912 718,923 717,932 717,939 751,941 751,934 752,924 752,913 753,901 753,890 753,880 753,869 752,858 752,848 751,839 750,830 749,821 747,813 746,805 744,797 743,789 740,781 738,772 736,764 733,757 731,750 728,745 725,739 721,735 712,732 710,727 708,721 705,716 702,711 699,706 695,701 691,696 686,690 681,685 676,680 671,675 666,670 662,665 656,660 650,656 643,652 635,648 627,644 618,641 610,638 602,636 594,634 586,633 578,633 570,634 562,636 553,639 544,643 537,648 530,652 525,657 520,662 517,668 514,673 512,676Z" fill="#888888"/>
<path d="M506,692 507,689 508,685 509,681 510,676 512,672 514,668 516,664 519,659 522,655 526,652 530,648 534,645 540,645 545,644 550,643 555,642 560,643 565,643 571,644 577,645 582,647 588,648 594,650 599,652 604,654 609,656 614,659 618,662 622,665 625,668 627,670 629,673 630,676 632,680 633,684 634,688 636,693 637,698 638,702 639,707 640,711 640,715 641,719 641,723 641,727 640,733 639,739 638,746 637,752 636,756 634,759 633,762 632,764 632,768 629,771 627,773 625,775 622,777 620,779 616,781 612,783 607,784 602,785 596,786 590,786 583,785 575,784 566,782 558,780 552,778 547,777 543,775 540,773 538,771 536,770 536,770 538,771 540,773 543,775 547,777 552,778 558,780 566,782 575,784 583,785 590,786 596,786 602,785 607,784 612,783 616,781 620,779 622,777 625,775 627,773 629,771 632,768 636,769 639,767 642,764 644,760 647,754 648,748 650,741 651,735 652,729 652,723 652,718 652,714 652,710 651,705 650,700 649,695 648,690 646,685 645,680 644,676 642,672 641,668 638,663 635,659 631,655 626,651 621,648 615,645 610,642 604,640 598,638 592,636 585,634 579,633 573,632 567,632 560,631 554,632 548,633 542,636 537,639 534,645 530,648 526,652 522,655 519,659 516,664 514,668 512,672 510,676 509,681 508,685 507,689 506,692Z" fill="#888888"/>
<path d="M512,676 514,673 517,668 520,662 525,657 530,652 537,648 544,643 553,639 562,636 570,634 578,633 586,633 594,634 602,636 610,638 618,641 627,644 635,648 643,652 650,656 656,660 662,665 666,670 671,675 676,680 681,685 686,690 691,696 695,701 699,706 702,711 705,716 708,721 710,727 712,732 714,737 711,744 710,750 710,756 710,763 711,770 712,778 713,786 714,794 715,802 715,810 716,818 717,825 717,833 718,841 718,850 719,860 719,870 720,880 720,890 720,900 719,912 719,923 718,932 718,939 750,941 751,934 751,924 752,913 752,901 752,890 752,880 752,869 751,858 751,848 750,839 749,830 748,821 747,813 745,806 743,798 741,789 739,781 737,773 734,765 732,757 729,751 725,745 721,741 714,737 712,732 710,727 708,721 705,716 702,711 699,706 695,701 691,696 686,690 681,685 676,680 671,675 666,670 662,665 656,660 650,656 643,652 635,648 627,644 618,641 610,638 602,636 594,634 586,633 578,633 570,634 562,636 553,639 544,643 537,648 530,652 525,657 520,662 517,668 514,673 512,676Z" fill="#8c8c8c"/>
<path d="M506,692 507,689 508,685 509,681 510,676 512,672 514,668 516,664 519,659 522,655 526,652 530,648 534,645 540,644 545,643 550,643 555,642 560,643 565,643 571,644 577,645 583,646 588,648 594,650 599,652 604,654 609,656 614,659 618,662 622,665 625,668 627,670 629,673 630,676 632,680 633,684 635,688 636,693 637,698 638,702 639,707 640,711 641,715 641,719 641,723 641,727 640,733 639,739 638,746 637,752 636,756 635,760 633,762 633,765 632,768 629,771 627,773 625,775 622,777 620,779 616,781 612,783 607,784 602,785 596,786 590,786 583,785 575,784 566,782 558,780 552,778 547,777 543,775 540,773 538,771 536,770 536,770 538,771 540,773 543,775 547,777 552,778 558,780 566,782 575,784 583,785 590,786 596,786 602,785 607,784 612,783 616,781 620,779 622,777 625,775 627,773 629,771 632,768 635,768 639,767 642,764 644,760 646,754 648,748 650,741 651,735 652,729 652,723 652,718 652,714 651,710 651,705 650,700 649,695 648,690 646,685 645,680 644,676 642,672 640,668 638,663 635,659 630,655 626,651 620,648 615,645 609,642 604,640 598,638 591,636 585,634 579,633 573,632 567,632 560,632 554,632 548,633 542,636 538,640 534,645 530,648 526,652 522,655 519,659 516,664 514,668 512,672 510,676 509,681 508,685 507,689 506,692Z" fill="#8c8c8c"/>
<path d="M512,676 514,673 517,668 520,662 525,657 530,652 537,648 544,643 553,639 562,636 570,634 578,633 586,633 594,634 602,636 610,638 618,641 627,644 635,648 643,652 650,656 656,660 662,665 666,670 671,675 676,680 681,685 686,690 691,696 695,701 699,706 702,711 705,716 708,721 710,727 712,732 714,737 716,742 718,748 713,755 713,762 713,769 713,777 714,786 715,794 716,802 716,810 717,817 718,825 718,833 719,841 719,850 720,860 720,870 721,880 721,890 721,900 720,912 720,923 719,932 719,939 749,941 750,934 750,924 751,913 751,901 751,890 751,880 751,869 750,859 750,848 749,839 748,830 747,822 746,814 744,806 742,798 740,790 738,781 735,773 733,765 729,758 726,752 718,748 716,742 714,737 712,732 710,727 708,721 705,716 702,711 699,706 695,701 691,696 686,690 681,685 676,680 671,675 666,670 662,665 656,660 650,656 643,652 635,648 627,644 618,641 610,638 602,636 594,634 586,633 578,633 570,634 562,636 553,639 544,643 537,648 530,652 525,657 520,662 517,668 514,673 512,676Z" fill="#909090"/>
<path d="M506,692 507,689 508,685 509,681 510,676 512,672 514,668 516,664 519,659 522,655 526,652 530,648 534,645 539,642 545,643 550,642 555,642 560,642 565,643 571,644 577,645 583,646 588,648 594,650 599,652 604,654 609,656 614,659 618,662 622,665 625,668 628,670 629,673 630,676 632,680 633,684 635,688 636,693 637,698 638,702 639,707 640,711 641,715 641,719 641,723 641,727 640,733 640,739 638,746 637,752 636,756 635,760 634,762 634,767 632,768 629,771 627,773 625,775 622,777 620,779 616,781 612,783 607,784 602,785 596,786 590,786 583,785 575,784 566,782 558,780 552,778 547,777 543,775 540,773 538,771 536,770 536,770 538,771 540,773 543,775 547,777 552,778 558,780 566,782 575,784 583,785 590,786 596,786 602,785 607,784 612,783 616,781 620,779 622,777 625,775 627,773 629,771 632,768 634,767 638,766 641,764 644,760 646,754 648,748 650,741 651,735 652,729 652,723 652,718 652,714 651,710 651,705 650,700 649,695 648,690 646,685 645,680 643,676 642,672 640,668 638,663 635,659 630,655 626,652 620,648 615,645 609,642 604,640 598,638 591,636 585,634 579,633 573,632 567,632 560,632 554,632 548,634 542,636 539,642 534,645 530,648 526,652 522,655 519,659 516,664 514,668 512,672 510,676 509,681 508,685 507,689 506,692Z" fill="#909090"/>
<path d="M512,676 514,673 517,668 520,662 525,657 530,652 537,648 544,643 553,639 562,636 570,634 578,633 586,633 594,634 602,636 610,638 618,641 627,644 635,648 643,652 650,656 656,660 662,665 666,670 671,675 676,680 681,685 686,690 691,696 695,701 699,706 702,711 705,716 708,721 710,727 712,732 714,737 716,742 718,748 719,754 721,760 716,769 716,777 716,785 716,794 717,802 718,810 718,817 719,825 719,833 720,841 720,850 721,860 721,870 722,880 722,890 722,900 721,912 721,923 720,932 720,939 748,941 749,934 749,924 750,913 750,901 750,890 750,880 750,869 749,859 749,848 748,839 747,830 746,822 744,814 743,806 741,798 739,790 736,781 733,773 730,766 721,760 719,754 718,748 716,742 714,737 712,732 710,727 708,721 705,716 702,711 699,706 695,701 691,696 686,690 681,685 676,680 671,675 666,670 662,665 656,660 650,656 643,652 635,648 627,644 618,641 610,638 602,636 594,634 586,633 578,633 570,634 562,636 553,639 544,643 537,648 530,652 525,657 520,662 517,668 514,673 512,676Z" fill="#959595"/>
<path d="M506,692 507,689 508,685 509,681 510,676 512,672 514,668 516,664 519,659 522,655 526,652 530,648 534,645 539,642 545,642 550,642 555,642 560,642 566,643 571,644 577,645 583,646 588,648 594,649 599,651 604,654 609,656 614,659 618,662 622,665 625,668 628,670 629,673 631,676 632,680 633,684 635,688 636,693 637,698 639,702 639,707 640,711 641,715 641,719 641,723 641,728 641,733 640,739 639,746 637,752 636,757 635,760 636,764 634,767 632,768 629,771 627,773 625,775 622,777 620,779 616,781 612,783 607,784 602,785 596,786 590,786 583,785 575,784 566,782 558,780 552,778 547,777 543,775 540,773 538,771 536,770 536,770 538,771 540,773 543,775 547,777 552,778 558,780 566,782 575,784 583,785 590,786 596,786 602,785 607,784 612,783 616,781 620,779 622,777 625,775 627,773 629,771 632,768 634,767 636,764 641,763 644,759 646,754 648,748 649,741 651,735 652,728 652,723 652,718 652,714 651,710 651,705 650,700 649,695 648,690 646,685 645,680 643,676 642,672 640,668 638,663 635,659 630,655 626,652 620,648 615,645 609,642 604,640 598,638 591,636 585,634 579,633 573,633 567,632 560,632 554,632 548,634 543,637 539,642 534,645 530,648 526,652 522,655 519,659 516,664 514,668 512,672 510,676 509,681 508,685 507,689 506,692Z" fill="#959595"/>
<path d="M512,676 514,673 517,668 520,662 525,657 530,652 537,648 544,643 553,639 562,636 570,634 578,633 586,633 594,634 602,636 610,638 618,641 627,644 635,648 643,652 650,656 656,660 662,665 666,670 671,675 676,680 681,685 686,690 691,696 695,701 699,706 702,711 705,716 708,721 710,727 712,732 714,737 716,742 718,748 719,754 721,760 723,767 720,776 718,785 718,793 719,802 719,810 720,817 720,825 721,833 721,841 721,850 722,860 722,870 723,880 723,890 723,900 722,912 722,923 721,933 721,939 747,941 748,934 748,924 749,913 749,901 749,890 749,880 749,869 748,859 748,849 747,839 746,830 745,822 743,814 741,806 739,798 737,790 734,782 729,774 723,767 721,760 719,754 718,748 716,742 714,737 712,732 710,727 708,721 705,716 702,711 699,706 695,701 691,696 686,690 681,685 676,680 671,675 666,670 662,665 656,660 650,656 643,652 635,648 627,644 618,641 610,638 602,636 594,634 586,633 578,633 570,634 562,636 553,639 544,643 537,648 530,652 525,657 520,662 517,668 514,673 512,676Z" fill="#999999"/>
<path d="M506,692 507,689 508,685 509,681 510,676 512,672 514,668 516,664 519,659 522,655 526,652 530,648 534,645 539,642 544,640 550,642 555,642 560,642 566,643 571,644 577,645 583,646 588,648 594,649 599,651 604,654 609,656 614,659 618,662 622,665 626,668 628,670 629,673 631,676 632,680 633,684 635,688 636,693 638,698 639,702 640,707 640,711 641,715 641,719 641,723 641,728 641,733 640,739 639,746 638,752 637,757 636,760 636,764 634,767 632,768 629,771 627,773 625,775 622,777 620,779 616,781 612,783 607,784 602,785 596,786 590,786 583,785 575,784 566,782 558,780 552,778 547,777 543,775 540,773 538,771 536,770 536,770 538,771 540,773 543,775 547,777 552,778 558,780 566,782 575,784 583,785 590,786 596,786 602,785 607,784 612,783 616,781 620,779 622,777 625,775 627,773 629,771 632,768 634,767 636,764 640,763 643,759 646,754 648,748 649,741 651,734 652,728 652,723 652,718 652,714 651,710 650,705 650,700 649,695 647,690 646,685 645,680 643,676 642,672 640,668 638,663 634,659 630,655 626,652 620,648 615,645 609,642 604,640 598,638 591,636 585,635 579,633 573,633 567,632 560,632 554,633 548,634 544,640 539,642 534,645 530,648 526,652 522,655 519,659 516,664 514,668 512,672 510,676 509,681 508,685 507,689 506,692Z" fill="#999999"/>
<path d="M512,676 514,673 517,668 520,662 525,657 530,652 537,648 544,643 553,639 562,636 570,634 578,633 586,633 594,634 602,636 610,638 618,641 627,644 635,648 643,652 650,656 656,660 662,665 666,670 671,675 676,680 681,685 686,690 691,696 695,701 699,706 702,711 705,716 708,721 710,727 712,732 714,737 716,742 718,748 719,754 721,760 723,767 724,775 726,783 722,793 721,801 721,809 721,817 722,825 722,832 722,841 723,850 723,860 724,870 724,880 724,890 724,900 723,912 723,923 722,933 722,939 746,941 746,934 747,924 747,913 748,901 748,890 748,880 748,869 747,859 747,849 746,839 745,830 743,822 741,814 739,806 737,799 734,791 726,783 724,775 723,767 721,760 719,754 718,748 716,742 714,737 712,732 710,727 708,721 705,716 702,711 699,706 695,701 691,696 686,690 681,685 676,680 671,675 666,670 662,665 656,660 650,656 643,652 635,648 627,644 618,641 610,638 602,636 594,634 586,633 578,633 570,634 562,636 553,639 544,643 537,648 530,652 525,657 520,662 517,668 514,673 512,676Z" fill="#9d9d9d"/>
<path d="M506,692 507,689 508,685 509,681 510,676 512,672 514,668 516,664 519,659 522,655 526,652 530,648 534,645 539,642 544,640 550,641 555,641 560,642 566,643 571,644 577,645 583,646 588,648 594,649 599,651 604,653 609,656 614,659 619,662 622,665 626,668 628,670 629,673 631,676 632,680 633,684 635,688 636,693 638,698 639,702 640,707 640,711 641,715 641,719 642,723 641,728 641,733 640,739 639,746 638,752 637,757 638,762 636,764 634,767 632,768 629,771 627,773 625,775 622,777 620,779 616,781 612,783 607,784 602,785 596,786 590,786 583,785 575,784 566,782 558,780 552,778 547,777 543,775 540,773 538,771 536,770 536,770 538,771 540,773 543,775 547,777 552,778 558,780 566,782 575,784 583,785 590,786 596,786 602,785 607,784 612,783 616,781 620,779 622,777 625,775 627,773 629,771 632,768 634,767 636,764 638,762 643,759 645,754 647,748 649,741 650,734 651,728 652,723 652,718 651,714 651,710 650,705 650,700 649,695 647,690 646,685 645,680 643,676 642,672 640,668 638,663 634,659 630,655 625,652 620,648 615,645 609,643 604,640 598,638 591,636 585,635 579,634 573,633 567,632 560,632 554,633 548,635 544,640 539,642 534,645 530,648 526,652 522,655 519,659 516,664 514,668 512,672 510,676 509,681 508,685 507,689 506,692Z" fill="#9d9d9d"/>
<path d="M512,676 514,673 517,668 520,662 525,657 530,652 537,648 544,643 553,639 562,636 570,634 578,633 586,633 594,634 602,636 610,638 618,641 627,644 635,648 643,652 650,656 656,660 662,665 666,670 671,675 676,680 681,685 686,690 691,696 695,701 699,706 702,711 705,716 708,721 710,727 712,732 714,737 716,742 718,748 719,754 721,760 723,767 724,775 726,783 728,792 729,800 724,809 724,817 724,824 724,832 724,841 724,850 725,860 725,870 726,880 726,890 725,901 725,912 724,923 724,933 724,939 744,941 745,934 745,924 746,913 746,901 746,890 746,880 746,869 746,859 745,849 744,839 743,830 741,822 739,814 736,807 729,800 728,792 726,783 724,775 723,767 721,760 719,754 718,748 716,742 714,737 712,732 710,727 708,721 705,716 702,711 699,706 695,701 691,696 686,690 681,685 676,680 671,675 666,670 662,665 656,660 650,656 643,652 635,648 627,644 618,641 610,638 602,636 594,634 586,633 578,633 570,634 562,636 553,639 544,643 537,648 530,652 525,657 520,662 517,668 514,673 512,676Z" fill="#a2a2a2"/>
<path d="M506,692 507,689 508,685 509,681 510,676 512,672 514,668 516,664 519,659 522,655 526,652 530,648 534,645 539,642 544,640 549,638 555,641 560,642 566,642 571,644 577,645 583,646 588,647 594,649 599,651 604,653 609,656 614,659 619,662 623,665 626,667 628,670 629,673 631,676 632,680 634,684 635,688 636,693 638,698 639,702 640,707 641,711 641,715 642,719 642,723 642,728 641,733 640,739 639,746 638,752 640,758 638,762 636,764 634,767 632,768 629,771 627,773 625,775 622,777 620,779 616,781 612,783 607,784 602,785 596,786 590,786 583,785 575,784 566,782 558,780 552,778 547,777 543,775 540,773 538,771 536,770 536,770 538,771 540,773 543,775 547,777 552,778 558,780 566,782 575,784 583,785 590,786 596,786 602,785 607,784 612,783 616,781 620,779 622,777 625,775 627,773 629,771 632,768 634,767 636,764 638,762 640,758 645,754 647,748 649,741 650,734 651,728 652,723 652,718 651,714 651,710 650,705 649,700 648,695 647,690 646,685 644,680 643,676 642,672 640,668 638,663 634,659 630,655 625,652 620,648 615,645 609,643 604,640 598,638 591,636 585,635 579,634 573,633 567,632 560,632 554,633 549,638 544,640 539,642 534,645 530,648 526,652 522,655 519,659 516,664 514,668 512,672 510,676 509,681 508,685 507,689 506,692Z" fill="#a2a2a2"/>
<path d="M512,676 514,673 517,668 520,662 525,657 530,652 537,648 544,643 553,639 562,636 570,634 578,633 586,633 594,634 602,636 610,638 618,641 627,644 635,648 643,652 650,656 656,660 662,665 666,670 671,675 676,680 681,685 686,690 691,696 695,701 699,706 702,711 705,716 708,721 710,727 712,732 714,737 716,742 718,748 719,754 721,760 723,767 724,775 726,783 728,792 729,800 730,808 731,816 728,824 726,832 726,841 726,850 727,860 727,870 728,880 728,890 728,901 727,912 727,923 726,933 726,940 742,940 743,934 743,924 744,913 744,901 744,890 744,880 744,869 743,859 743,849 742,839 740,831 737,823 731,816 730,808 729,800 728,792 726,783 724,775 723,767 721,760 719,754 718,748 716,742 714,737 712,732 710,727 708,721 705,716 702,711 699,706 695,701 691,696 686,690 681,685 676,680 671,675 666,670 662,665 656,660 650,656 643,652 635,648 627,644 618,641 610,638 602,636 594,634 586,633 578,633 570,634 562,636 553,639 544,643 537,648 530,652 525,657 520,662 517,668 514,673 512,676Z" fill="#a6a6a6"/>
<path d="M506,692 507,689 508,685 509,681 510,676 512,672 514,668 516,664 519,659 522,655 526,652 530,648 534,645 539,642 544,640 549,638 555,641 560,641 566,642 571,643 577,645 583,646 588,647 594,649 599,651 604,653 609,656 614,659 619,661 623,664 626,667 628,670 630,673 631,676 632,680 634,684 635,688 637,693 638,697 639,702 640,707 641,711 641,715 642,719 642,723 642,728 641,733 641,739 640,746 639,752 640,758 638,762 636,764 634,767 632,768 629,771 627,773 625,775 622,777 620,779 616,781 612,783 607,784 602,785 596,786 590,786 583,785 575,784 566,782 558,780 552,778 547,777 543,775 540,773 538,771 536,770 536,770 538,771 540,773 543,775 547,777 552,778 558,780 566,782 575,784 583,785 590,786 596,786 602,785 607,784 612,783 616,781 620,779 622,777 625,775 627,773 629,771 632,768 634,767 636,764 638,762 640,758 644,754 647,748 649,741 650,734 651,728 651,723 651,718 651,714 651,710 650,705 649,700 648,695 647,690 646,685 644,680 643,676 642,672 640,668 638,664 634,659 630,656 625,652 620,649 615,645 609,643 604,640 598,638 591,636 585,635 579,634 573,633 567,633 560,633 554,634 549,638 544,640 539,642 534,645 530,648 526,652 522,655 519,659 516,664 514,668 512,672 510,676 509,681 508,685 507,689 506,692Z" fill="#a6a6a6"/>
<path d="M506,692 507,689 508,685 509,681 510,676 512,672 514,668 516,664 519,659 522,655 526,652 530,648 534,645 539,642 544,640 549,638 555,640 560,641 566,642 571,643 577,645 583,646 588,647 594,649 599,651 604,653 609,656 614,658 619,661 623,664 626,667 628,670 630,673 631,676 632,680 634,684 635,688 637,693 638,697 639,702 640,707 641,711 641,715 642,719 642,723 642,728 641,733 641,740 640,746 642,753 640,758 638,762 636,764 634,767 632,768 629,771 627,773 625,775 622,777 620,779 616,781 612,783 607,784 602,785 596,786 590,786 583,785 575,784 566,782 558,780 552,778 547,777 543,775 540,773 538,771 536,770 536,770 538,771 540,773 543,775 547,777 552,778 558,780 566,782 575,784 583,785 590,786 596,786 602,785 607,784 612,783 616,781 620,779 622,777 625,775 627,773 629,771 632,768 634,767 636,764 638,762 640,758 642,753 646,748 648,741 650,734 651,728 651,723 651,718 651,714 651,710 650,705 649,700 648,695 647,690 646,685 644,680 643,676 642,672 640,668 637,664 634,659 630,656 625,652 620,649 615,646 609,643 603,640 597,638 591,636 585,635 579,634 573,633 567,633 560,633 554,634 549,638 544,640 539,642 534,645 530,648 526,652 522,655 519,659 516,664 514,668 512,672 510,676 509,681 508,685 507,689 506,692Z" fill="#aaaaaa"/>
<path d="M506,692 507,689 508,685 509,681 510,676 512,672 514,668 516,664 519,659 522,655 526,652 530,648 534,645 539,642 544,640 549,638 554,637 560,641 566,642 571,643 577,644 583,646 588,647 594,649 599,651 604,653 609,656 614,658 619,661 623,664 626,667 628,670 630,673 631,676 632,680 634,684 635,688 637,693 638,697 639,702 640,707 641,711 642,715 642,719 642,723 642,728 642,733 641,740 641,746 642,753 640,758 638,762 636,764 634,767 632,768 629,771 627,773 625,775 622,777 620,779 616,781 612,783 607,784 602,785 596,786 590,786 583,785 575,784 566,782 558,780 552,778 547,777 543,775 540,773 538,771 536,770 536,770 538,771 540,773 543,775 547,777 552,778 558,780 566,782 575,784 583,785 590,786 596,786 602,785 607,784 612,783 616,781 620,779 622,777 625,775 627,773 629,771 632,768 634,767 636,764 638,762 640,758 642,753 646,747 648,741 650,734 651,728 651,723 651,718 651,714 650,710 650,705 649,700 648,695 647,690 646,685 644,680 643,676 641,672 640,668 637,664 634,660 630,656 625,652 620,649 615,646 609,643 603,640 597,638 591,637 585,635 579,634 573,633 567,633 560,633 554,637 549,638 544,640 539,642 534,645 530,648 526,652 522,655 519,659 516,664 514,668 512,672 510,676 509,681 508,685 507,689 506,692Z" fill="#aeaeae"/>
<path d="M506,692 507,689 508,685 509,681 510,676 512,672 514,668 516,664 519,659 522,655 526,652 530,648 534,645 539,642 544,640 549,638 554,637 560,640 566,642 571,643 577,644 583,645 588,647 594,649 599,651 604,653 609,656 614,658 619,661 623,664 626,667 628,670 630,673 631,676 633,680 634,684 635,688 637,693 638,697 639,702 640,707 641,711 642,715 642,719 642,723 642,728 642,733 642,740 643,747 642,753 640,758 638,762 636,764 634,767 632,768 629,771 627,773 625,775 622,777 620,779 616,781 612,783 607,784 602,785 596,786 590,786 583,785 575,784 566,782 558,780 552,778 547,777 543,775 540,773 538,771 536,770 536,770 538,771 540,773 543,775 547,777 552,778 558,780 566,782 575,784 583,785 590,786 596,786 602,785 607,784 612,783 616,781 620,779 622,777 625,775 627,773 629,771 632,768 634,767 636,764 638,762 640,758 642,753 643,747 648,741 649,734 651,728 651,723 651,719 651,714 650,710 650,705 649,700 648,695 647,690 645,685 644,680 643,676 641,672 640,668 637,664 634,660 630,656 625,652 620,649 615,646 609,643 603,641 597,638 591,637 585,635 579,634 573,634 566,633 560,634 554,637 549,638 544,640 539,642 534,645 530,648 526,652 522,655 519,659 516,664 514,668 512,672 510,676 509,681 508,685 507,689 506,692Z" fill="#b2b2b2"/>
<path d="M506,692 507,689 508,685 509,681 510,676 512,672 514,668 516,664 519,659 522,655 526,652 530,648 534,645 539,642 544,640 549,638 554,637 560,640 566,641 571,643 577,644 583,645 588,647 594,649 599,651 605,653 609,655 614,658 619,661 623,664 626,667 628,670 630,673 631,676 633,680 634,684 636,688 637,693 638,697 640,702 641,707 641,711 642,715 642,719 643,723 643,728 642,733 642,740 643,747 642,753 640,758 638,762 636,764 634,767 632,768 629,771 627,773 625,775 622,777 620,779 616,781 612,783 607,784 602,785 596,786 590,786 583,785 575,784 566,782 558,780 552,778 547,777 543,775 540,773 538,771 536,770 536,770 538,771 540,773 543,775 547,777 552,778 558,780 566,782 575,784 583,785 590,786 596,786 602,785 607,784 612,783 616,781 620,779 622,777 625,775 627,773 629,771 632,768 634,767 636,764 638,762 640,758 642,753 643,747 647,741 649,734 650,728 651,723 651,719 651,714 650,710 649,705 649,700 648,695 647,690 645,685 644,680 643,676 641,672 640,668 637,664 634,660 630,656 625,652 620,649 615,646 609,643 603,641 597,639 591,637 585,635 579,634 573,634 566,634 560,634 554,637 549,638 544,640 539,642 534,645 530,648 526,652 522,655 519,659 516,664 514,668 512,672 510,676 509,681 508,685 507,689 506,692Z" fill="#b7b7b7"/>
<path d="M506,692 507,689 508,685 509,681 510,676 512,672 514,668 516,664 519,659 522,655 526,652 530,648 534,645 539,642 544,640 549,638 554,637 560,637 566,641 571,643 577,644 583,645 588,647 594,649 599,651 605,653 610,655 614,658 619,661 623,664 626,667 628,670 630,673 631,676 633,680 634,684 636,688 637,693 638,697 640,702 641,707 641,711 642,715 643,719 643,723 643,728 643,733 645,740 643,747 642,753 640,758 638,762 636,764 634,767 632,768 629,771 627,773 625,775 622,777 620,779 616,781 612,783 607,784 602,785 596,786 590,786 583,785 575,784 566,782 558,780 552,778 547,777 543,775 540,773 538,771 536,770 536,770 538,771 540,773 543,775 547,777 552,778 558,780 566,782 575,784 583,785 590,786 596,786 602,785 607,784 612,783 616,781 620,779 622,777 625,775 627,773 629,771 632,768 634,767 636,764 638,762 640,758 642,753 643,747 645,740 649,734 650,728 651,723 651,719 650,714 650,710 649,705 649,700 648,695 647,690 645,685 644,680 643,676 641,672 639,668 637,664 634,660 630,656 625,652 620,649 615,646 609,643 603,641 597,639 591,637 585,636 579,634 573,634 566,634 560,637 554,637 549,638 544,640 539,642 534,645 530,648 526,652 522,655 519,659 516,664 514,668 512,672 510,676 509,681 508,685 507,689 506,692Z" fill="#bbbbbb"/>
<path d="M506,692 507,689 508,685 509,681 510,676 512,672 514,668 516,664 519,659 522,655 526,652 530,648 534,645 539,642 544,640 549,638 554,637 560,637 566,641 571,642 577,644 583,645 589,647 594,648 600,650 605,653 610,655 614,658 619,661 623,664 626,667 628,670 630,673 632,676 633,679 634,684 636,688 637,693 639,697 640,702 641,707 642,711 642,715 643,719 643,723 643,728 644,733 645,740 643,747 642,753 640,758 638,762 636,764 634,767 632,768 629,771 627,773 625,775 622,777 620,779 616,781 612,783 607,784 602,785 596,786 590,786 583,785 575,784 566,782 558,780 552,778 547,777 543,775 540,773 538,771 536,770 536,770 538,771 540,773 543,775 547,777 552,778 558,780 566,782 575,784 583,785 590,786 596,786 602,785 607,784 612,783 616,781 620,779 622,777 625,775 627,773 629,771 632,768 634,767 636,764 638,762 640,758 642,753 643,747 645,740 648,734 650,728 650,723 650,719 650,714 650,710 649,705 648,700 648,695 646,690 645,685 644,680 642,676 641,672 639,668 637,664 634,660 630,656 625,652 620,649 614,646 609,643 603,641 597,639 591,637 585,636 579,635 573,634 566,634 560,637 554,637 549,638 544,640 539,642 534,645 530,648 526,652 522,655 519,659 516,664 514,668 512,672 510,676 509,681 508,685 507,689 506,692Z" fill="#bfbfbf"/>
<path d="M506,692 507,689 508,685 509,681 510,676 512,672 514,668 516,664 519,659 522,655 526,652 530,648 534,645 539,642 544,640 549,638 554,637 560,637 566,640 572,642 577,644 583,645 589,646 594,648 600,650 605,653 610,655 614,658 619,661 623,664 626,667 629,670 630,673 632,676 633,679 634,684 636,688 637,692 639,697 640,702 641,707 642,711 643,715 643,719 644,723 644,728 646,734 645,740 643,747 642,753 640,758 638,762 636,764 634,767 632,768 629,771 627,773 625,775 622,777 620,779 616,781 612,783 607,784 602,785 596,786 590,786 583,785 575,784 566,782 558,780 552,778 547,777 543,775 540,773 538,771 536,770 536,770 538,771 540,773 543,775 547,777 552,778 558,780 566,782 575,784 583,785 590,786 596,786 602,785 607,784 612,783 616,781 620,779 622,777 625,775 627,773 629,771 632,768 634,767 636,764 638,762 640,758 642,753 643,747 645,740 646,734 649,728 650,723 650,719 650,714 650,710 649,705 648,700 647,695 646,690 645,685 644,680 642,676 641,672 639,668 637,664 634,660 630,656 625,652 620,649 614,646 609,643 603,641 597,639 591,637 585,636 579,635 573,634 566,635 560,637 554,637 549,638 544,640 539,642 534,645 530,648 526,652 522,655 519,659 516,664 514,668 512,672 510,676 509,681 508,685 507,689 506,692Z" fill="#c4c4c4"/>
<path d="M506,692 507,689 508,685 509,681 510,676 512,672 514,668 516,664 519,659 522,655 526,652 530,648 534,645 539,642 544,640 549,638 554,637 560,637 566,637 572,642 577,643 583,645 589,646 594,648 600,650 605,653 610,655 615,658 619,661 623,664 626,667 629,670 630,673 632,676 633,679 635,683 636,688 638,692 639,697 640,702 641,707 642,711 643,715 644,719 644,723 646,728 646,734 645,740 643,747 642,753 640,758 638,762 636,764 634,767 632,768 629,771 627,773 625,775 622,777 620,779 616,781 612,783 607,784 602,785 596,786 590,786 583,785 575,784 566,782 558,780 552,778 547,777 543,775 540,773 538,771 536,770 536,770 538,771 540,773 543,775 547,777 552,778 558,780 566,782 575,784 583,785 590,786 596,786 602,785 607,784 612,783 616,781 620,779 622,777 625,775 627,773 629,771 632,768 634,767 636,764 638,762 640,758 642,753 643,747 645,740 646,734 646,728 649,723 650,719 650,714 649,710 649,705 648,700 647,695 646,690 645,685 643,681 642,676 641,672 639,668 637,664 634,660 630,656 625,653 620,649 614,646 609,643 603,641 597,639 591,637 585,636 579,635 573,635 566,637 560,637 554,637 549,638 544,640 539,642 534,645 530,648 526,652 522,655 519,659 516,664 514,668 512,672 510,676 509,681 508,685 507,689 506,692Z" fill="#c8c8c8"/>
<path d="M506,692 507,689 508,685 509,681 510,676 512,672 514,668 516,664 519,659 522,655 526,652 530,648 534,645 539,642 544,640 549,638 554,637 560,637 566,637 572,641 577,643 583,645 589,646 594,648 600,650 605,652 610,655 615,658 619,661 623,664 626,667 629,670 630,672 632,676 633,679 635,683 636,688 638,692 639,697 640,702 642,707 642,711 643,715 644,719 647,723 646,728 646,734 645,740 643,747 642,753 640,758 638,762 636,764 634,767 632,768 629,771 627,773 625,775 622,777 620,779 616,781 612,783 607,784 602,785 596,786 590,786 583,785 575,784 566,782 558,780 552,778 547,777 543,775 540,773 538,771 536,770 536,770 538,771 540,773 543,775 547,777 552,778 558,780 566,782 575,784 583,785 590,786 596,786 602,785 607,784 612,783 616,781 620,779 622,777 625,775 627,773 629,771 632,768 634,767 636,764 638,762 640,758 642,753 643,747 645,740 646,734 646,728 647,723 649,719 649,714 649,710 648,705 648,701 647,695 646,690 645,685 643,681 642,676 641,672 639,668 637,664 634,660 630,656 625,653 620,649 614,646 609,644 603,641 597,639 591,638 585,636 579,635 573,635 566,637 560,637 554,637 549,638 544,640 539,642 534,645 530,648 526,652 522,655 519,659 516,664 514,668 512,672 510,676 509,681 508,685 507,689 506,692Z" fill="#cccccc"/>
<path d="M506,692 507,689 508,685 509,681 510,676 512,672 514,668 516,664 519,659 522,655 526,652 530,648 534,645 539,642 544,640 549,638 554,637 560,637 566,637 572,640 577,643 583,644 589,646 594,648 600,650 605,652 610,655 615,658 619,661 623,664 627,667 629,669 631,672 632,676 633,679 635,683 636,688 638,692 639,697 641,702 642,707 643,711 644,715 647,719 647,723 646,728 646,734 645,740 643,747 642,753 640,758 638,762 636,764 634,767 632,768 629,771 627,773 625,775 622,777 620,779 616,781 612,783 607,784 602,785 596,786 590,786 583,785 575,784 566,782 558,780 552,778 547,777 543,775 540,773 538,771 536,770 536,770 538,771 540,773 543,775 547,777 552,778 558,780 566,782 575,784 583,785 590,786 596,786 602,785 607,784 612,783 616,781 620,779 622,777 625,775 627,773 629,771 632,768 634,767 636,764 638,762 640,758 642,753 643,747 645,740 646,734 646,728 647,723 647,719 648,714 648,710 648,705 648,701 647,695 646,690 644,685 643,681 642,676 641,672 639,668 637,664 633,660 629,656 625,653 620,649 614,646 609,644 603,641 597,639 591,638 585,636 579,636 572,636 566,637 560,637 554,637 549,638 544,640 539,642 534,645 530,648 526,652 522,655 519,659 516,664 514,668 512,672 510,676 509,681 508,685 507,689 506,692Z" fill="#d0d0d0"/>
<path d="M506,692 507,689 508,685 509,681 510,676 512,672 514,668 516,664 519,659 522,655 526,652 530,648 534,645 539,642 544,640 549,638 554,637 560,637 566,637 572,638 577,642 583,644 589,646 594,648 600,650 605,652 610,655 615,657 619,660 623,664 627,667 629,669 631,672 632,676 634,679 635,683 637,688 638,692 640,697 641,702 642,706 644,711 646,715 647,719 647,723 646,728 646,734 645,740 643,747 642,753 640,758 638,762 636,764 634,767 632,768 629,771 627,773 625,775 622,777 620,779 616,781 612,783 607,784 602,785 596,786 590,786 583,785 575,784 566,782 558,780 552,778 547,777 543,775 540,773 538,771 536,770 536,770 538,771 540,773 543,775 547,777 552,778 558,780 566,782 575,784 583,785 590,786 596,786 602,785 607,784 612,783 616,781 620,779 622,777 625,775 627,773 629,771 632,768 634,767 636,764 638,762 640,758 642,753 643,747 645,740 646,734 646,728 647,723 647,719 646,715 647,710 648,706 647,701 646,695 645,690 644,685 643,681 642,677 640,672 639,668 637,664 633,660 629,656 625,653 620,650 614,647 609,644 603,642 597,640 591,638 585,637 579,636 572,638 566,637 560,637 554,637 549,638 544,640 539,642 534,645 530,648 526,652 522,655 519,659 516,664 514,668 512,672 510,676 509,681 508,685 507,689 506,692Z" fill="#d4d4d4"/>
<path d="M506,692 507,689 508,685 509,681 510,676 512,672 514,668 516,664 519,659 522,655 526,652 530,648 534,645 539,642 544,640 549,638 554,637 560,637 566,637 572,638 578,642 583,644 589,646 594,648 600,650 605,652 610,655 615,657 619,660 623,663 627,666 629,669 631,672 632,676 634,679 635,683 637,688 638,692 640,697 642,702 645,706 646,710 646,715 647,719 647,723 646,728 646,734 645,740 643,747 642,753 640,758 638,762 636,764 634,767 632,768 629,771 627,773 625,775 622,777 620,779 616,781 612,783 607,784 602,785 596,786 590,786 583,785 575,784 566,782 558,780 552,778 547,777 543,775 540,773 538,771 536,770 536,770 538,771 540,773 543,775 547,777 552,778 558,780 566,782 575,784 583,785 590,786 596,786 602,785 607,784 612,783 616,781 620,779 622,777 625,775 627,773 629,771 632,768 634,767 636,764 638,762 640,758 642,753 643,747 645,740 646,734 646,728 647,723 647,719 646,715 646,710 645,706 647,701 646,696 645,690 644,685 643,681 642,677 640,673 639,668 636,664 633,660 629,657 625,653 619,650 614,647 609,644 603,642 597,640 591,638 585,637 578,636 572,638 566,637 560,637 554,637 549,638 544,640 539,642 534,645 530,648 526,652 522,655 519,659 516,664 514,668 512,672 510,676 509,681 508,685 507,689 506,692Z" fill="#d9d9d9"/>
<path d="M506,692 507,689 508,685 509,681 510,676 512,672 514,668 516,664 519,659 522,655 526,652 530,648 534,645 539,642 544,640 549,638 554,637 560,637 566,637 572,638 578,639 583,643 589,645 594,647 600,650 605,652 610,654 615,657 620,660 624,663 627,666 629,669 631,672 633,675 634,679 635,683 637,688 639,692 640,697 644,701 645,706 646,710 646,715 647,719 647,723 646,728 646,734 645,740 643,747 642,753 640,758 638,762 636,764 634,767 632,768 629,771 627,773 625,775 622,777 620,779 616,781 612,783 607,784 602,785 596,786 590,786 583,785 575,784 566,782 558,780 552,778 547,777 543,775 540,773 538,771 536,770 536,770 538,771 540,773 543,775 547,777 552,778 558,780 566,782 575,784 583,785 590,786 596,786 602,785 607,784 612,783 616,781 620,779 622,777 625,775 627,773 629,771 632,768 634,767 636,764 638,762 640,758 642,753 643,747 645,740 646,734 646,728 647,723 647,719 646,715 646,710 645,706 644,701 646,696 645,690 644,685 643,681 641,677 640,673 638,669 636,664 633,660 629,657 625,653 619,650 614,647 609,644 603,642 597,640 591,638 585,637 578,639 572,638 566,637 560,637 554,637 549,638 544,640 539,642 534,645 530,648 526,652 522,655 519,659 516,664 514,668 512,672 510,676 509,681 508,685 507,689 506,692Z" fill="#dddddd"/>
<path d="M506,692 507,689 508,685 509,681 510,676 512,672 514,668 516,664 519,659 522,655 526,652 530,648 534,645 539,642 544,640 549,638 554,637 560,637 566,637 572,638 578,639 583,643 589,645 595,647 600,649 605,652 610,654 615,657 620,660 624,663 627,666 629,669 631,672 633,675 634,679 636,683 637,687 639,692 643,696 644,701 645,706 646,710 646,715 647,719 647,723 646,728 646,734 645,740 643,747 642,753 640,758 638,762 636,764 634,767 632,768 629,771 627,773 625,775 622,777 620,779 616,781 612,783 607,784 602,785 596,786 590,786 583,785 575,784 566,782 558,780 552,778 547,777 543,775 540,773 538,771 536,770 536,770 538,771 540,773 543,775 547,777 552,778 558,780 566,782 575,784 583,785 590,786 596,786 602,785 607,784 612,783 616,781 620,779 622,777 625,775 627,773 629,771 632,768 634,767 636,764 638,762 640,758 642,753 643,747 645,740 646,734 646,728 647,723 647,719 646,715 646,710 645,706 644,701 643,696 644,691 643,686 642,681 641,677 640,673 638,669 636,665 633,661 629,657 624,653 619,650 614,647 609,644 603,642 597,640 591,639 584,638 578,639 572,638 566,637 560,637 554,637 549,638 544,640 539,642 534,645 530,648 526,652 522,655 519,659 516,664 514,668 512,672 510,676 509,681 508,685 507,689 506,692Z" fill="#e1e1e1"/>
<path d="M506,692 507,689 508,685 509,681 510,676 512,672 514,668 516,664 519,659 522,655 526,652 530,648 534,645 539,642 544,640 549,638 554,637 560,637 566,637 572,638 578,639 584,640 589,644 595,647 600,649 605,652 610,654 615,657 620,660 624,663 627,666 630,669 631,672 633,675 634,679 636,683 638,687 642,691 643,696 644,701 645,706 646,710 646,715 647,719 647,723 646,728 646,734 645,740 643,747 642,753 640,758 638,762 636,764 634,767 632,768 629,771 627,773 625,775 622,777 620,779 616,781 612,783 607,784 602,785 596,786 590,786 583,785 575,784 566,782 558,780 552,778 547,777 543,775 540,773 538,771 536,770 536,770 538,771 540,773 543,775 547,777 552,778 558,780 566,782 575,784 583,785 590,786 596,786 602,785 607,784 612,783 616,781 620,779 622,777 625,775 627,773 629,771 632,768 634,767 636,764 638,762 640,758 642,753 643,747 645,740 646,734 646,728 647,723 647,719 646,715 646,710 645,706 644,701 643,696 642,691 643,686 642,681 641,677 640,673 638,669 636,665 633,661 629,657 624,653 619,650 614,647 608,644 603,642 597,641 591,639 584,640 578,639 572,638 566,637 560,637 554,637 549,638 544,640 539,642 534,645 530,648 526,652 522,655 519,659 516,664 514,668 512,672 510,676 509,681 508,685 507,689 506,692Z" fill="#e6e6e6"/>
<path d="M506,692 507,689 508,685 509,681 510,676 512,672 514,668 516,664 519,659 522,655 526,652 530,648 534,645 539,642 544,640 549,638 554,637 560,637 566,637 572,638 578,639 584,640 590,642 595,646 600,649 605,651 610,654 615,657 620,660 624,663 627,666 630,669 632,672 633,675 635,679 636,683 640,686 642,691 643,696 644,701 645,706 646,710 646,715 647,719 647,723 646,728 646,734 645,740 643,747 642,753 640,758 638,762 636,764 634,767 632,768 629,771 627,773 625,775 622,777 620,779 616,781 612,783 607,784 602,785 596,786 590,786 583,785 575,784 566,782 558,780 552,778 547,777 543,775 540,773 538,771 536,770 536,770 538,771 540,773 543,775 547,777 552,778 558,780 566,782 575,784 583,785 590,786 596,786 602,785 607,784 612,783 616,781 620,779 622,777 625,775 627,773 629,771 632,768 634,767 636,764 638,762 640,758 642,753 643,747 645,740 646,734 646,728 647,723 647,719 646,715 646,710 645,706 644,701 643,696 642,691 640,686 642,681 640,677 639,673 638,669 636,665 633,661 629,657 624,654 619,650 614,647 608,645 603,643 597,641 590,642 584,640 578,639 572,638 566,637 560,637 554,637 549,638 544,640 539,642 534,645 530,648 526,652 522,655 519,659 516,664 514,668 512,672 510,676 509,681 508,685 507,689 506,692Z" fill="#eaeaea"/>
<path d="M506,692 507,689 508,685 509,681 510,676 512,672 514,668 516,664 519,659 522,655 526,652 530,648 534,645 539,642 544,640 549,638 554,637 560,637 566,637 572,638 578,639 584,640 590,642 595,645 600,648 605,651 610,654 615,656 620,660 624,663 627,666 630,669 632,672 634,675 635,679 639,682 640,686 642,691 643,696 644,701 645,706 646,710 646,715 647,719 647,723 646,728 646,734 645,740 643,747 642,753 640,758 638,762 636,764 634,767 632,768 629,771 627,773 625,775 622,777 620,779 616,781 612,783 607,784 602,785 596,786 590,786 583,785 575,784 566,782 558,780 552,778 547,777 543,775 540,773 538,771 536,770 536,770 538,771 540,773 543,775 547,777 552,778 558,780 566,782 575,784 583,785 590,786 596,786 602,785 607,784 612,783 616,781 620,779 622,777 625,775 627,773 629,771 632,768 634,767 636,764 638,762 640,758 642,753 643,747 645,740 646,734 646,728 647,723 647,719 646,715 646,710 645,706 644,701 643,696 642,691 640,686 639,682 640,677 639,673 638,669 635,665 633,661 629,657 624,654 619,651 614,648 608,645 602,643 596,642 590,642 584,640 578,639 572,638 566,637 560,637 554,637 549,638 544,640 539,642 534,645 530,648 526,652 522,655 519,659 516,664 514,668 512,672 510,676 509,681 508,685 507,689 506,692Z" fill="#eeeeee"/>
<path d="M506,692 507,689 508,685 509,681 510,676 512,672 514,668 516,664 519,659 522,655 526,652 530,648 534,645 539,642 544,640 549,638 554,637 560,637 566,637 572,638 578,639 584,640 590,642 596,644 601,648 605,651 611,653 616,656 620,659 624,662 628,666 630,668 633,671 635,675 638,678 639,682 640,686 642,691 643,696 644,701 645,706 646,710 646,715 647,719 647,723 646,728 646,734 645,740 643,747 642,753 640,758 638,762 636,764 634,767 632,768 629,771 627,773 625,775 622,777 620,779 616,781 612,783 607,784 602,785 596,786 590,786 583,785 575,784 566,782 558,780 552,778 547,777 543,775 540,773 538,771 536,770 536,770 538,771 540,773 543,775 547,777 552,778 558,780 566,782 575,784 583,785 590,786 596,786 602,785 607,784 612,783 616,781 620,779 622,777 625,775 627,773 629,771 632,768 634,767 636,764 638,762 640,758 642,753 643,747 645,740 646,734 646,728 647,723 647,719 646,715 646,710 645,706 644,701 643,696 642,691 640,686 639,682 638,678 638,673 637,669 635,665 632,661 628,658 624,654 619,651 613,648 608,645 602,644 596,644 590,642 584,640 578,639 572,638 566,637 560,637 554,637 549,638 544,640 539,642 534,645 530,648 526,652 522,655 519,659 516,664 514,668 512,672 510,676 509,681 508,685 507,689 506,692Z" fill="#f2f2f2"/>
<path d="M506,692 507,689 508,685 509,681 510,676 512,672 514,668 516,664 519,659 522,655 526,652 530,648 534,645 539,642 544,640 549,638 554,637 560,637 566,637 572,638 578,639 584,640 590,642 596,644 601,646 606,650 611,653 616,656 621,659 625,662 628,665 631,668 635,670 636,674 638,678 639,682 640,686 642,691 643,696 644,701 645,706 646,710 646,715 647,719 647,723 646,728 646,734 645,740 643,747 642,753 640,758 638,762 636,764 634,767 632,768 629,771 627,773 625,775 622,777 620,779 616,781 612,783 607,784 602,785 596,786 590,786 583,785 575,784 566,782 558,780 552,778 547,777 543,775 540,773 538,771 536,770 536,770 538,771 540,773 543,775 547,777 552,778 558,780 566,782 575,784 583,785 590,786 596,786 602,785 607,784 612,783 616,781 620,779 622,777 625,775 627,773 629,771 632,768 634,767 636,764 638,762 640,758 642,753 643,747 645,740 646,734 646,728 647,723 647,719 646,715 646,710 645,706 644,701 643,696 642,691 640,686 639,682 638,678 636,674 635,670 634,666 632,662 628,658 624,655 619,651 613,648 608,646 601,646 596,644 590,642 584,640 578,639 572,638 566,637 560,637 554,637 549,638 544,640 539,642 534,645 530,648 526,652 522,655 519,659 516,664 514,668 512,672 510,676 509,681 508,685 507,689 506,692Z" fill="#f6f6f6"/>
</g>
</g></g>
<g clip-path="url(#wedgeclip)"><g filter="url(#cmap)">
<rect x="400" y="220" width="170" height="270" fill="#1f1f1f"/>
<ellipse cx="495" cy="252" rx="48" ry="28" fill="#141414" filter="url(#bl8)"/>
<ellipse cx="548" cy="420" rx="18" ry="50" fill="#181818" filter="url(#bl15)"/>
<ellipse cx="430" cy="355" rx="14" ry="45" fill="#161616" filter="url(#bl8)"/>
<ellipse cx="461" cy="363" rx="28" ry="42" fill="#070707" filter="url(#bl3)"/>
<g transform="scale(0.5)">
<path d="M893,634 898,628 906,619 914,610 922,601 930,595 937,589 943,584 950,580 955,578 959,577 964,577 969,579 976,581 983,585 989,588 995,592 1001,595 1007,600 1013,605 1019,610 1024,616 1029,622 1034,627 1038,633 1042,639 1046,645 1050,652 1053,659 1057,667 1060,672 1100,656 1099,651 1097,643 1094,634 1091,623 1086,613 1080,604 1074,596 1068,588 1061,581 1053,574 1046,567 1038,561 1030,554 1020,548 1011,544 1000,540 990,537 978,535 966,534 953,535 940,539 929,544 920,550 911,558 902,565 893,575 885,587 877,598 871,608 867,614Z" fill="#222222"/>
<path d="M939,528 948,529 959,531 972,533 985,535 994,539 1003,543 1012,549 1022,556 1030,563 1038,571 1046,580 1054,590 1062,601 1069,611 1074,618 1098,602 1094,595 1088,585 1080,572 1071,560 1062,549 1052,540 1041,531 1030,523 1019,515 1006,509 991,506 975,504 961,504 949,504 941,504Z" fill="#222222"/>
<path d="M861,669 862,668 864,667 867,665 869,663 872,662 876,660 879,658 883,656 886,654 890,652 893,650 896,649 900,647 903,646 906,645 909,644 912,643 915,643 918,643 921,643 925,643 930,643 935,644 940,646 944,647 948,649 951,650 954,653 957,655 959,657 961,659 963,661 964,663 965,665 966,667 967,670 968,672 969,675 969,679 970,682 970,686 971,691 971,696 971,700 971,705 971,709 971,712 971,716 971,719 970,723 970,726 969,729 968,732 967,736 965,740 963,746 961,753 958,760 955,766 953,771 951,773 949,775 946,777 943,779 939,782 936,786 933,789 931,792 929,794 926,796 923,799 919,801 914,804 910,806 905,809 902,811 898,813 895,815 892,816 889,818 886,820 883,822 880,824 877,825 876,826 884,842 886,841 889,839 892,838 895,836 899,834 902,832 905,831 908,829 911,827 915,825 919,823 923,820 928,818 933,815 938,812 942,808 945,805 948,802 950,799 953,796 955,794 958,792 961,790 965,786 969,780 972,774 975,767 978,759 981,752 983,746 984,742 986,737 987,733 988,729 988,725 989,721 989,717 990,713 990,709 990,705 990,700 989,695 989,690 989,685 988,680 987,676 986,671 985,667 984,664 983,660 981,656 979,653 977,650 975,647 972,644 969,641 965,638 961,635 956,632 951,630 945,628 939,626 933,625 927,624 922,624 916,624 912,625 908,626 904,627 901,628 897,629 893,631 889,632 885,634 882,636 878,638 874,640 870,643 866,645 863,647 860,649 857,651 855,653 853,654 851,655Z" fill="#222222"/>
<path d="M1015,591 1010,593 1005,597 1001,601 996,607 992,611 989,616 985,621 980,628 975,636 971,645 967,654 964,662 961,672 959,682 957,692 956,702 956,713 957,724 957,734 958,747 960,760 962,774 964,787 965,798 966,806 966,814 966,822 966,829 966,834 965,837 965,839 964,842 962,847 958,852 955,858 952,861 950,864 945,869 938,876 930,884 923,893 917,902 912,910 907,916 904,920 1008,992 1011,987 1015,981 1020,974 1024,968 1027,964 1030,961 1033,957 1039,952 1047,943 1054,934 1061,926 1068,917 1075,906 1083,892 1089,877 1094,861 1097,846 1099,832 1100,817 1100,802 1099,785 1097,769 1095,755 1094,743 1093,733 1092,725 1091,717 1091,710 1091,705 1091,700 1091,697 1090,694 1089,692 1089,690 1089,687 1089,684 1090,680 1092,675 1094,668 1096,661 1097,654 1099,647 1099,640 1098,634 1097,629Z" fill="#222222"/>
<path d="M886,629 892,623 900,615 908,605 917,596 925,589 932,583 939,578 946,574 952,571 958,570 964,570 971,572 978,574 986,578 993,582 999,585 1005,589 1012,594 1018,600 1024,605 1029,611 1035,617 1040,623 1044,629 1048,635 1052,642 1056,649 1060,657 1063,664 1066,669 1094,659 1093,653 1091,646 1088,636 1084,626 1080,617 1074,608 1068,600 1062,593 1055,586 1048,579 1041,573 1034,566 1025,560 1017,555 1007,550 998,547 988,544 977,542 965,541 954,542 943,546 933,550 924,557 915,563 907,571 899,580 891,591 884,603 878,612 874,619Z" fill="#262626"/>
<path d="M940,516 948,520 960,522 973,524 986,527 997,531 1007,536 1017,542 1027,549 1036,557 1044,565 1053,575 1061,585 1070,596 1077,606 1082,613 1090,607 1086,600 1080,589 1073,577 1064,565 1056,555 1046,546 1036,537 1026,529 1015,522 1003,517 989,514 975,512 960,513 949,513 940,516Z" fill="#262626"/>
<path d="M860,668 861,667 864,666 866,664 869,662 872,661 875,659 879,657 882,655 886,653 889,651 893,649 896,648 899,647 902,645 906,644 909,643 912,643 915,642 918,642 921,642 925,642 930,643 936,644 941,645 945,646 948,648 951,650 954,652 957,655 960,657 962,659 963,661 964,662 966,664 967,667 968,669 969,672 969,675 970,679 971,682 971,686 971,691 972,696 972,700 972,705 972,709 972,712 971,716 971,719 971,723 970,726 969,729 969,732 967,736 966,741 964,746 961,753 959,760 956,766 954,771 951,774 949,776 947,778 944,780 940,783 937,786 934,789 932,792 929,795 927,797 923,799 919,802 915,804 910,807 906,809 902,812 899,813 896,815 893,817 890,819 887,821 884,823 880,824 878,826 876,827 884,841 886,840 889,838 892,837 895,835 898,833 901,831 904,830 907,828 911,826 914,824 918,822 923,820 928,817 933,814 937,811 941,808 945,804 947,801 950,798 952,796 954,794 957,792 961,789 965,785 968,780 972,774 975,767 978,759 980,752 982,746 984,741 985,737 986,733 987,729 988,725 988,721 989,717 989,713 989,709 989,705 989,700 989,695 988,690 988,685 987,680 987,676 986,672 985,668 984,664 982,660 981,657 979,654 977,650 974,647 971,645 968,642 965,639 961,636 956,633 951,631 945,629 939,627 933,626 927,625 921,625 916,625 912,626 908,627 904,628 901,629 897,630 893,631 890,633 886,635 882,637 878,639 874,641 870,644 867,646 864,648 861,650 858,652 856,654 854,655 852,656Z" fill="#262626"/>
<path d="M1030,598 1025,600 1020,603 1016,609 1012,614 1008,619 1005,624 1001,629 997,636 993,643 989,652 986,659 983,667 980,675 978,684 977,693 976,703 976,713 977,723 977,733 978,745 979,758 981,772 983,785 985,796 985,805 985,814 985,823 985,831 984,838 983,843 982,847 980,851 977,857 973,863 969,869 966,873 962,876 957,881 951,888 944,895 937,904 932,912 926,920 922,926 919,930 993,982 996,977 1000,971 1005,964 1010,958 1014,953 1017,949 1021,945 1027,939 1034,932 1040,923 1046,915 1053,907 1059,897 1066,885 1071,871 1075,857 1078,844 1080,830 1081,817 1081,803 1080,787 1078,772 1076,758 1074,746 1073,735 1072,726 1071,718 1071,711 1071,704 1071,699 1071,694 1071,691 1071,688 1071,684 1071,680 1072,677 1073,672 1075,666 1078,660 1080,653 1082,646 1083,640 1084,633 1084,627 1082,622Z" fill="#262626"/>
<path d="M880,624 885,618 892,609 902,600 911,591 920,584 928,578 936,573 943,569 950,566 957,564 964,565 972,566 980,569 988,573 995,577 1002,581 1008,585 1015,590 1021,596 1027,601 1033,607 1038,614 1044,620 1048,627 1052,633 1057,640 1061,647 1065,655 1068,662 1071,667 1089,661 1088,655 1086,647 1083,638 1080,628 1076,619 1070,611 1065,603 1058,596 1052,589 1045,583 1038,576 1030,570 1022,565 1014,560 1005,555 996,552 986,549 976,547 965,547 955,548 945,551 936,556 927,562 920,568 912,576 905,585 898,597 892,609 885,618 880,624Z" fill="#2a2a2a"/>
<path d="M859,667 861,666 863,665 866,663 868,662 871,660 875,658 878,656 882,654 885,652 889,650 892,649 896,647 899,646 902,645 906,644 909,643 912,642 915,641 918,641 921,641 925,641 930,642 936,643 941,644 945,646 948,647 951,650 955,652 957,654 960,657 962,659 964,660 965,662 966,664 967,667 968,669 969,672 970,675 970,679 971,682 971,686 972,691 972,696 972,700 972,705 972,709 972,712 972,716 971,719 971,723 970,726 970,729 969,732 968,736 966,741 964,747 962,753 959,760 956,767 954,771 952,774 950,776 947,778 944,780 940,783 937,787 934,790 932,793 929,795 927,797 923,800 919,802 915,805 910,807 906,810 902,812 899,814 896,816 893,818 890,819 887,821 884,823 881,825 878,827 876,828 884,840 886,839 888,838 891,836 895,834 898,833 901,831 904,829 907,828 910,826 914,824 918,822 923,819 928,817 933,814 937,811 941,807 944,804 947,801 950,798 952,796 954,794 957,792 961,789 964,785 968,780 971,774 974,767 977,759 980,752 982,746 983,741 985,737 986,733 987,729 987,725 988,721 988,717 989,713 989,709 989,705 989,700 988,695 988,690 988,685 987,680 986,676 986,672 985,668 983,664 982,660 980,657 978,654 976,651 974,648 971,645 968,642 965,639 960,636 956,633 951,631 945,629 939,628 933,626 927,626 921,625 917,625 912,626 908,627 905,628 901,629 897,631 894,632 890,634 886,635 882,637 878,639 875,642 871,644 867,647 864,649 861,651 859,653 856,654 854,656 853,657Z" fill="#2a2a2a"/>
<path d="M1036,601 1032,603 1027,607 1023,612 1019,617 1015,622 1012,627 1008,632 1004,639 999,646 996,654 992,661 990,668 987,676 985,685 984,694 983,703 983,712 983,722 984,733 985,744 986,757 988,771 990,784 991,795 992,805 992,815 991,824 991,832 990,839 988,845 987,849 984,854 981,860 977,866 973,872 969,876 966,880 961,885 955,891 948,899 942,907 936,915 930,923 926,929 923,933 989,979 992,974 996,968 1001,961 1006,954 1010,949 1013,946 1017,941 1023,936 1030,928 1036,920 1042,912 1048,904 1055,894 1061,882 1066,869 1070,856 1072,843 1074,830 1074,817 1074,803 1073,788 1072,773 1069,759 1067,746 1066,736 1065,727 1065,718 1064,711 1064,704 1064,698 1064,694 1064,690 1064,686 1064,682 1064,678 1065,674 1067,669 1068,663 1071,657 1073,650 1075,643 1076,636 1077,630 1077,624 1076,619Z" fill="#2a2a2a"/>
<path d="M880,624 885,618 892,609 900,598 908,588 916,580 924,573 932,567 940,562 948,558 956,556 965,556 973,559 982,563 990,567 998,571 1005,576 1011,580 1018,586 1024,592 1030,598 1036,604 1042,610 1047,617 1052,624 1056,631 1061,637 1065,645 1070,654 1073,661 1077,665 1083,663 1083,657 1081,649 1079,640 1075,630 1072,621 1066,614 1061,606 1055,599 1048,593 1042,586 1034,580 1027,575 1019,569 1011,565 1002,561 993,558 984,556 974,555 965,556 956,556 948,558 940,562 932,567 924,573 916,580 908,588 900,598 892,609 885,618 880,624Z" fill="#2f2f2f"/>
<path d="M859,666 860,665 862,664 865,663 868,661 871,659 874,658 878,656 882,653 885,652 889,650 892,648 895,647 899,646 902,644 906,643 909,642 912,642 915,641 918,641 921,641 925,641 930,642 936,643 941,644 945,645 948,647 952,649 955,652 958,654 960,656 962,658 964,660 965,662 966,664 967,666 968,669 969,672 970,675 971,679 971,682 972,686 972,691 972,696 972,700 972,705 972,709 972,712 972,716 972,719 971,723 971,726 970,729 969,733 968,736 966,741 964,747 962,753 959,760 957,767 954,771 952,774 950,776 947,778 944,780 940,783 937,787 935,790 932,793 930,795 927,798 924,800 920,802 915,805 910,808 906,810 903,812 899,814 896,816 893,818 890,820 887,822 884,824 881,825 878,827 877,828 883,840 885,839 888,837 891,836 894,834 898,832 901,831 904,829 907,827 910,825 914,823 918,821 923,819 927,816 932,814 937,810 941,807 944,804 947,801 949,798 952,795 954,793 957,791 960,789 964,785 968,780 971,774 974,766 977,759 979,752 982,746 983,741 985,737 986,733 986,729 987,725 988,721 988,717 988,713 988,709 988,705 988,700 988,695 988,690 987,685 987,680 986,676 985,672 984,668 983,664 982,660 980,657 978,654 976,651 974,648 971,645 968,642 964,639 960,636 956,634 951,631 945,629 939,628 933,627 927,626 921,626 917,626 912,626 908,627 905,629 901,630 898,631 894,633 890,634 886,636 883,638 879,640 875,642 871,645 868,647 865,650 862,652 859,653 857,655 855,657 853,658Z" fill="#2f2f2f"/>
<path d="M1040,603 1036,605 1031,609 1027,614 1023,619 1019,624 1015,629 1011,634 1007,640 1003,648 999,655 996,662 993,669 991,677 989,685 987,694 987,703 987,712 987,722 987,732 988,744 989,757 991,770 993,783 994,795 995,805 995,815 994,824 994,832 993,840 991,846 989,850 987,856 983,861 979,867 975,873 972,878 968,882 963,887 957,893 950,900 944,908 938,916 933,924 928,930 925,935 987,977 990,973 994,966 999,960 1004,953 1008,948 1011,944 1015,939 1021,934 1028,927 1034,919 1040,911 1046,903 1052,893 1058,881 1063,868 1067,855 1069,842 1070,829 1071,816 1071,803 1070,788 1068,773 1066,759 1064,747 1063,736 1062,727 1061,718 1061,711 1061,704 1061,698 1060,693 1060,689 1060,685 1060,681 1061,677 1062,672 1063,667 1065,661 1067,655 1069,648 1071,641 1072,634 1073,628 1073,622 1072,617Z" fill="#2f2f2f"/>
<path d="M856,662 859,664 862,663 864,661 867,660 870,658 874,657 877,655 881,653 885,651 888,649 892,648 895,646 899,645 902,644 905,643 909,642 912,641 915,641 918,640 921,640 925,641 930,641 936,642 941,644 945,645 949,647 952,649 955,651 958,654 960,656 962,658 964,660 965,662 966,664 967,666 968,669 969,672 970,675 971,679 971,682 972,686 972,691 972,696 973,700 973,705 973,709 972,712 972,716 972,719 971,723 971,726 970,729 969,733 968,736 967,741 965,747 962,754 959,761 957,767 954,771 952,774 950,776 947,778 944,781 941,784 937,787 935,790 932,793 930,795 927,798 924,800 920,803 915,805 911,808 906,810 903,813 900,815 897,817 894,818 891,820 888,822 884,824 881,826 879,827 877,829 883,839 885,838 888,837 891,835 894,834 897,832 900,830 903,829 907,827 910,825 914,823 918,821 922,819 927,816 932,813 937,810 941,807 944,804 947,800 949,798 951,795 954,793 957,791 960,788 964,785 968,780 971,773 974,766 977,759 979,752 981,746 983,741 984,737 985,733 986,729 987,725 988,721 988,717 988,713 988,709 988,705 988,700 988,695 988,690 987,685 987,680 986,676 985,672 984,668 983,664 981,660 980,657 978,654 976,651 974,648 971,645 968,643 964,640 960,637 956,634 951,632 945,630 939,628 933,627 927,626 921,626 917,626 912,627 908,628 905,629 901,630 898,631 894,633 890,635 886,636 883,638 879,640 875,643 872,646 868,648 865,650 862,652 860,655 858,657 856,658 856,662Z" fill="#333333"/>
<path d="M1044,605 1039,607 1035,610 1030,615 1026,620 1022,625 1018,630 1014,636 1010,642 1006,649 1002,656 999,663 996,670 994,677 992,685 990,694 989,703 989,712 989,722 990,732 990,743 992,756 994,770 995,783 997,795 997,805 997,815 997,824 996,833 995,840 993,846 991,851 989,857 985,862 981,869 977,875 973,879 969,883 964,888 958,894 951,901 945,909 939,918 934,925 930,931 927,936 985,976 988,972 993,965 997,959 1002,952 1006,947 1010,943 1014,938 1020,933 1026,925 1033,917 1038,910 1044,901 1050,892 1056,880 1061,868 1065,855 1067,842 1068,829 1069,816 1069,803 1068,788 1066,774 1064,760 1062,747 1060,737 1059,727 1059,719 1058,711 1058,704 1058,698 1058,693 1057,689 1057,685 1058,680 1058,676 1059,671 1060,666 1062,660 1064,653 1066,647 1068,640 1069,633 1070,626 1069,620 1068,615Z" fill="#333333"/>
<path d="M856,662 858,661 860,660 862,658 865,656 868,654 873,656 877,654 881,652 885,650 888,649 892,647 895,646 898,645 902,644 905,643 909,642 912,641 915,640 918,640 921,640 925,640 931,641 936,642 941,643 945,645 949,647 952,649 955,651 958,654 961,656 963,658 964,660 965,662 966,664 968,666 969,669 970,672 970,675 971,679 972,682 972,686 972,691 973,696 973,700 973,705 973,709 973,712 972,716 972,719 972,723 971,726 970,729 970,733 968,736 967,741 965,747 962,754 960,761 957,767 954,772 952,774 950,777 947,778 944,781 941,784 938,787 935,790 932,793 930,796 927,798 924,800 920,803 915,806 911,808 907,811 903,813 900,815 897,817 894,819 891,821 888,822 885,824 882,826 879,828 877,829 883,839 885,838 887,837 891,835 894,833 897,831 900,830 903,828 906,827 910,825 913,823 918,821 922,818 927,816 932,813 937,810 941,807 944,803 947,800 949,797 951,795 954,793 957,791 960,788 964,785 968,780 971,773 974,766 977,759 979,752 981,746 983,741 984,737 985,733 986,729 987,725 987,721 988,717 988,713 988,709 988,705 988,700 988,695 988,690 987,685 986,680 986,676 985,672 984,668 983,664 981,660 980,657 978,654 976,651 973,648 971,646 968,643 964,640 960,637 955,634 950,632 945,630 939,629 933,627 927,627 921,626 917,627 912,627 908,628 905,629 902,631 898,632 894,633 890,635 887,637 883,639 879,641 876,644 872,646 869,649 868,654 865,656 862,658 860,660 858,661 856,662Z" fill="#373737"/>
<path d="M1056,610 1044,609 1038,612 1033,617 1029,622 1024,627 1020,631 1016,637 1012,643 1008,650 1004,657 1001,664 998,670 996,678 994,686 992,694 992,703 991,712 991,722 992,732 992,743 994,756 995,770 997,783 999,795 999,805 999,815 998,824 998,833 996,840 995,847 993,852 990,857 986,863 982,869 978,876 974,880 970,884 965,889 959,895 952,902 946,910 941,918 935,926 931,932 928,937 984,975 987,971 991,965 996,958 1001,951 1005,946 1009,942 1013,937 1019,931 1025,924 1031,916 1037,909 1043,901 1049,891 1055,880 1060,867 1063,855 1065,842 1066,829 1067,816 1067,803 1066,788 1064,774 1062,760 1060,747 1058,737 1057,727 1057,719 1056,711 1056,704 1056,698 1055,693 1055,688 1055,684 1055,680 1056,675 1057,670 1058,665 1060,659 1062,652 1064,645 1065,639 1066,632 1066,625 1065,618 1056,610Z" fill="#373737"/>
<path d="M856,662 858,661 860,660 862,658 865,656 868,654 871,652 876,653 880,651 884,650 888,648 891,647 895,645 898,644 902,643 905,642 909,641 912,640 915,640 918,640 921,640 925,640 931,641 936,642 941,643 945,645 949,646 952,649 955,651 958,653 961,656 963,658 964,660 966,662 967,664 968,666 969,669 970,672 970,675 971,679 972,682 972,686 972,691 973,696 973,700 973,705 973,709 973,712 973,716 972,719 972,723 971,726 971,729 970,733 969,736 967,741 965,747 962,754 960,761 957,767 955,772 952,775 950,777 948,779 944,781 941,784 938,787 935,790 933,793 930,796 928,798 924,801 920,803 915,806 911,809 907,811 903,813 900,815 897,817 894,819 891,821 888,823 885,825 882,827 879,828 878,830 882,838 884,837 887,836 890,834 894,833 897,831 900,830 903,828 906,826 910,825 913,823 917,820 922,818 927,816 932,813 936,810 940,807 944,803 946,800 949,797 951,795 954,793 956,791 960,788 964,784 967,780 971,773 974,766 976,759 979,752 981,746 983,741 984,737 985,733 986,729 987,725 987,721 988,717 988,713 988,709 988,705 988,700 988,695 987,690 987,685 986,680 986,676 985,672 984,668 982,664 981,661 979,657 978,654 976,651 973,648 970,646 967,643 964,640 960,637 955,634 950,632 945,630 939,629 933,628 927,627 921,627 917,627 912,628 909,629 905,630 902,631 898,632 894,634 891,636 887,637 883,639 880,642 876,644 873,648 871,652 868,654 865,656 862,658 860,660 858,661 856,662Z" fill="#3c3c3c"/>
<path d="M1056,610 1054,613 1043,614 1037,618 1031,623 1027,628 1023,633 1019,638 1014,644 1010,650 1006,658 1003,664 1000,671 998,678 996,686 994,694 993,703 993,712 993,722 994,732 994,743 995,756 997,769 999,782 1000,795 1001,805 1000,815 1000,824 999,833 998,841 996,847 994,853 991,858 987,864 983,870 979,876 975,881 971,885 966,890 960,896 953,903 947,911 942,919 936,927 932,933 929,937 983,975 986,970 990,964 995,957 1000,950 1004,945 1008,941 1012,936 1018,931 1024,924 1030,916 1036,908 1042,900 1048,890 1054,879 1058,867 1062,854 1064,842 1065,829 1065,816 1065,803 1064,789 1062,774 1060,760 1058,748 1057,737 1056,728 1055,719 1054,711 1054,704 1054,698 1054,692 1053,688 1053,684 1054,679 1054,674 1055,669 1056,664 1058,658 1060,651 1061,644 1062,637 1062,630 1061,623 1054,613 1056,610Z" fill="#3c3c3c"/>
<path d="M856,662 858,661 860,660 862,658 865,656 868,654 871,652 874,650 878,648 884,649 887,647 891,646 895,645 898,644 902,643 905,642 908,641 912,640 915,640 918,639 921,639 925,640 931,641 936,642 941,643 945,644 949,646 952,648 955,651 958,653 961,656 963,658 964,660 966,662 967,664 968,666 969,669 970,672 971,675 971,678 972,682 972,686 973,691 973,696 973,700 973,705 973,709 973,712 973,716 972,719 972,723 971,726 971,729 970,733 969,736 967,741 965,747 963,754 960,761 957,767 955,772 953,775 950,777 948,779 944,781 941,784 938,787 935,791 933,793 930,796 928,798 924,801 920,803 916,806 911,809 907,811 903,814 900,816 897,818 894,819 891,821 888,823 885,825 882,827 880,829 878,830 882,838 884,837 887,836 890,834 893,832 897,831 900,829 903,828 906,826 909,824 913,822 917,820 922,818 927,815 932,813 936,810 940,806 943,803 946,800 949,797 951,795 953,793 956,791 960,788 964,784 967,779 970,773 973,766 976,759 979,752 981,746 983,741 984,737 985,733 986,729 986,725 987,721 987,717 988,713 988,709 988,705 988,700 987,695 987,690 987,685 986,680 985,676 985,672 984,668 982,664 981,661 979,657 978,654 976,651 973,649 970,646 967,643 964,640 960,637 955,635 950,632 945,631 939,629 933,628 927,627 921,627 917,627 912,628 909,629 905,630 902,632 898,633 894,634 891,636 887,638 884,640 880,643 878,648 874,650 871,652 868,654 865,656 862,658 860,660 858,661 856,662Z" fill="#404040"/>
<path d="M1056,610 1054,613 1052,618 1042,620 1035,625 1030,629 1025,634 1021,639 1016,645 1012,651 1008,658 1005,665 1002,671 999,678 997,686 996,694 995,703 995,712 995,722 995,732 996,743 997,756 999,769 1000,782 1002,794 1002,805 1002,815 1001,824 1000,833 999,841 997,848 995,853 992,859 988,864 984,871 980,877 976,882 972,886 967,891 961,897 954,904 948,912 942,920 937,927 933,934 930,938 982,974 985,970 989,963 994,956 999,950 1003,944 1007,940 1011,935 1017,930 1023,923 1030,915 1035,907 1041,899 1047,890 1052,879 1057,866 1060,854 1062,842 1064,829 1064,816 1064,803 1063,789 1061,774 1059,760 1057,748 1055,737 1054,728 1053,719 1053,711 1052,704 1052,698 1052,692 1052,688 1052,683 1052,679 1052,674 1053,669 1054,663 1056,657 1057,650 1058,643 1059,636 1057,628 1052,618 1054,613 1056,610Z" fill="#404040"/>
<path d="M856,662 858,661 860,660 862,658 865,656 868,654 871,652 874,650 878,648 882,646 886,644 891,645 894,644 898,643 901,642 905,641 908,640 911,640 914,639 917,639 921,639 925,639 931,640 936,641 941,643 945,644 949,646 952,648 955,651 958,653 961,656 963,658 965,660 966,662 967,664 968,666 969,669 970,672 971,675 971,678 972,682 972,686 973,691 973,696 973,700 973,705 973,709 973,712 973,716 973,719 972,723 971,726 971,729 970,733 969,736 967,741 965,747 963,754 960,761 957,767 955,772 953,775 950,777 948,779 945,781 941,784 938,788 935,791 933,794 931,796 928,798 924,801 920,804 916,806 911,809 907,812 903,814 900,816 897,818 894,820 892,822 889,824 885,826 883,828 880,830 880,834 880,834 883,836 886,835 890,833 893,832 896,830 900,829 903,827 906,826 909,824 913,822 917,820 922,818 927,815 932,812 936,810 940,806 943,803 946,800 949,797 951,795 953,793 956,790 960,788 964,784 967,779 970,773 973,766 976,759 979,752 981,746 982,741 984,737 985,733 986,729 986,725 987,721 987,717 988,713 988,709 988,705 988,700 987,695 987,690 987,685 986,680 985,676 984,672 983,668 982,664 981,661 979,657 977,654 975,651 973,649 970,646 967,643 964,640 960,637 955,635 950,633 945,631 939,629 933,628 927,628 921,627 917,628 912,628 909,629 905,631 902,632 898,633 895,635 891,637 888,639 886,644 882,646 878,648 874,650 871,652 868,654 865,656 862,658 860,660 858,661 856,662Z" fill="#444444"/>
<path d="M1056,610 1054,613 1052,618 1050,624 1041,627 1033,631 1028,635 1023,640 1018,646 1014,652 1010,659 1006,665 1004,672 1001,679 999,686 997,694 997,703 996,712 996,722 997,732 997,743 998,755 1000,769 1002,782 1003,794 1003,805 1003,815 1003,824 1002,833 1000,841 998,848 996,853 993,859 989,865 985,871 980,878 977,882 972,886 967,891 961,897 955,904 949,912 943,920 938,928 934,934 931,938 981,974 984,969 989,963 994,956 998,949 1003,944 1006,939 1011,935 1016,929 1023,922 1029,914 1034,907 1040,899 1046,889 1051,878 1056,866 1059,854 1061,841 1062,829 1063,816 1063,803 1062,789 1060,774 1057,760 1055,748 1054,737 1053,728 1052,719 1051,711 1051,704 1051,698 1050,692 1050,687 1050,683 1050,678 1050,673 1051,668 1052,662 1053,655 1055,648 1055,641 1053,633 1050,624 1052,618 1054,613 1056,610Z" fill="#444444"/>
<path d="M856,662 858,661 860,660 862,658 865,656 868,654 871,652 874,650 878,648 882,646 886,644 889,642 893,640 897,642 901,641 905,640 908,640 911,639 914,639 917,638 921,639 926,639 931,640 936,641 941,642 946,644 949,646 952,648 956,650 959,653 961,655 963,658 965,660 966,661 967,664 968,666 969,669 970,672 971,675 972,678 972,682 973,686 973,691 973,696 973,700 973,705 973,709 973,712 973,716 973,719 972,723 972,726 971,729 970,733 969,737 967,741 965,747 963,754 960,761 958,767 955,772 953,775 951,777 948,779 945,781 941,784 938,788 935,791 933,794 931,796 928,799 924,801 920,804 916,807 911,809 907,812 904,814 900,816 898,818 895,820 892,823 889,825 886,827 884,831 882,833 880,834 880,834 882,833 884,831 889,832 893,831 896,829 899,828 902,827 906,825 909,824 913,822 917,820 922,817 927,815 932,812 936,809 940,806 943,803 946,800 948,797 951,794 953,792 956,790 960,788 963,784 967,779 970,773 973,766 976,759 979,752 981,746 982,741 984,737 985,733 986,729 986,725 987,721 987,717 987,713 988,709 988,705 987,700 987,695 987,690 986,685 986,680 985,676 984,672 983,668 982,664 981,661 979,657 977,654 975,652 973,649 970,646 967,643 963,640 959,638 955,635 950,633 945,631 939,630 933,629 927,628 921,628 917,628 913,629 909,630 906,631 902,633 899,634 895,637 893,640 889,642 886,644 882,646 878,648 874,650 871,652 868,654 865,656 862,658 860,660 858,661 856,662Z" fill="#484848"/>
<path d="M1056,610 1054,613 1052,618 1050,624 1047,630 1044,636 1031,637 1026,641 1020,647 1016,653 1012,660 1008,666 1005,672 1003,679 1001,686 999,694 998,703 998,712 998,722 998,732 998,743 1000,755 1001,769 1003,782 1004,794 1005,805 1004,815 1004,825 1003,833 1001,841 999,848 997,854 994,860 990,866 986,872 981,878 977,883 973,887 968,892 962,898 956,905 950,913 944,921 939,928 934,935 931,939 981,973 984,969 988,962 993,955 998,948 1002,943 1006,939 1010,934 1016,929 1022,922 1028,914 1034,906 1039,898 1045,889 1051,878 1055,866 1058,854 1060,841 1061,829 1062,816 1061,803 1060,789 1058,775 1056,761 1054,748 1052,737 1051,728 1050,719 1050,711 1049,704 1049,698 1049,692 1048,687 1048,682 1048,678 1048,672 1049,667 1050,661 1051,654 1051,647 1044,636 1047,630 1050,624 1052,618 1054,613 1056,610Z" fill="#484848"/>
<path d="M856,662 858,661 860,660 862,658 865,656 868,654 871,652 874,650 878,648 882,646 886,644 889,642 893,640 896,639 900,638 903,637 908,639 911,638 914,638 917,638 921,638 926,639 931,640 936,641 941,642 946,644 949,646 953,648 956,650 959,653 961,655 963,658 965,659 966,661 967,664 968,666 969,669 970,672 971,675 972,678 972,682 973,686 973,691 973,696 973,700 973,705 973,709 973,712 973,716 973,719 972,723 972,726 971,730 970,733 969,737 968,741 965,747 963,754 960,761 958,767 955,772 953,775 951,777 948,779 945,782 941,784 938,788 936,791 933,794 931,796 928,799 925,801 920,804 916,807 911,810 907,812 904,815 901,817 898,819 895,821 894,826 891,828 888,830 884,831 882,833 880,834 880,834 882,833 884,831 888,830 891,828 894,826 899,827 902,826 905,825 909,823 913,821 917,819 922,817 927,815 931,812 936,809 940,806 943,803 946,800 948,797 951,794 953,792 956,790 960,788 963,784 967,779 970,773 973,766 976,759 978,752 980,746 982,741 983,737 985,733 985,729 986,725 987,721 987,717 987,713 987,709 987,705 987,700 987,695 987,690 986,685 986,680 985,676 984,672 983,668 982,664 980,661 979,658 977,655 975,652 973,649 970,646 967,644 963,641 959,638 955,635 950,633 944,631 939,630 932,629 927,628 921,628 917,629 913,629 909,631 906,632 903,637 900,638 896,639 893,640 889,642 886,644 882,646 878,648 874,650 871,652 868,654 865,656 862,658 860,660 858,661 856,662Z" fill="#4c4c4c"/>
<path d="M1056,610 1054,613 1052,618 1050,624 1047,630 1044,636 1041,642 1030,643 1023,648 1018,654 1014,660 1010,666 1007,673 1004,679 1002,687 1000,695 1000,703 999,712 999,721 999,731 1000,742 1001,755 1003,769 1004,782 1005,794 1006,805 1005,815 1005,825 1004,834 1002,842 1000,848 998,854 995,860 991,866 986,873 982,879 978,883 974,888 969,893 963,899 956,906 950,913 945,921 939,929 935,935 932,939 980,973 983,968 987,962 992,955 997,948 1001,942 1005,938 1009,934 1015,928 1021,921 1027,913 1033,906 1038,898 1044,888 1050,877 1054,866 1057,853 1059,841 1060,829 1061,816 1060,803 1059,789 1057,775 1055,761 1053,748 1051,738 1050,728 1049,719 1048,711 1048,704 1048,697 1047,692 1047,687 1046,682 1046,677 1046,672 1047,666 1047,659 1047,652 1041,642 1044,636 1047,630 1050,624 1052,618 1054,613 1056,610Z" fill="#4c4c4c"/>
<path d="M856,662 858,661 860,660 862,658 865,656 868,654 871,652 874,650 878,648 882,646 886,644 889,642 893,640 896,639 900,638 903,637 907,636 911,637 914,637 917,637 921,638 926,638 931,639 936,640 941,642 946,643 949,645 953,648 956,650 959,653 961,655 963,657 965,659 966,661 967,663 968,666 970,669 970,672 971,675 972,678 972,682 973,686 973,691 973,696 973,700 974,705 973,709 973,712 973,716 973,719 972,723 972,726 971,730 970,733 969,737 968,741 966,747 963,754 960,761 958,767 955,772 953,775 951,777 948,779 945,782 941,785 938,788 936,791 933,794 931,797 928,799 925,802 921,804 916,807 912,810 908,813 904,815 901,817 898,820 897,824 894,826 891,828 888,830 884,831 882,833 880,834 880,834 882,833 884,831 888,830 891,828 894,826 897,824 902,825 905,824 909,823 912,821 917,819 921,817 926,815 931,812 936,809 940,806 943,803 946,800 948,797 951,794 953,792 956,790 959,788 963,784 967,779 970,773 973,766 976,759 978,752 980,746 982,741 983,737 984,733 985,729 986,725 987,721 987,717 987,713 987,709 987,705 987,700 987,695 987,690 986,685 986,680 985,676 984,672 983,668 982,664 980,661 979,658 977,655 975,652 973,649 970,646 967,644 963,641 959,638 955,635 950,633 944,632 938,630 932,629 927,629 921,629 917,629 913,630 909,632 907,636 903,637 900,638 896,639 893,640 889,642 886,644 882,646 878,648 874,650 871,652 868,654 865,656 862,658 860,660 858,661 856,662Z" fill="#515151"/>
<path d="M1056,610 1054,613 1052,618 1050,624 1047,630 1044,636 1041,642 1038,648 1028,650 1021,655 1016,661 1012,667 1009,673 1006,680 1004,687 1002,695 1001,703 1001,712 1001,721 1001,731 1001,742 1002,755 1004,768 1005,782 1006,794 1007,805 1007,815 1006,825 1005,834 1003,842 1001,849 999,855 996,860 992,867 987,873 982,879 978,884 974,888 969,893 963,899 957,906 951,914 945,922 940,929 936,936 933,940 979,972 982,968 987,961 991,954 996,948 1001,942 1004,938 1009,933 1014,927 1021,921 1027,913 1032,905 1038,897 1043,888 1049,877 1053,865 1056,853 1058,841 1059,829 1059,816 1059,803 1058,789 1056,775 1054,761 1051,748 1050,738 1049,728 1048,719 1047,711 1046,704 1046,697 1045,691 1045,686 1044,682 1044,676 1044,671 1044,665 1043,657 1038,648 1041,642 1044,636 1047,630 1050,624 1052,618 1054,613 1056,610Z" fill="#515151"/>
<path d="M856,662 858,661 860,660 862,658 865,656 868,654 871,652 874,650 878,648 882,646 886,644 889,642 893,640 896,639 900,638 903,637 907,636 910,635 913,634 917,636 921,637 926,638 931,639 936,640 942,642 946,643 949,645 953,647 956,650 959,653 961,655 964,657 965,659 966,661 967,663 969,666 970,669 971,672 971,675 972,678 972,682 973,686 973,691 973,696 974,700 974,705 974,709 974,712 973,716 973,719 972,723 972,726 971,730 970,733 969,737 968,741 966,747 963,754 961,761 958,767 955,772 953,775 951,777 948,779 945,782 942,785 938,788 936,791 933,794 931,797 928,799 925,802 921,804 916,807 912,810 908,813 904,816 902,818 900,823 897,824 894,826 891,828 888,830 884,831 882,833 880,834 880,834 882,833 884,831 888,830 891,828 894,826 897,824 900,823 905,823 908,822 912,821 917,819 921,817 926,814 931,812 936,809 940,806 943,803 946,799 948,797 950,794 953,792 956,790 959,787 963,784 967,779 970,773 973,766 976,759 978,752 980,746 982,741 983,737 984,733 985,729 986,725 986,721 987,717 987,713 987,709 987,705 987,700 987,695 987,690 986,685 986,680 985,676 984,672 983,668 982,664 980,661 979,658 977,655 975,652 972,649 970,646 967,644 963,641 959,638 955,636 950,634 944,632 938,631 932,630 927,629 921,630 917,630 913,634 910,635 907,636 903,637 900,638 896,639 893,640 889,642 886,644 882,646 878,648 874,650 871,652 868,654 865,656 862,658 860,660 858,661 856,662Z" fill="#555555"/>
<path d="M1056,610 1054,613 1052,618 1050,624 1047,630 1044,636 1041,642 1038,648 1035,654 1027,658 1019,662 1015,668 1011,674 1008,680 1006,687 1004,695 1003,703 1002,712 1002,721 1002,731 1002,742 1003,755 1005,768 1007,781 1008,794 1008,805 1008,815 1007,825 1006,834 1004,842 1002,849 1000,855 996,861 992,867 988,873 983,880 979,884 975,889 970,894 964,900 958,907 952,914 946,922 941,930 936,936 933,940 979,972 982,967 986,961 991,954 996,947 1000,941 1004,937 1008,932 1014,927 1020,920 1026,912 1032,905 1037,897 1043,887 1048,877 1052,865 1055,853 1057,841 1058,829 1058,816 1058,803 1057,789 1055,775 1052,761 1050,749 1048,738 1047,728 1046,719 1045,711 1045,704 1044,697 1044,691 1043,686 1042,681 1042,676 1041,670 1038,662 1035,654 1038,648 1041,642 1044,636 1047,630 1050,624 1052,618 1054,613 1056,610Z" fill="#555555"/>
<path d="M856,662 858,661 860,660 862,658 865,656 868,654 871,652 874,650 878,648 882,646 886,644 889,642 893,640 896,639 900,638 903,637 907,636 910,635 913,634 917,633 921,633 926,637 931,638 936,640 942,641 946,643 950,645 953,647 956,650 959,652 962,655 964,657 965,659 966,661 968,663 969,666 970,669 971,672 971,675 972,678 973,682 973,686 973,691 974,696 974,700 974,705 974,709 974,712 973,716 973,719 973,723 972,726 971,730 971,733 969,737 968,741 966,747 963,754 961,761 958,767 955,772 953,775 951,778 948,780 945,782 942,785 939,788 936,791 934,794 931,797 928,799 925,802 921,805 916,808 912,811 908,814 905,817 903,821 900,823 897,824 894,826 891,828 888,830 884,831 882,833 880,834 880,834 882,833 884,831 888,830 891,828 894,826 897,824 900,823 903,821 908,821 912,820 916,818 921,816 926,814 931,812 936,809 939,806 943,802 945,799 948,796 950,794 953,792 956,790 959,787 963,784 967,779 970,773 973,766 976,758 978,751 980,746 982,741 983,737 984,733 985,729 986,725 986,721 987,717 987,713 987,709 987,705 987,700 987,695 986,690 986,685 985,680 985,676 984,672 983,668 982,664 980,661 979,658 977,655 975,652 972,649 970,647 967,644 963,641 959,638 955,636 950,634 944,632 938,631 932,630 926,630 921,633 917,633 913,634 910,635 907,636 903,637 900,638 896,639 893,640 889,642 886,644 882,646 878,648 874,650 871,652 868,654 865,656 862,658 860,660 858,661 856,662Z" fill="#595959"/>
<path d="M1056,610 1054,613 1052,618 1050,624 1047,630 1044,636 1041,642 1038,648 1035,654 1032,660 1030,666 1018,669 1014,674 1010,680 1008,687 1005,695 1004,703 1004,712 1003,721 1003,731 1004,742 1005,755 1006,768 1008,781 1009,794 1009,805 1009,815 1008,825 1007,834 1005,842 1003,849 1000,855 997,861 993,867 988,874 984,880 980,885 975,889 970,894 964,900 958,907 952,915 946,923 941,930 937,936 934,941 978,971 981,967 985,961 990,954 995,947 1000,941 1003,937 1008,932 1013,926 1020,920 1026,912 1031,904 1036,896 1042,887 1047,876 1051,865 1054,853 1056,841 1057,828 1057,816 1057,803 1056,789 1054,775 1051,761 1049,749 1047,738 1046,728 1045,719 1044,711 1043,704 1043,697 1042,691 1041,686 1040,680 1038,675 1030,666 1032,660 1035,654 1038,648 1041,642 1044,636 1047,630 1050,624 1052,618 1054,613 1056,610Z" fill="#595959"/>
<path d="M856,662 858,661 860,660 862,658 865,656 868,654 871,652 874,650 878,648 882,646 886,644 889,642 893,640 896,639 900,638 903,637 907,636 910,635 913,634 917,633 921,633 926,634 931,637 937,639 942,641 946,643 950,645 953,647 956,650 959,652 962,655 964,657 965,659 967,661 968,663 969,666 970,669 971,672 971,675 972,678 973,682 973,686 973,691 974,696 974,700 974,705 974,709 974,712 974,716 973,719 973,723 972,726 971,730 971,733 970,737 968,741 966,747 963,754 961,761 958,767 956,772 953,775 951,778 948,780 945,782 942,785 939,788 936,791 934,794 931,797 929,799 925,802 921,805 917,808 912,811 910,817 906,819 903,821 900,823 897,824 894,826 891,828 888,830 884,831 882,833 880,834 880,834 882,833 884,831 888,830 891,828 894,826 897,824 900,823 903,821 906,819 910,817 916,818 921,816 926,814 931,811 935,809 939,805 942,802 945,799 948,796 950,794 953,792 956,790 959,787 963,784 966,779 970,773 973,766 975,758 978,751 980,745 982,741 983,737 984,733 985,729 986,725 986,721 987,717 987,713 987,709 987,705 987,700 987,695 986,690 986,685 985,680 985,676 984,672 983,668 981,664 980,661 978,658 977,655 975,652 972,649 969,647 966,644 963,641 959,639 954,636 949,634 944,633 938,632 932,631 926,634 921,633 917,633 913,634 910,635 907,636 903,637 900,638 896,639 893,640 889,642 886,644 882,646 878,648 874,650 871,652 868,654 865,656 862,658 860,660 858,661 856,662Z" fill="#5e5e5e"/>
<path d="M1056,610 1054,613 1052,618 1050,624 1047,630 1044,636 1041,642 1038,648 1035,654 1032,660 1030,666 1028,672 1018,675 1013,681 1010,687 1007,695 1006,703 1005,712 1005,721 1005,731 1005,742 1006,754 1007,768 1009,781 1010,794 1010,805 1010,815 1009,825 1008,834 1006,842 1004,850 1001,856 998,862 994,868 989,874 984,880 980,885 976,890 971,895 965,901 959,907 953,915 947,923 942,930 938,937 935,941 977,971 981,966 985,960 990,953 995,946 999,941 1003,936 1007,931 1013,926 1019,919 1025,912 1030,904 1036,896 1041,887 1046,876 1051,864 1053,853 1055,841 1056,828 1056,816 1056,803 1055,790 1052,775 1050,762 1048,749 1046,738 1044,728 1043,719 1042,711 1041,704 1041,697 1039,691 1038,685 1036,679 1028,672 1030,666 1032,660 1035,654 1038,648 1041,642 1044,636 1047,630 1050,624 1052,618 1054,613 1056,610Z" fill="#5e5e5e"/>
<path d="M856,662 858,661 860,660 862,658 865,656 868,654 871,652 874,650 878,648 882,646 886,644 889,642 893,640 896,639 900,638 903,637 907,636 910,635 913,634 917,633 921,633 926,634 932,634 937,638 942,640 946,642 950,644 953,647 956,649 959,652 962,655 964,657 965,659 967,661 968,663 969,666 970,669 971,672 972,675 972,678 973,682 973,686 974,691 974,696 974,700 974,705 974,709 974,712 974,716 973,719 973,723 972,726 972,730 971,733 970,737 968,741 966,747 964,754 961,761 958,767 956,772 953,775 951,778 948,780 945,782 942,785 939,788 936,791 934,794 931,797 929,800 925,802 921,805 917,808 913,812 910,817 906,819 903,821 900,823 897,824 894,826 891,828 888,830 884,831 882,833 880,834 880,834 882,833 884,831 888,830 891,828 894,826 897,824 900,823 903,821 906,819 910,817 916,817 921,816 926,814 931,811 935,808 939,805 942,802 945,799 948,796 950,794 953,792 956,790 959,787 963,784 966,779 970,773 973,766 975,758 978,751 980,745 982,741 983,736 984,733 985,729 986,725 986,721 987,717 987,713 987,709 987,705 987,700 987,695 986,690 986,685 985,680 984,676 984,672 983,668 981,665 980,661 978,658 977,655 974,652 972,649 969,647 966,644 963,641 959,639 954,636 949,635 944,633 938,633 932,634 926,634 921,633 917,633 913,634 910,635 907,636 903,637 900,638 896,639 893,640 889,642 886,644 882,646 878,648 874,650 871,652 868,654 865,656 862,658 860,660 858,661 856,662Z" fill="#626262"/>
<path d="M1056,610 1054,613 1052,618 1050,624 1047,630 1044,636 1041,642 1038,648 1035,654 1032,660 1030,666 1028,672 1027,677 1018,682 1013,688 1010,695 1008,703 1007,712 1007,721 1006,731 1007,742 1007,754 1009,768 1010,781 1011,794 1011,805 1011,815 1010,825 1009,834 1007,843 1005,850 1002,856 998,862 994,868 989,875 985,881 981,886 976,890 971,895 965,901 959,908 953,915 948,923 942,931 938,937 935,942 977,970 980,966 984,960 989,953 994,946 998,940 1002,936 1007,931 1012,925 1018,919 1024,911 1030,903 1035,895 1041,886 1046,876 1050,864 1053,852 1054,840 1055,828 1055,816 1055,803 1053,790 1051,775 1049,762 1046,749 1044,738 1043,728 1041,719 1040,711 1039,704 1038,697 1036,690 1033,684 1027,677 1028,672 1030,666 1032,660 1035,654 1038,648 1041,642 1044,636 1047,630 1050,624 1052,618 1054,613 1056,610Z" fill="#626262"/>
<path d="M856,662 858,661 860,660 862,658 865,656 868,654 871,652 874,650 878,648 882,646 886,644 889,642 893,640 896,639 900,638 903,637 907,636 910,635 913,634 917,633 921,633 926,634 932,634 937,635 942,639 947,642 950,644 953,647 957,649 959,652 962,655 964,657 966,659 967,661 968,663 969,666 970,669 971,671 972,675 972,678 973,682 973,686 974,691 974,696 974,700 974,705 974,709 974,712 974,716 973,719 973,723 972,726 972,730 971,733 970,737 968,741 966,747 964,754 961,761 958,768 956,772 954,776 951,778 949,780 945,782 942,785 939,788 936,792 934,795 932,797 929,800 925,803 921,806 917,809 914,814 910,817 906,819 903,821 900,823 897,824 894,826 891,828 888,830 884,831 882,833 880,834 880,834 882,833 884,831 888,830 891,828 894,826 897,824 900,823 903,821 906,819 910,817 914,814 920,815 926,813 931,811 935,808 939,805 942,802 945,799 948,796 950,794 953,792 956,790 959,787 963,784 966,779 969,773 972,766 975,758 978,751 980,745 981,741 983,736 984,733 985,729 986,725 986,721 986,717 987,713 987,709 987,705 987,700 986,695 986,690 986,685 985,680 984,676 983,672 982,668 981,665 980,661 978,658 976,655 974,652 972,650 969,647 966,644 963,642 959,639 954,637 949,635 944,635 937,635 932,634 926,634 921,633 917,633 913,634 910,635 907,636 903,637 900,638 896,639 893,640 889,642 886,644 882,646 878,648 874,650 871,652 868,654 865,656 862,658 860,660 858,661 856,662Z" fill="#666666"/>
<path d="M1056,610 1054,613 1052,618 1050,624 1047,630 1044,636 1041,642 1038,648 1035,654 1032,660 1030,666 1028,672 1027,677 1025,683 1018,688 1013,695 1011,703 1009,712 1009,721 1008,731 1008,742 1009,754 1010,767 1011,781 1012,793 1013,805 1012,815 1011,825 1010,834 1008,843 1005,850 1003,856 999,862 995,869 990,875 985,881 981,886 977,891 972,896 966,901 960,908 954,916 948,924 943,931 939,938 936,942 976,970 979,966 984,959 989,952 994,945 998,940 1002,935 1006,930 1012,925 1018,918 1024,911 1029,903 1034,895 1040,886 1045,875 1049,864 1052,852 1053,840 1054,828 1054,816 1053,803 1052,790 1050,776 1047,762 1045,749 1043,738 1041,729 1040,720 1038,711 1037,704 1035,697 1031,690 1025,683 1027,677 1028,672 1030,666 1032,660 1035,654 1038,648 1041,642 1044,636 1047,630 1050,624 1052,618 1054,613 1056,610Z" fill="#666666"/>
<path d="M856,662 858,661 860,660 862,658 865,656 868,654 871,652 874,650 878,648 882,646 886,644 889,642 893,640 896,639 900,638 903,637 907,636 910,635 913,634 917,633 921,633 926,634 932,634 937,635 943,637 948,638 950,644 954,646 957,649 960,652 962,654 964,657 966,659 967,661 968,663 969,666 970,668 971,671 972,675 972,678 973,682 973,686 974,691 974,696 974,700 974,705 974,709 974,712 974,716 973,719 973,723 972,726 972,730 971,733 970,737 968,741 966,747 964,754 961,761 958,768 956,772 954,776 951,778 949,780 945,782 942,785 939,789 937,792 934,795 932,797 929,800 926,803 922,806 918,810 914,814 910,817 906,819 903,821 900,823 897,824 894,826 891,828 888,830 884,831 882,833 880,834 880,834 882,833 884,831 888,830 891,828 894,826 897,824 900,823 903,821 906,819 910,817 914,814 920,814 925,813 930,811 935,808 939,805 942,802 945,799 947,796 950,794 953,791 955,789 959,787 963,783 966,779 969,773 972,766 975,758 978,751 980,745 981,741 983,736 984,733 985,729 985,725 986,721 986,717 987,713 987,709 987,705 987,700 986,695 986,690 986,685 985,680 984,676 983,672 982,668 981,665 980,661 978,658 976,655 974,652 972,650 969,647 966,645 962,642 958,639 954,637 948,638 943,637 937,635 932,634 926,634 921,633 917,633 913,634 910,635 907,636 903,637 900,638 896,639 893,640 889,642 886,644 882,646 878,648 874,650 871,652 868,654 865,656 862,658 860,660 858,661 856,662Z" fill="#6a6a6a"/>
<path d="M1056,610 1054,613 1052,618 1050,624 1047,630 1044,636 1041,642 1038,648 1035,654 1032,660 1030,666 1028,672 1027,677 1025,683 1025,689 1024,696 1015,703 1012,712 1011,721 1010,731 1010,741 1010,754 1012,767 1013,781 1014,793 1014,805 1013,815 1012,825 1010,835 1009,843 1006,850 1003,857 1000,863 995,869 991,876 986,882 982,887 977,891 972,896 966,902 960,909 954,916 949,924 943,932 939,938 936,942 976,970 979,965 983,959 988,952 993,945 997,939 1001,935 1006,930 1011,924 1017,918 1023,910 1029,903 1034,895 1039,885 1044,875 1048,864 1051,852 1052,840 1053,828 1053,816 1052,803 1051,790 1048,776 1046,762 1043,750 1041,739 1039,729 1037,720 1035,711 1033,704 1024,696 1025,689 1025,683 1027,677 1028,672 1030,666 1032,660 1035,654 1038,648 1041,642 1044,636 1047,630 1050,624 1052,618 1054,613 1056,610Z" fill="#6a6a6a"/>
<path d="M856,662 858,661 860,660 862,658 865,656 868,654 871,652 874,650 878,648 882,646 886,644 889,642 893,640 896,639 900,638 903,637 907,636 910,635 913,634 917,633 921,633 926,634 932,634 937,635 943,637 948,638 951,643 954,646 957,649 960,652 962,654 964,657 966,659 967,661 968,663 969,666 970,668 971,671 972,675 973,678 973,682 974,686 974,691 974,696 974,700 974,705 974,709 974,712 974,716 974,719 973,723 973,726 972,730 971,733 970,737 968,741 966,747 964,754 961,761 959,768 956,773 954,776 951,778 949,780 946,782 942,785 939,789 937,792 934,795 932,798 929,800 926,803 922,807 919,812 914,814 910,817 906,819 903,821 900,823 897,824 894,826 891,828 888,830 884,831 882,833 880,834 880,834 882,833 884,831 888,830 891,828 894,826 897,824 900,823 903,821 906,819 910,817 914,814 919,812 925,812 930,810 935,808 939,805 942,802 945,799 947,796 950,793 952,791 955,789 959,787 962,783 966,779 969,773 972,766 975,758 978,751 980,745 981,741 983,736 984,733 985,729 985,725 986,721 986,717 986,713 987,709 987,705 986,700 986,695 986,690 985,685 985,680 984,676 983,672 982,668 981,665 979,661 978,658 976,655 974,652 972,650 969,647 966,645 962,642 958,640 953,638 948,638 943,637 937,635 932,634 926,634 921,633 917,633 913,634 910,635 907,636 903,637 900,638 896,639 893,640 889,642 886,644 882,646 878,648 874,650 871,652 868,654 865,656 862,658 860,660 858,661 856,662Z" fill="#6e6e6e"/>
<path d="M1056,610 1054,613 1052,618 1050,624 1047,630 1044,636 1041,642 1038,648 1035,654 1032,660 1030,666 1028,672 1027,677 1025,683 1025,689 1024,696 1024,704 1018,712 1014,721 1013,731 1012,741 1012,754 1013,767 1014,780 1015,793 1015,805 1014,815 1013,825 1012,835 1010,843 1007,851 1004,857 1001,863 996,870 991,876 986,882 982,887 978,892 973,897 967,902 961,909 955,917 949,925 944,932 940,938 937,943 975,969 978,965 983,959 988,952 993,945 997,939 1001,934 1005,929 1011,924 1017,917 1023,910 1028,902 1033,894 1039,885 1043,875 1047,863 1050,852 1051,840 1052,828 1052,816 1051,803 1049,790 1047,776 1044,762 1041,750 1039,739 1036,729 1034,720 1030,712 1024,704 1024,696 1025,689 1025,683 1027,677 1028,672 1030,666 1032,660 1035,654 1038,648 1041,642 1044,636 1047,630 1050,624 1052,618 1054,613 1056,610Z" fill="#6e6e6e"/>
<path d="M856,662 858,661 860,660 862,658 865,656 868,654 871,652 874,650 878,648 882,646 886,644 889,642 893,640 896,639 900,638 903,637 907,636 910,635 913,634 917,633 921,633 926,634 932,634 937,635 943,637 948,638 952,640 954,645 957,648 960,651 962,654 964,656 966,659 967,661 968,663 969,666 970,668 971,671 972,675 973,678 973,682 974,686 974,691 974,696 974,700 974,705 974,709 974,712 974,716 974,719 973,723 973,726 972,730 971,733 970,737 969,742 966,747 964,754 961,761 959,768 956,773 954,776 951,778 949,780 946,783 942,786 939,789 937,792 935,795 932,798 929,801 926,804 923,809 919,812 914,814 910,817 906,819 903,821 900,823 897,824 894,826 891,828 888,830 884,831 882,833 880,834 880,834 882,833 884,831 888,830 891,828 894,826 897,824 900,823 903,821 906,819 910,817 914,814 919,812 923,809 930,810 935,807 938,805 942,802 945,799 947,796 950,793 952,791 955,789 959,787 962,783 966,779 969,773 972,766 975,758 977,751 979,745 981,741 983,736 984,733 984,729 985,725 986,721 986,717 986,713 986,709 986,705 986,700 986,695 986,690 985,685 985,680 984,676 983,672 982,668 981,665 979,661 978,658 976,655 974,653 972,650 969,648 966,645 962,642 958,640 952,640 948,638 943,637 937,635 932,634 926,634 921,633 917,633 913,634 910,635 907,636 903,637 900,638 896,639 893,640 889,642 886,644 882,646 878,648 874,650 871,652 868,654 865,656 862,658 860,660 858,661 856,662Z" fill="#737373"/>
<path d="M1056,610 1054,613 1052,618 1050,624 1047,630 1044,636 1041,642 1038,648 1035,654 1032,660 1030,666 1028,672 1027,677 1025,683 1025,689 1024,696 1024,704 1024,712 1024,720 1017,730 1015,741 1015,753 1015,767 1016,780 1017,793 1017,804 1016,815 1014,825 1013,835 1011,843 1008,851 1005,857 1001,864 997,870 992,876 987,883 983,888 978,892 973,897 967,903 961,910 955,917 950,925 945,932 940,939 937,943 975,969 978,965 982,958 987,951 992,944 996,938 1000,934 1005,929 1010,923 1016,917 1022,909 1027,902 1033,894 1038,885 1043,874 1046,863 1049,852 1050,840 1051,828 1050,816 1049,804 1048,790 1045,776 1042,763 1039,750 1036,739 1032,729 1024,720 1024,712 1024,704 1024,696 1025,689 1025,683 1027,677 1028,672 1030,666 1032,660 1035,654 1038,648 1041,642 1044,636 1047,630 1050,624 1052,618 1054,613 1056,610Z" fill="#737373"/>
<path d="M856,662 858,661 860,660 862,658 865,656 868,654 871,652 874,650 878,648 882,646 886,644 889,642 893,640 896,639 900,638 903,637 907,636 910,635 913,634 917,633 921,633 926,634 932,634 937,635 943,637 948,638 952,640 956,643 958,648 960,651 963,654 965,656 966,658 967,661 968,663 970,665 971,668 971,671 972,675 973,678 973,682 974,686 974,691 974,696 974,700 974,705 974,709 974,712 974,716 974,719 973,723 973,727 972,730 971,733 970,737 969,742 967,747 964,754 961,761 959,768 956,773 954,776 952,778 949,780 946,783 942,786 940,789 937,792 935,795 932,798 930,801 927,805 923,809 919,812 914,814 910,817 906,819 903,821 900,823 897,824 894,826 891,828 888,830 884,831 882,833 880,834 880,834 882,833 884,831 888,830 891,828 894,826 897,824 900,823 903,821 906,819 910,817 914,814 919,812 923,809 929,809 934,807 938,804 942,801 944,798 947,796 950,793 952,791 955,789 959,787 962,783 966,779 969,773 972,766 975,758 977,751 979,745 981,740 982,736 984,733 984,729 985,725 986,721 986,717 986,713 986,709 986,705 986,700 986,695 986,690 985,685 985,680 984,676 983,672 982,668 981,665 979,661 978,658 976,655 974,653 971,650 969,648 965,645 962,643 956,643 952,640 948,638 943,637 937,635 932,634 926,634 921,633 917,633 913,634 910,635 907,636 903,637 900,638 896,639 893,640 889,642 886,644 882,646 878,648 874,650 871,652 868,654 865,656 862,658 860,660 858,661 856,662Z" fill="#777777"/>
<path d="M1056,610 1054,613 1052,618 1050,624 1047,630 1044,636 1041,642 1038,648 1035,654 1032,660 1030,666 1028,672 1027,677 1025,683 1025,689 1024,696 1024,704 1024,712 1024,720 1025,730 1025,740 1018,753 1018,766 1018,780 1019,793 1018,804 1017,815 1015,825 1014,835 1012,844 1009,851 1006,858 1002,864 997,870 992,877 988,883 983,888 979,893 974,898 968,903 962,910 956,917 950,925 945,933 941,939 938,943 974,969 977,964 982,958 986,951 991,944 996,938 1000,933 1005,929 1010,923 1016,916 1022,909 1027,901 1032,893 1037,884 1042,874 1045,863 1048,851 1049,840 1049,828 1049,816 1048,804 1046,790 1043,777 1039,763 1035,751 1025,740 1025,730 1024,720 1024,712 1024,704 1024,696 1025,689 1025,683 1027,677 1028,672 1030,666 1032,660 1035,654 1038,648 1041,642 1044,636 1047,630 1050,624 1052,618 1054,613 1056,610Z" fill="#777777"/>
<path d="M856,662 858,661 860,660 862,658 865,656 868,654 871,652 874,650 878,648 882,646 886,644 889,642 893,640 896,639 900,638 903,637 907,636 910,635 913,634 917,633 921,633 926,634 932,634 937,635 943,637 948,638 952,640 956,643 958,647 960,651 963,654 965,656 966,658 968,661 969,663 970,665 971,668 972,671 972,675 973,678 973,682 974,686 974,691 974,696 974,700 974,705 974,709 974,712 974,716 974,719 973,723 973,727 972,730 971,733 970,737 969,742 967,747 964,754 962,761 959,768 956,773 954,776 952,778 949,780 946,783 943,786 940,789 937,792 935,795 933,798 930,801 928,807 923,809 919,812 914,814 910,817 906,819 903,821 900,823 897,824 894,826 891,828 888,830 884,831 882,833 880,834 880,834 882,833 884,831 888,830 891,828 894,826 897,824 900,823 903,821 906,819 910,817 914,814 919,812 923,809 928,807 934,807 938,804 941,801 944,798 947,795 949,793 952,791 955,789 959,786 962,783 966,778 969,772 972,765 975,758 977,751 979,745 981,740 982,736 983,733 984,729 985,725 986,721 986,717 986,713 986,709 986,705 986,700 986,695 986,690 985,685 985,680 984,676 983,672 982,668 981,665 979,661 977,658 976,655 974,653 971,650 968,648 965,646 961,644 956,643 952,640 948,638 943,637 937,635 932,634 926,634 921,633 917,633 913,634 910,635 907,636 903,637 900,638 896,639 893,640 889,642 886,644 882,646 878,648 874,650 871,652 868,654 865,656 862,658 860,660 858,661 856,662Z" fill="#7b7b7b"/>
<path d="M1056,610 1054,613 1052,618 1050,624 1047,630 1044,636 1041,642 1038,648 1035,654 1032,660 1030,666 1028,672 1027,677 1025,683 1025,689 1024,696 1024,704 1024,712 1024,720 1025,730 1025,740 1027,752 1023,766 1021,779 1021,793 1020,804 1019,815 1017,826 1015,835 1013,844 1010,852 1007,858 1003,864 998,871 993,877 988,883 984,889 979,893 974,898 968,904 962,910 956,918 951,926 946,933 941,939 938,944 974,968 977,964 981,958 986,950 991,943 995,938 999,933 1004,928 1009,923 1015,916 1021,909 1026,901 1031,893 1036,884 1041,874 1044,862 1047,851 1048,840 1048,828 1047,816 1046,804 1043,791 1040,777 1034,764 1027,752 1025,740 1025,730 1024,720 1024,712 1024,704 1024,696 1025,689 1025,683 1027,677 1028,672 1030,666 1032,660 1035,654 1038,648 1041,642 1044,636 1047,630 1050,624 1052,618 1054,613 1056,610Z" fill="#7b7b7b"/>
<path d="M856,662 858,661 860,660 862,658 865,656 868,654 871,652 874,650 878,648 882,646 886,644 889,642 893,640 896,639 900,638 903,637 907,636 910,635 913,634 917,633 921,633 926,634 932,634 937,635 943,637 948,638 952,640 956,643 960,645 961,650 963,653 965,656 966,658 968,660 969,663 970,665 971,668 972,671 972,675 973,678 974,682 974,686 974,691 974,696 975,700 975,705 975,709 974,712 974,716 974,720 973,723 973,727 972,730 971,733 970,737 969,742 967,747 964,754 962,761 959,768 956,773 954,776 952,778 949,781 946,783 943,786 940,789 937,792 935,796 933,799 932,804 928,807 923,809 919,812 914,814 910,817 906,819 903,821 900,823 897,824 894,826 891,828 888,830 884,831 882,833 880,834 880,834 882,833 884,831 888,830 891,828 894,826 897,824 900,823 903,821 906,819 910,817 914,814 919,812 923,809 928,807 932,804 938,804 941,801 944,798 947,795 949,793 952,791 955,789 958,786 962,783 966,778 969,772 972,765 975,758 977,751 979,745 981,740 982,736 983,732 984,729 985,725 986,721 986,717 986,713 986,709 986,705 986,700 986,695 986,690 985,685 984,680 984,676 983,672 982,668 980,665 979,661 977,658 976,656 973,653 971,650 968,648 965,646 960,645 956,643 952,640 948,638 943,637 937,635 932,634 926,634 921,633 917,633 913,634 910,635 907,636 903,637 900,638 896,639 893,640 889,642 886,644 882,646 878,648 874,650 871,652 868,654 865,656 862,658 860,660 858,661 856,662Z" fill="#808080"/>
<path d="M1056,610 1054,613 1052,618 1050,624 1047,630 1044,636 1041,642 1038,648 1035,654 1032,660 1030,666 1028,672 1027,677 1025,683 1025,689 1024,696 1024,704 1024,712 1024,720 1025,730 1025,740 1027,752 1029,765 1031,778 1025,792 1023,804 1021,815 1018,826 1016,835 1014,844 1011,852 1007,859 1003,865 999,871 994,878 989,884 984,889 980,894 975,898 969,904 963,911 957,918 951,926 946,933 942,940 939,944 973,968 976,963 981,957 985,950 990,943 995,937 999,932 1004,928 1009,922 1015,915 1021,908 1026,901 1031,892 1036,883 1040,873 1043,862 1046,851 1047,839 1046,828 1045,816 1043,804 1039,791 1031,778 1029,765 1027,752 1025,740 1025,730 1024,720 1024,712 1024,704 1024,696 1025,689 1025,683 1027,677 1028,672 1030,666 1032,660 1035,654 1038,648 1041,642 1044,636 1047,630 1050,624 1052,618 1054,613 1056,610Z" fill="#808080"/>
<path d="M856,662 858,661 860,660 862,658 865,656 868,654 871,652 874,650 878,648 882,646 886,644 889,642 893,640 896,639 900,638 903,637 907,636 910,635 913,634 917,633 921,633 926,634 932,634 937,635 943,637 948,638 952,640 956,643 960,645 963,648 964,653 965,656 967,658 968,660 969,663 970,665 971,668 972,671 973,675 973,678 974,682 974,686 974,691 975,696 975,700 975,705 975,709 975,712 974,716 974,720 974,723 973,727 972,730 972,733 970,737 969,742 967,748 964,754 962,761 959,768 957,773 954,776 952,779 949,781 946,783 943,786 940,789 938,793 936,796 934,800 932,804 928,807 923,809 919,812 914,814 910,817 906,819 903,821 900,823 897,824 894,826 891,828 888,830 884,831 882,833 880,834 880,834 882,833 884,831 888,830 891,828 894,826 897,824 900,823 903,821 906,819 910,817 914,814 919,812 923,809 928,807 932,804 937,803 941,801 944,798 946,795 949,793 952,791 955,789 958,786 962,783 965,778 969,772 972,765 974,758 977,751 979,745 981,740 982,736 983,732 984,729 985,725 985,721 986,717 986,713 986,709 986,705 986,700 986,695 985,690 985,685 984,680 984,676 983,672 982,668 980,665 979,661 977,658 975,656 973,653 971,651 968,649 963,648 960,645 956,643 952,640 948,638 943,637 937,635 932,634 926,634 921,633 917,633 913,634 910,635 907,636 903,637 900,638 896,639 893,640 889,642 886,644 882,646 878,648 874,650 871,652 868,654 865,656 862,658 860,660 858,661 856,662Z" fill="#848484"/>
<path d="M1056,610 1054,613 1052,618 1050,624 1047,630 1044,636 1041,642 1038,648 1035,654 1032,660 1030,666 1028,672 1027,677 1025,683 1025,689 1024,696 1024,704 1024,712 1024,720 1025,730 1025,740 1027,752 1029,765 1031,778 1032,792 1033,804 1023,815 1020,826 1018,836 1015,844 1012,852 1008,859 1004,865 999,872 994,878 989,884 985,889 980,894 975,899 969,905 963,911 957,919 952,926 947,934 942,940 939,945 973,967 976,963 980,957 985,950 990,943 994,937 998,932 1003,927 1008,922 1014,915 1020,908 1025,900 1030,892 1035,883 1039,873 1042,862 1044,851 1045,839 1045,828 1043,816 1033,804 1032,792 1031,778 1029,765 1027,752 1025,740 1025,730 1024,720 1024,712 1024,704 1024,696 1025,689 1025,683 1027,677 1028,672 1030,666 1032,660 1035,654 1038,648 1041,642 1044,636 1047,630 1050,624 1052,618 1054,613 1056,610Z" fill="#848484"/>
<path d="M856,662 858,661 860,660 862,658 865,656 868,654 871,652 874,650 878,648 882,646 886,644 889,642 893,640 896,639 900,638 903,637 907,636 910,635 913,634 917,633 921,633 926,634 932,634 937,635 943,637 948,638 952,640 956,643 960,645 963,648 966,651 966,655 967,658 968,660 969,663 970,665 971,668 972,671 973,675 973,678 974,682 974,686 975,691 975,695 975,700 975,705 975,709 975,712 974,716 974,720 974,723 973,727 972,730 972,733 971,737 969,742 967,748 965,754 962,762 959,768 957,773 954,776 952,779 949,781 946,783 943,786 940,790 938,793 936,797 935,801 932,804 928,807 923,809 919,812 914,814 910,817 906,819 903,821 900,823 897,824 894,826 891,828 888,830 884,831 882,833 880,834 880,834 882,833 884,831 888,830 891,828 894,826 897,824 900,823 903,821 906,819 910,817 914,814 919,812 923,809 928,807 932,804 935,801 940,800 943,798 946,795 949,792 952,790 955,788 958,786 962,783 965,778 968,772 971,765 974,758 977,751 979,745 981,740 982,736 983,732 984,729 985,725 985,721 986,717 986,713 986,709 986,705 986,700 986,695 985,690 985,685 984,680 983,676 983,672 981,669 980,665 979,662 977,659 975,656 973,653 970,651 966,651 963,648 960,645 956,643 952,640 948,638 943,637 937,635 932,634 926,634 921,633 917,633 913,634 910,635 907,636 903,637 900,638 896,639 893,640 889,642 886,644 882,646 878,648 874,650 871,652 868,654 865,656 862,658 860,660 858,661 856,662Z" fill="#888888"/>
<path d="M1056,610 1054,613 1052,618 1050,624 1047,630 1044,636 1041,642 1038,648 1035,654 1032,660 1030,666 1028,672 1027,677 1025,683 1025,689 1024,696 1024,704 1024,712 1024,720 1025,730 1025,740 1027,752 1029,765 1031,778 1032,792 1033,804 1033,816 1023,826 1020,836 1016,845 1013,853 1009,859 1005,866 1000,872 995,879 990,885 985,890 981,895 976,899 970,905 964,912 958,919 952,927 947,934 943,941 940,945 972,967 975,963 979,956 984,949 989,942 994,936 998,932 1003,927 1008,921 1014,915 1019,907 1024,900 1029,891 1034,882 1038,872 1041,861 1043,850 1043,839 1042,827 1033,816 1033,804 1032,792 1031,778 1029,765 1027,752 1025,740 1025,730 1024,720 1024,712 1024,704 1024,696 1025,689 1025,683 1027,677 1028,672 1030,666 1032,660 1035,654 1038,648 1041,642 1044,636 1047,630 1050,624 1052,618 1054,613 1056,610Z" fill="#888888"/>
<path d="M856,662 858,661 860,660 862,658 865,656 868,654 871,652 874,650 878,648 882,646 886,644 889,642 893,640 896,639 900,638 903,637 907,636 910,635 913,634 917,633 921,633 926,634 932,634 937,635 943,637 948,638 952,640 956,643 960,645 963,648 966,651 966,655 967,658 968,660 969,662 970,665 971,668 972,671 973,675 973,678 974,682 974,686 975,691 975,695 975,700 975,705 975,709 975,712 975,716 974,720 974,723 973,727 973,730 972,733 971,737 969,742 967,748 965,754 962,762 959,768 957,773 955,776 952,779 949,781 946,784 943,787 941,790 939,794 938,798 935,801 932,804 928,807 923,809 919,812 914,814 910,817 906,819 903,821 900,823 897,824 894,826 891,828 888,830 884,831 882,833 880,834 880,834 882,833 884,831 888,830 891,828 894,826 897,824 900,823 903,821 906,819 910,817 914,814 919,812 923,809 928,807 932,804 935,801 938,798 943,797 946,795 949,792 952,790 955,788 958,786 962,783 965,778 968,772 971,765 974,758 977,751 979,745 981,740 982,736 983,732 984,729 985,725 985,721 986,717 986,713 986,709 986,705 986,700 986,695 985,690 985,685 984,680 983,676 982,672 981,669 980,665 979,662 977,659 975,656 973,653 970,651 966,651 963,648 960,645 956,643 952,640 948,638 943,637 937,635 932,634 926,634 921,633 917,633 913,634 910,635 907,636 903,637 900,638 896,639 893,640 889,642 886,644 882,646 878,648 874,650 871,652 868,654 865,656 862,658 860,660 858,661 856,662Z" fill="#8c8c8c"/>
<path d="M1056,610 1054,613 1052,618 1050,624 1047,630 1044,636 1041,642 1038,648 1035,654 1032,660 1030,666 1028,672 1027,677 1025,683 1025,689 1024,696 1024,704 1024,712 1024,720 1025,730 1025,740 1027,752 1029,765 1031,778 1032,792 1033,804 1033,816 1032,827 1022,836 1018,845 1015,853 1011,860 1006,866 1001,873 996,879 990,885 986,890 981,895 976,900 970,906 964,912 959,919 953,927 948,935 944,941 940,945 972,967 975,962 979,956 984,949 989,942 993,936 997,931 1002,926 1007,921 1013,914 1019,907 1024,899 1028,891 1033,882 1037,872 1040,861 1041,850 1041,839 1032,827 1033,816 1033,804 1032,792 1031,778 1029,765 1027,752 1025,740 1025,730 1024,720 1024,712 1024,704 1024,696 1025,689 1025,683 1027,677 1028,672 1030,666 1032,660 1035,654 1038,648 1041,642 1044,636 1047,630 1050,624 1052,618 1054,613 1056,610Z" fill="#8c8c8c"/>
<path d="M856,662 858,661 860,660 862,658 865,656 868,654 871,652 874,650 878,648 882,646 886,644 889,642 893,640 896,639 900,638 903,637 907,636 910,635 913,634 917,633 921,633 926,634 932,634 937,635 943,637 948,638 952,640 956,643 960,645 963,648 966,651 968,653 968,657 969,660 969,662 970,665 971,668 972,671 973,674 974,678 974,682 974,686 975,691 975,695 975,700 975,705 975,709 975,712 975,716 974,720 974,723 973,727 973,730 972,733 971,737 969,742 967,748 965,755 962,762 960,768 957,773 955,777 952,779 950,781 947,784 944,787 941,790 941,795 938,798 935,801 932,804 928,807 923,809 919,812 914,814 910,817 906,819 903,821 900,823 897,824 894,826 891,828 888,830 884,831 882,833 880,834 880,834 882,833 884,831 888,830 891,828 894,826 897,824 900,823 903,821 906,819 910,817 914,814 919,812 923,809 928,807 932,804 935,801 938,798 941,795 945,794 948,792 951,790 955,788 958,786 962,783 965,778 968,772 971,765 974,758 977,751 979,745 980,740 982,736 983,732 984,729 985,725 985,721 986,717 986,713 986,709 986,705 986,700 985,695 985,690 985,685 984,681 983,676 982,672 981,669 980,665 978,662 977,659 975,656 972,654 968,653 966,651 963,648 960,645 956,643 952,640 948,638 943,637 937,635 932,634 926,634 921,633 917,633 913,634 910,635 907,636 903,637 900,638 896,639 893,640 889,642 886,644 882,646 878,648 874,650 871,652 868,654 865,656 862,658 860,660 858,661 856,662Z" fill="#909090"/>
<path d="M1056,610 1054,613 1052,618 1050,624 1047,630 1044,636 1041,642 1038,648 1035,654 1032,660 1030,666 1028,672 1027,677 1025,683 1025,689 1024,696 1024,704 1024,712 1024,720 1025,730 1025,740 1027,752 1029,765 1031,778 1032,792 1033,804 1033,816 1032,827 1031,837 1021,846 1016,854 1012,860 1007,867 1002,873 996,880 991,886 987,891 982,896 977,901 971,906 965,912 959,920 954,928 948,935 944,941 941,946 971,966 974,962 978,956 983,949 988,941 993,936 997,931 1002,926 1007,920 1013,914 1018,906 1023,899 1028,890 1032,881 1036,871 1038,860 1039,849 1031,837 1032,827 1033,816 1033,804 1032,792 1031,778 1029,765 1027,752 1025,740 1025,730 1024,720 1024,712 1024,704 1024,696 1025,689 1025,683 1027,677 1028,672 1030,666 1032,660 1035,654 1038,648 1041,642 1044,636 1047,630 1050,624 1052,618 1054,613 1056,610Z" fill="#909090"/>
<path d="M856,662 858,661 860,660 862,658 865,656 868,654 871,652 874,650 878,648 882,646 886,644 889,642 893,640 896,639 900,638 903,637 907,636 910,635 913,634 917,633 921,633 926,634 932,634 937,635 943,637 948,638 952,640 956,643 960,645 963,648 966,651 968,653 968,657 969,660 970,662 971,665 972,668 972,671 973,674 974,678 974,682 975,686 975,691 975,695 975,700 975,705 975,709 975,712 975,716 974,720 974,723 973,727 973,730 972,733 971,737 969,742 967,748 965,755 962,762 960,768 957,773 955,777 952,779 950,782 947,784 944,787 943,792 941,795 938,798 935,801 932,804 928,807 923,809 919,812 914,814 910,817 906,819 903,821 900,823 897,824 894,826 891,828 888,830 884,831 882,833 880,834 880,834 882,833 884,831 888,830 891,828 894,826 897,824 900,823 903,821 906,819 910,817 914,814 919,812 923,809 928,807 932,804 935,801 938,798 941,795 943,792 948,792 951,790 954,788 958,786 961,782 965,778 968,772 971,765 974,758 976,751 979,745 980,740 982,736 983,732 984,729 984,725 985,721 985,717 986,713 986,709 986,705 986,700 985,695 985,690 984,685 984,681 983,676 982,672 981,669 980,665 978,662 976,659 974,656 971,654 968,653 966,651 963,648 960,645 956,643 952,640 948,638 943,637 937,635 932,634 926,634 921,633 917,633 913,634 910,635 907,636 903,637 900,638 896,639 893,640 889,642 886,644 882,646 878,648 874,650 871,652 868,654 865,656 862,658 860,660 858,661 856,662Z" fill="#959595"/>
<path d="M1056,610 1054,613 1052,618 1050,624 1047,630 1044,636 1041,642 1038,648 1035,654 1032,660 1030,666 1028,672 1027,677 1025,683 1025,689 1024,696 1024,704 1024,712 1024,720 1025,730 1025,740 1027,752 1029,765 1031,778 1032,792 1033,804 1033,816 1032,827 1031,837 1030,847 1019,854 1013,861 1008,868 1003,874 997,880 992,886 987,891 982,896 977,901 971,907 965,913 960,920 954,928 949,935 945,942 942,946 970,966 973,961 978,955 983,948 988,941 992,935 996,930 1001,925 1006,919 1012,913 1017,906 1022,898 1027,890 1031,881 1034,871 1036,860 1030,847 1031,837 1032,827 1033,816 1033,804 1032,792 1031,778 1029,765 1027,752 1025,740 1025,730 1024,720 1024,712 1024,704 1024,696 1025,689 1025,683 1027,677 1028,672 1030,666 1032,660 1035,654 1038,648 1041,642 1044,636 1047,630 1050,624 1052,618 1054,613 1056,610Z" fill="#959595"/>
<path d="M856,662 858,661 860,660 862,658 865,656 868,654 871,652 874,650 878,648 882,646 886,644 889,642 893,640 896,639 900,638 903,637 907,636 910,635 913,634 917,633 921,633 926,634 932,634 937,635 943,637 948,638 952,640 956,643 960,645 963,648 966,651 968,653 970,656 969,659 970,662 971,665 972,668 973,671 973,674 974,678 974,682 975,686 975,691 975,695 975,700 975,705 975,709 975,712 975,716 975,720 974,723 973,727 973,730 972,733 971,737 970,742 968,748 965,755 963,762 960,768 957,773 955,777 953,779 950,782 947,784 946,789 943,792 941,795 938,798 935,801 932,804 928,807 923,809 919,812 914,814 910,817 906,819 903,821 900,823 897,824 894,826 891,828 888,830 884,831 882,833 880,834 880,834 882,833 884,831 888,830 891,828 894,826 897,824 900,823 903,821 906,819 910,817 914,814 919,812 923,809 928,807 932,804 935,801 938,798 941,795 943,792 946,789 951,789 954,788 958,785 961,782 965,778 968,772 971,765 974,758 976,751 978,745 980,740 982,736 983,732 984,729 984,725 985,721 985,717 986,713 986,709 986,705 985,700 985,695 985,690 984,685 984,681 983,676 982,672 981,669 979,665 978,662 976,659 974,657 970,656 968,653 966,651 963,648 960,645 956,643 952,640 948,638 943,637 937,635 932,634 926,634 921,633 917,633 913,634 910,635 907,636 903,637 900,638 896,639 893,640 889,642 886,644 882,646 878,648 874,650 871,652 868,654 865,656 862,658 860,660 858,661 856,662Z" fill="#999999"/>
<path d="M1056,610 1054,613 1052,618 1050,624 1047,630 1044,636 1041,642 1038,648 1035,654 1032,660 1030,666 1028,672 1027,677 1025,683 1025,689 1024,696 1024,704 1024,712 1024,720 1025,730 1025,740 1027,752 1029,765 1031,778 1032,792 1033,804 1033,816 1032,827 1031,837 1030,847 1027,857 1015,862 1009,868 1004,875 998,881 992,887 988,892 983,897 978,902 972,907 966,913 960,921 955,928 950,936 945,942 942,947 970,965 973,961 977,955 982,948 987,941 992,935 996,929 1000,924 1006,919 1011,912 1017,905 1021,897 1026,889 1030,880 1032,870 1027,857 1030,847 1031,837 1032,827 1033,816 1033,804 1032,792 1031,778 1029,765 1027,752 1025,740 1025,730 1024,720 1024,712 1024,704 1024,696 1025,689 1025,683 1027,677 1028,672 1030,666 1032,660 1035,654 1038,648 1041,642 1044,636 1047,630 1050,624 1052,618 1054,613 1056,610Z" fill="#999999"/>
<path d="M856,662 858,661 860,660 862,658 865,656 868,654 871,652 874,650 878,648 882,646 886,644 889,642 893,640 896,639 900,638 903,637 907,636 910,635 913,634 917,633 921,633 926,634 932,634 937,635 943,637 948,638 952,640 956,643 960,645 963,648 966,651 968,653 970,656 972,658 970,662 971,665 972,668 973,671 973,674 974,678 974,682 975,686 975,691 975,695 975,700 975,705 975,709 975,712 975,716 975,720 974,723 974,727 973,730 972,733 971,737 970,742 968,748 965,755 963,762 960,768 957,773 955,777 953,780 950,782 948,785 946,789 943,792 941,795 938,798 935,801 932,804 928,807 923,809 919,812 914,814 910,817 906,819 903,821 900,823 897,824 894,826 891,828 888,830 884,831 882,833 880,834 880,834 882,833 884,831 888,830 891,828 894,826 897,824 900,823 903,821 906,819 910,817 914,814 919,812 923,809 928,807 932,804 935,801 938,798 941,795 943,792 946,789 950,788 954,787 957,785 961,782 965,778 968,772 971,765 974,758 976,751 978,745 980,740 981,736 983,732 983,729 984,725 985,721 985,717 985,713 986,709 986,705 985,700 985,695 985,690 984,685 984,681 983,676 982,672 981,669 979,665 978,662 976,659 972,658 970,656 968,653 966,651 963,648 960,645 956,643 952,640 948,638 943,637 937,635 932,634 926,634 921,633 917,633 913,634 910,635 907,636 903,637 900,638 896,639 893,640 889,642 886,644 882,646 878,648 874,650 871,652 868,654 865,656 862,658 860,660 858,661 856,662Z" fill="#9d9d9d"/>
<path d="M1056,610 1054,613 1052,618 1050,624 1047,630 1044,636 1041,642 1038,648 1035,654 1032,660 1030,666 1028,672 1027,677 1025,683 1025,689 1024,696 1024,704 1024,712 1024,720 1025,730 1025,740 1027,752 1029,765 1031,778 1032,792 1033,804 1033,816 1032,827 1031,837 1030,847 1027,857 1019,864 1011,869 1005,875 999,882 993,887 989,893 984,897 978,902 973,908 967,914 961,921 955,929 950,936 946,943 943,947 969,965 972,961 976,954 981,947 986,940 991,934 995,929 1000,924 1005,918 1011,912 1016,905 1020,897 1024,888 1028,879 1028,868 1027,857 1030,847 1031,837 1032,827 1033,816 1033,804 1032,792 1031,778 1029,765 1027,752 1025,740 1025,730 1024,720 1024,712 1024,704 1024,696 1025,689 1025,683 1027,677 1028,672 1030,666 1032,660 1035,654 1038,648 1041,642 1044,636 1047,630 1050,624 1052,618 1054,613 1056,610Z" fill="#9d9d9d"/>
<path d="M856,662 858,661 860,660 862,658 865,656 868,654 871,652 874,650 878,648 882,646 886,644 889,642 893,640 896,639 900,638 903,637 907,636 910,635 913,634 917,633 921,633 926,634 932,634 937,635 943,637 948,638 952,640 956,643 960,645 963,648 966,651 968,653 970,656 972,658 971,662 971,665 972,668 973,671 974,674 974,678 975,682 975,686 975,691 975,695 975,700 975,705 975,709 975,712 975,716 975,720 974,723 974,727 973,730 972,733 971,737 970,742 968,748 965,755 963,762 960,768 958,774 955,777 953,780 951,783 949,787 946,789 943,792 941,795 938,798 935,801 932,804 928,807 923,809 919,812 914,814 910,817 906,819 903,821 900,823 897,824 894,826 891,828 888,830 884,831 882,833 880,834 880,834 882,833 884,831 888,830 891,828 894,826 897,824 900,823 903,821 906,819 910,817 914,814 919,812 923,809 928,807 932,804 935,801 938,798 941,795 943,792 946,789 949,787 953,787 957,785 961,782 964,778 968,772 971,765 973,758 976,751 978,745 980,740 981,736 982,732 983,729 984,725 985,721 985,717 985,713 985,709 985,705 985,700 985,695 985,690 984,685 983,681 983,676 982,673 980,669 979,665 977,662 975,660 972,658 970,656 968,653 966,651 963,648 960,645 956,643 952,640 948,638 943,637 937,635 932,634 926,634 921,633 917,633 913,634 910,635 907,636 903,637 900,638 896,639 893,640 889,642 886,644 882,646 878,648 874,650 871,652 868,654 865,656 862,658 860,660 858,661 856,662Z" fill="#a2a2a2"/>
<path d="M1056,610 1054,613 1052,618 1050,624 1047,630 1044,636 1041,642 1038,648 1035,654 1032,660 1030,666 1028,672 1027,677 1025,683 1025,689 1024,696 1024,704 1024,712 1024,720 1025,730 1025,740 1027,752 1029,765 1031,778 1032,792 1033,804 1033,816 1032,827 1031,837 1030,847 1027,857 1024,866 1014,871 1006,876 1000,882 994,888 989,893 984,898 979,903 973,908 967,915 962,922 956,929 951,937 947,943 944,948 968,964 971,960 976,954 981,947 986,940 990,933 994,928 999,923 1004,918 1010,911 1015,904 1019,896 1023,887 1025,877 1024,866 1027,857 1030,847 1031,837 1032,827 1033,816 1033,804 1032,792 1031,778 1029,765 1027,752 1025,740 1025,730 1024,720 1024,712 1024,704 1024,696 1025,689 1025,683 1027,677 1028,672 1030,666 1032,660 1035,654 1038,648 1041,642 1044,636 1047,630 1050,624 1052,618 1054,613 1056,610Z" fill="#a2a2a2"/>
<path d="M856,662 858,661 860,660 862,658 865,656 868,654 871,652 874,650 878,648 882,646 886,644 889,642 893,640 896,639 900,638 903,637 907,636 910,635 913,634 917,633 921,633 926,634 932,634 937,635 943,637 948,638 952,640 956,643 960,645 963,648 966,651 968,653 970,656 972,658 973,661 972,664 973,668 973,671 974,674 974,678 975,682 975,686 975,691 975,695 976,700 975,705 975,709 975,712 975,716 975,720 974,723 974,727 973,730 972,733 971,737 970,742 968,748 966,755 963,762 960,769 958,774 956,777 953,781 952,785 949,787 946,789 943,792 941,795 938,798 935,801 932,804 928,807 923,809 919,812 914,814 910,817 906,819 903,821 900,823 897,824 894,826 891,828 888,830 884,831 882,833 880,834 880,834 882,833 884,831 888,830 891,828 894,826 897,824 900,823 903,821 906,819 910,817 914,814 919,812 923,809 928,807 932,804 935,801 938,798 941,795 943,792 946,789 949,787 952,785 957,784 961,782 964,777 967,772 970,765 973,758 976,751 978,745 980,740 981,736 982,732 983,729 984,725 985,721 985,717 985,713 985,709 985,705 985,700 985,695 984,690 984,685 983,681 982,676 981,673 980,669 979,665 977,662 973,661 972,658 970,656 968,653 966,651 963,648 960,645 956,643 952,640 948,638 943,637 937,635 932,634 926,634 921,633 917,633 913,634 910,635 907,636 903,637 900,638 896,639 893,640 889,642 886,644 882,646 878,648 874,650 871,652 868,654 865,656 862,658 860,660 858,661 856,662Z" fill="#a6a6a6"/>
<path d="M1056,610 1054,613 1052,618 1050,624 1047,630 1044,636 1041,642 1038,648 1035,654 1032,660 1030,666 1028,672 1027,677 1025,683 1025,689 1024,696 1024,704 1024,712 1024,720 1025,730 1025,740 1027,752 1029,765 1031,778 1032,792 1033,804 1033,816 1032,827 1031,837 1030,847 1027,857 1024,866 1020,874 1009,878 1001,883 995,889 990,894 985,899 980,904 974,909 968,915 963,922 957,930 952,937 948,944 945,948 967,964 971,959 975,953 980,946 985,939 990,933 994,928 998,922 1003,917 1009,910 1014,903 1018,895 1020,886 1020,874 1024,866 1027,857 1030,847 1031,837 1032,827 1033,816 1033,804 1032,792 1031,778 1029,765 1027,752 1025,740 1025,730 1024,720 1024,712 1024,704 1024,696 1025,689 1025,683 1027,677 1028,672 1030,666 1032,660 1035,654 1038,648 1041,642 1044,636 1047,630 1050,624 1052,618 1054,613 1056,610Z" fill="#a6a6a6"/>
<path d="M856,662 858,661 860,660 862,658 865,656 868,654 871,652 874,650 878,648 882,646 886,644 889,642 893,640 896,639 900,638 903,637 907,636 910,635 913,634 917,633 921,633 926,634 932,634 937,635 943,637 948,638 952,640 956,643 960,645 963,648 966,651 968,653 970,656 972,658 973,661 974,663 973,667 974,671 974,674 975,678 975,682 975,686 975,691 976,695 976,700 976,705 976,709 976,712 975,716 975,720 974,723 974,727 973,730 973,733 972,737 970,742 968,748 966,755 963,762 961,769 958,774 956,778 955,782 952,785 949,787 946,789 943,792 941,795 938,798 935,801 932,804 928,807 923,809 919,812 914,814 910,817 906,819 903,821 900,823 897,824 894,826 891,828 888,830 884,831 882,833 880,834 880,834 882,833 884,831 888,830 891,828 894,826 897,824 900,823 903,821 906,819 910,817 914,814 919,812 923,809 928,807 932,804 935,801 938,798 941,795 943,792 946,789 949,787 952,785 955,782 960,781 964,777 967,772 970,765 973,758 976,751 978,745 980,740 981,736 982,732 983,729 984,725 984,721 985,717 985,713 985,709 985,705 985,700 985,695 984,690 984,685 983,681 982,677 981,673 980,669 978,666 974,663 973,661 972,658 970,656 968,653 966,651 963,648 960,645 956,643 952,640 948,638 943,637 937,635 932,634 926,634 921,633 917,633 913,634 910,635 907,636 903,637 900,638 896,639 893,640 889,642 886,644 882,646 878,648 874,650 871,652 868,654 865,656 862,658 860,660 858,661 856,662Z" fill="#aaaaaa"/>
<path d="M1056,610 1054,613 1052,618 1050,624 1047,630 1044,636 1041,642 1038,648 1035,654 1032,660 1030,666 1028,672 1027,677 1025,683 1025,689 1024,696 1024,704 1024,712 1024,720 1025,730 1025,740 1027,752 1029,765 1031,778 1032,792 1033,804 1033,816 1032,827 1031,837 1030,847 1027,857 1024,866 1020,874 1015,882 1003,885 996,890 991,895 986,900 981,905 975,910 969,916 963,923 958,931 953,938 948,944 945,949 967,963 970,959 974,953 979,945 984,938 989,932 993,927 997,921 1003,916 1008,909 1013,902 1016,894 1015,882 1020,874 1024,866 1027,857 1030,847 1031,837 1032,827 1033,816 1033,804 1032,792 1031,778 1029,765 1027,752 1025,740 1025,730 1024,720 1024,712 1024,704 1024,696 1025,689 1025,683 1027,677 1028,672 1030,666 1032,660 1035,654 1038,648 1041,642 1044,636 1047,630 1050,624 1052,618 1054,613 1056,610Z" fill="#aaaaaa"/>
<path d="M856,662 858,661 860,660 862,658 865,656 868,654 871,652 874,650 878,648 882,646 886,644 889,642 893,640 896,639 900,638 903,637 907,636 910,635 913,634 917,633 921,633 926,634 932,634 937,635 943,637 948,638 952,640 956,643 960,645 963,648 966,651 968,653 970,656 972,658 973,661 974,663 974,667 974,671 974,674 975,678 975,682 975,686 976,691 976,695 976,700 976,705 976,709 976,712 975,716 975,720 975,723 974,727 973,730 973,734 972,737 970,742 968,748 966,755 964,762 961,769 959,774 958,780 955,782 952,785 949,787 946,789 943,792 941,795 938,798 935,801 932,804 928,807 923,809 919,812 914,814 910,817 906,819 903,821 900,823 897,824 894,826 891,828 888,830 884,831 882,833 880,834 880,834 882,833 884,831 888,830 891,828 894,826 897,824 900,823 903,821 906,819 910,817 914,814 919,812 923,809 928,807 932,804 935,801 938,798 941,795 943,792 946,789 949,787 952,785 955,782 958,780 963,777 967,771 970,765 973,757 975,751 978,745 980,740 981,736 982,732 983,729 984,725 984,721 985,717 985,713 985,709 985,705 985,700 985,695 984,690 984,685 983,681 982,677 981,673 979,669 977,666 974,663 973,661 972,658 970,656 968,653 966,651 963,648 960,645 956,643 952,640 948,638 943,637 937,635 932,634 926,634 921,633 917,633 913,634 910,635 907,636 903,637 900,638 896,639 893,640 889,642 886,644 882,646 878,648 874,650 871,652 868,654 865,656 862,658 860,660 858,661 856,662Z" fill="#aeaeae"/>
<path d="M1056,610 1054,613 1052,618 1050,624 1047,630 1044,636 1041,642 1038,648 1035,654 1032,660 1030,666 1028,672 1027,677 1025,683 1025,689 1024,696 1024,704 1024,712 1024,720 1025,730 1025,740 1027,752 1029,765 1031,778 1032,792 1033,804 1033,816 1032,827 1031,837 1030,847 1027,857 1024,866 1020,874 1015,882 1010,889 998,891 993,896 987,901 982,906 976,911 970,917 964,924 959,931 954,939 950,945 946,949 966,963 969,958 973,952 978,945 983,938 988,931 992,926 996,920 1001,915 1006,908 1011,901 1010,889 1015,882 1020,874 1024,866 1027,857 1030,847 1031,837 1032,827 1033,816 1033,804 1032,792 1031,778 1029,765 1027,752 1025,740 1025,730 1024,720 1024,712 1024,704 1024,696 1025,689 1025,683 1027,677 1028,672 1030,666 1032,660 1035,654 1038,648 1041,642 1044,636 1047,630 1050,624 1052,618 1054,613 1056,610Z" fill="#aeaeae"/>
<path d="M856,662 858,661 860,660 862,658 865,656 868,654 871,652 874,650 878,648 882,646 886,644 889,642 893,640 896,639 900,638 903,637 907,636 910,635 913,634 917,633 921,633 926,634 932,634 937,635 943,637 948,638 952,640 956,643 960,645 963,648 966,651 968,653 970,656 972,658 973,661 974,663 976,667 975,670 975,674 975,678 975,682 976,686 976,691 976,695 976,700 976,705 976,709 976,712 976,716 975,720 975,723 974,727 974,730 973,734 972,737 971,742 969,748 966,755 964,762 962,769 961,776 958,780 955,782 952,785 949,787 946,789 943,792 941,795 938,798 935,801 932,804 928,807 923,809 919,812 914,814 910,817 906,819 903,821 900,823 897,824 894,826 891,828 888,830 884,831 882,833 880,834 880,834 882,833 884,831 888,830 891,828 894,826 897,824 900,823 903,821 906,819 910,817 914,814 919,812 923,809 928,807 932,804 935,801 938,798 941,795 943,792 946,789 949,787 952,785 955,782 958,780 961,776 966,771 970,765 973,757 975,750 977,745 979,740 981,736 982,732 983,729 984,725 984,721 985,717 985,713 985,709 985,705 985,700 984,695 984,690 983,685 983,681 982,677 980,673 979,669 976,667 974,663 973,661 972,658 970,656 968,653 966,651 963,648 960,645 956,643 952,640 948,638 943,637 937,635 932,634 926,634 921,633 917,633 913,634 910,635 907,636 903,637 900,638 896,639 893,640 889,642 886,644 882,646 878,648 874,650 871,652 868,654 865,656 862,658 860,660 858,661 856,662Z" fill="#b2b2b2"/>
<path d="M1056,610 1054,613 1052,618 1050,624 1047,630 1044,636 1041,642 1038,648 1035,654 1032,660 1030,666 1028,672 1027,677 1025,683 1025,689 1024,696 1024,704 1024,712 1024,720 1025,730 1025,740 1027,752 1029,765 1031,778 1032,792 1033,804 1033,816 1032,827 1031,837 1030,847 1027,857 1024,866 1020,874 1015,882 1010,889 1005,896 995,898 989,903 983,907 977,912 971,918 966,925 960,932 955,940 951,946 948,950 964,962 967,957 972,951 977,944 982,937 987,930 991,925 995,919 1000,913 1004,906 1005,896 1010,889 1015,882 1020,874 1024,866 1027,857 1030,847 1031,837 1032,827 1033,816 1033,804 1032,792 1031,778 1029,765 1027,752 1025,740 1025,730 1024,720 1024,712 1024,704 1024,696 1025,689 1025,683 1027,677 1028,672 1030,666 1032,660 1035,654 1038,648 1041,642 1044,636 1047,630 1050,624 1052,618 1054,613 1056,610Z" fill="#b2b2b2"/>
<path d="M856,662 858,661 860,660 862,658 865,656 868,654 871,652 874,650 878,648 882,646 886,644 889,642 893,640 896,639 900,638 903,637 907,636 910,635 913,634 917,633 921,633 926,634 932,634 937,635 943,637 948,638 952,640 956,643 960,645 963,648 966,651 968,653 970,656 972,658 973,661 974,663 976,667 977,670 975,674 975,678 976,682 976,686 976,691 976,695 976,700 976,705 976,709 976,712 976,716 975,720 975,723 974,727 974,730 973,734 972,738 971,742 969,748 967,755 965,763 964,770 961,776 958,780 955,782 952,785 949,787 946,789 943,792 941,795 938,798 935,801 932,804 928,807 923,809 919,812 914,814 910,817 906,819 903,821 900,823 897,824 894,826 891,828 888,830 884,831 882,833 880,834 880,834 882,833 884,831 888,830 891,828 894,826 897,824 900,823 903,821 906,819 910,817 914,814 919,812 923,809 928,807 932,804 935,801 938,798 941,795 943,792 946,789 949,787 952,785 955,782 958,780 961,776 964,770 969,764 972,757 975,750 977,745 979,740 981,736 982,732 983,729 984,725 984,721 984,717 985,713 985,709 985,705 985,700 984,695 984,690 983,685 982,681 981,677 980,673 977,670 976,667 974,663 973,661 972,658 970,656 968,653 966,651 963,648 960,645 956,643 952,640 948,638 943,637 937,635 932,634 926,634 921,633 917,633 913,634 910,635 907,636 903,637 900,638 896,639 893,640 889,642 886,644 882,646 878,648 874,650 871,652 868,654 865,656 862,658 860,660 858,661 856,662Z" fill="#b7b7b7"/>
<path d="M1056,610 1054,613 1052,618 1050,624 1047,630 1044,636 1041,642 1038,648 1035,654 1032,660 1030,666 1028,672 1027,677 1025,683 1025,689 1024,696 1024,704 1024,712 1024,720 1025,730 1025,740 1027,752 1029,765 1031,778 1032,792 1033,804 1033,816 1032,827 1031,837 1030,847 1027,857 1024,866 1020,874 1015,882 1010,889 1005,896 1000,902 994,908 986,910 979,914 973,919 967,926 962,934 957,941 953,947 950,952 962,960 966,956 970,950 975,943 980,935 985,929 989,923 992,916 994,908 1000,902 1005,896 1010,889 1015,882 1020,874 1024,866 1027,857 1030,847 1031,837 1032,827 1033,816 1033,804 1032,792 1031,778 1029,765 1027,752 1025,740 1025,730 1024,720 1024,712 1024,704 1024,696 1025,689 1025,683 1027,677 1028,672 1030,666 1032,660 1035,654 1038,648 1041,642 1044,636 1047,630 1050,624 1052,618 1054,613 1056,610Z" fill="#b7b7b7"/>
<path d="M856,662 858,661 860,660 862,658 865,656 868,654 871,652 874,650 878,648 882,646 886,644 889,642 893,640 896,639 900,638 903,637 907,636 910,635 913,634 917,633 921,633 926,634 932,634 937,635 943,637 948,638 952,640 956,643 960,645 963,648 966,651 968,653 970,656 972,658 973,661 974,663 976,667 977,670 978,673 976,678 976,682 976,686 976,691 976,695 976,700 976,705 976,709 976,712 976,716 976,720 975,723 975,727 974,730 973,734 972,738 971,742 969,748 968,756 967,763 964,770 961,776 958,780 955,782 952,785 949,787 946,789 943,792 941,795 938,798 935,801 932,804 928,807 923,809 919,812 914,814 910,817 906,819 903,821 900,823 897,824 894,826 891,828 888,830 884,831 882,833 880,834 880,834 882,833 884,831 888,830 891,828 894,826 897,824 900,823 903,821 906,819 910,817 914,814 919,812 923,809 928,807 932,804 935,801 938,798 941,795 943,792 946,789 949,787 952,785 955,782 958,780 961,776 964,770 967,763 971,757 974,750 977,744 979,740 980,736 982,732 983,728 983,725 984,721 984,717 985,713 985,709 985,705 984,700 984,695 984,690 983,685 982,681 981,677 978,673 977,670 976,667 974,663 973,661 972,658 970,656 968,653 966,651 963,648 960,645 956,643 952,640 948,638 943,637 937,635 932,634 926,634 921,633 917,633 913,634 910,635 907,636 903,637 900,638 896,639 893,640 889,642 886,644 882,646 878,648 874,650 871,652 868,654 865,656 862,658 860,660 858,661 856,662Z" fill="#bbbbbb"/>
<path d="M856,662 858,661 860,660 862,658 865,656 868,654 871,652 874,650 878,648 882,646 886,644 889,642 893,640 896,639 900,638 903,637 907,636 910,635 913,634 917,633 921,633 926,634 932,634 937,635 943,637 948,638 952,640 956,643 960,645 963,648 966,651 968,653 970,656 972,658 973,661 974,663 976,667 977,670 978,673 978,677 976,682 976,686 976,691 976,695 976,700 976,705 976,709 976,712 976,716 976,720 975,723 975,727 974,730 974,734 973,738 972,743 970,749 969,756 967,763 964,770 961,776 958,780 955,782 952,785 949,787 946,789 943,792 941,795 938,798 935,801 932,804 928,807 923,809 919,812 914,814 910,817 906,819 903,821 900,823 897,824 894,826 891,828 888,830 884,831 882,833 880,834 880,834 882,833 884,831 888,830 891,828 894,826 897,824 900,823 903,821 906,819 910,817 914,814 919,812 923,809 928,807 932,804 935,801 938,798 941,795 943,792 946,789 949,787 952,785 955,782 958,780 961,776 964,770 967,763 969,756 974,750 976,744 979,740 980,736 981,732 982,728 983,725 984,721 984,717 984,713 985,709 985,705 984,700 984,695 983,690 983,685 982,681 978,677 978,673 977,670 976,667 974,663 973,661 972,658 970,656 968,653 966,651 963,648 960,645 956,643 952,640 948,638 943,637 937,635 932,634 926,634 921,633 917,633 913,634 910,635 907,636 903,637 900,638 896,639 893,640 889,642 886,644 882,646 878,648 874,650 871,652 868,654 865,656 862,658 860,660 858,661 856,662Z" fill="#bfbfbf"/>
<path d="M856,662 858,661 860,660 862,658 865,656 868,654 871,652 874,650 878,648 882,646 886,644 889,642 893,640 896,639 900,638 903,637 907,636 910,635 913,634 917,633 921,633 926,634 932,634 937,635 943,637 948,638 952,640 956,643 960,645 963,648 966,651 968,653 970,656 972,658 973,661 974,663 976,667 977,670 978,673 978,677 979,681 977,686 977,691 977,695 977,700 976,705 976,709 976,712 976,716 976,720 975,723 975,727 974,730 974,734 973,738 974,743 972,749 969,756 967,763 964,770 961,776 958,780 955,782 952,785 949,787 946,789 943,792 941,795 938,798 935,801 932,804 928,807 923,809 919,812 914,814 910,817 906,819 903,821 900,823 897,824 894,826 891,828 888,830 884,831 882,833 880,834 880,834 882,833 884,831 888,830 891,828 894,826 897,824 900,823 903,821 906,819 910,817 914,814 919,812 923,809 928,807 932,804 935,801 938,798 941,795 943,792 946,789 949,787 952,785 955,782 958,780 961,776 964,770 967,763 969,756 972,749 974,743 978,740 980,736 981,732 982,728 983,725 984,721 984,717 984,713 984,709 984,705 984,700 984,695 983,690 982,685 979,681 978,677 978,673 977,670 976,667 974,663 973,661 972,658 970,656 968,653 966,651 963,648 960,645 956,643 952,640 948,638 943,637 937,635 932,634 926,634 921,633 917,633 913,634 910,635 907,636 903,637 900,638 896,639 893,640 889,642 886,644 882,646 878,648 874,650 871,652 868,654 865,656 862,658 860,660 858,661 856,662Z" fill="#c4c4c4"/>
<path d="M856,662 858,661 860,660 862,658 865,656 868,654 871,652 874,650 878,648 882,646 886,644 889,642 893,640 896,639 900,638 903,637 907,636 910,635 913,634 917,633 921,633 926,634 932,634 937,635 943,637 948,638 952,640 956,643 960,645 963,648 966,651 968,653 970,656 972,658 973,661 974,663 976,667 977,670 978,673 978,677 979,681 978,686 977,691 977,695 977,700 977,705 977,709 977,713 976,716 976,720 975,723 975,727 975,730 974,734 974,738 974,743 972,749 969,756 967,763 964,770 961,776 958,780 955,782 952,785 949,787 946,789 943,792 941,795 938,798 935,801 932,804 928,807 923,809 919,812 914,814 910,817 906,819 903,821 900,823 897,824 894,826 891,828 888,830 884,831 882,833 880,834 880,834 882,833 884,831 888,830 891,828 894,826 897,824 900,823 903,821 906,819 910,817 914,814 919,812 923,809 928,807 932,804 935,801 938,798 941,795 943,792 946,789 949,787 952,785 955,782 958,780 961,776 964,770 967,763 969,756 972,749 974,743 977,739 979,735 981,732 982,728 983,725 983,721 984,717 984,713 984,709 984,705 984,700 983,695 983,690 981,685 979,681 978,677 978,673 977,670 976,667 974,663 973,661 972,658 970,656 968,653 966,651 963,648 960,645 956,643 952,640 948,638 943,637 937,635 932,634 926,634 921,633 917,633 913,634 910,635 907,636 903,637 900,638 896,639 893,640 889,642 886,644 882,646 878,648 874,650 871,652 868,654 865,656 862,658 860,660 858,661 856,662Z" fill="#c8c8c8"/>
<path d="M856,662 858,661 860,660 862,658 865,656 868,654 871,652 874,650 878,648 882,646 886,644 889,642 893,640 896,639 900,638 903,637 907,636 910,635 913,634 917,633 921,633 926,634 932,634 937,635 943,637 948,638 952,640 956,643 960,645 963,648 966,651 968,653 970,656 972,658 973,661 974,663 976,667 977,670 978,673 978,677 979,681 980,686 978,690 977,695 977,700 977,705 977,709 977,713 977,716 976,720 976,723 975,727 975,730 975,734 976,739 974,743 972,749 969,756 967,763 964,770 961,776 958,780 955,782 952,785 949,787 946,789 943,792 941,795 938,798 935,801 932,804 928,807 923,809 919,812 914,814 910,817 906,819 903,821 900,823 897,824 894,826 891,828 888,830 884,831 882,833 880,834 880,834 882,833 884,831 888,830 891,828 894,826 897,824 900,823 903,821 906,819 910,817 914,814 919,812 923,809 928,807 932,804 935,801 938,798 941,795 943,792 946,789 949,787 952,785 955,782 958,780 961,776 964,770 967,763 969,756 972,749 974,743 976,739 979,735 981,732 982,728 983,725 983,721 984,717 984,713 984,709 984,705 984,700 983,695 982,690 980,686 979,681 978,677 978,673 977,670 976,667 974,663 973,661 972,658 970,656 968,653 966,651 963,648 960,645 956,643 952,640 948,638 943,637 937,635 932,634 926,634 921,633 917,633 913,634 910,635 907,636 903,637 900,638 896,639 893,640 889,642 886,644 882,646 878,648 874,650 871,652 868,654 865,656 862,658 860,660 858,661 856,662Z" fill="#cccccc"/>
<path d="M856,662 858,661 860,660 862,658 865,656 868,654 871,652 874,650 878,648 882,646 886,644 889,642 893,640 896,639 900,638 903,637 907,636 910,635 913,634 917,633 921,633 926,634 932,634 937,635 943,637 948,638 952,640 956,643 960,645 963,648 966,651 968,653 970,656 972,658 973,661 974,663 976,667 977,670 978,673 978,677 979,681 980,686 980,690 978,695 977,700 977,705 977,709 977,713 977,716 976,720 976,723 976,727 976,731 977,735 976,739 974,743 972,749 969,756 967,763 964,770 961,776 958,780 955,782 952,785 949,787 946,789 943,792 941,795 938,798 935,801 932,804 928,807 923,809 919,812 914,814 910,817 906,819 903,821 900,823 897,824 894,826 891,828 888,830 884,831 882,833 880,834 880,834 882,833 884,831 888,830 891,828 894,826 897,824 900,823 903,821 906,819 910,817 914,814 919,812 923,809 928,807 932,804 935,801 938,798 941,795 943,792 946,789 949,787 952,785 955,782 958,780 961,776 964,770 967,763 969,756 972,749 974,743 976,739 977,735 980,732 981,728 982,725 983,721 983,717 984,713 984,709 984,705 983,700 982,695 980,690 980,686 979,681 978,677 978,673 977,670 976,667 974,663 973,661 972,658 970,656 968,653 966,651 963,648 960,645 956,643 952,640 948,638 943,637 937,635 932,634 926,634 921,633 917,633 913,634 910,635 907,636 903,637 900,638 896,639 893,640 889,642 886,644 882,646 878,648 874,650 871,652 868,654 865,656 862,658 860,660 858,661 856,662Z" fill="#d0d0d0"/>
<path d="M856,662 858,661 860,660 862,658 865,656 868,654 871,652 874,650 878,648 882,646 886,644 889,642 893,640 896,639 900,638 903,637 907,636 910,635 913,634 917,633 921,633 926,634 932,634 937,635 943,637 948,638 952,640 956,643 960,645 963,648 966,651 968,653 970,656 972,658 973,661 974,663 976,667 977,670 978,673 978,677 979,681 980,686 980,690 980,695 978,700 977,705 977,709 977,713 977,716 977,720 976,724 976,727 978,731 977,735 976,739 974,743 972,749 969,756 967,763 964,770 961,776 958,780 955,782 952,785 949,787 946,789 943,792 941,795 938,798 935,801 932,804 928,807 923,809 919,812 914,814 910,817 906,819 903,821 900,823 897,824 894,826 891,828 888,830 884,831 882,833 880,834 880,834 882,833 884,831 888,830 891,828 894,826 897,824 900,823 903,821 906,819 910,817 914,814 919,812 923,809 928,807 932,804 935,801 938,798 941,795 943,792 946,789 949,787 952,785 955,782 958,780 961,776 964,770 967,763 969,756 972,749 974,743 976,739 977,735 978,731 981,728 982,724 983,721 983,717 983,713 983,709 983,705 983,700 980,695 980,690 980,686 979,681 978,677 978,673 977,670 976,667 974,663 973,661 972,658 970,656 968,653 966,651 963,648 960,645 956,643 952,640 948,638 943,637 937,635 932,634 926,634 921,633 917,633 913,634 910,635 907,636 903,637 900,638 896,639 893,640 889,642 886,644 882,646 878,648 874,650 871,652 868,654 865,656 862,658 860,660 858,661 856,662Z" fill="#d4d4d4"/>
<path d="M856,662 858,661 860,660 862,658 865,656 868,654 871,652 874,650 878,648 882,646 886,644 889,642 893,640 896,639 900,638 903,637 907,636 910,635 913,634 917,633 921,633 926,634 932,634 937,635 943,637 948,638 952,640 956,643 960,645 963,648 966,651 968,653 970,656 972,658 973,661 974,663 976,667 977,670 978,673 978,677 979,681 980,686 980,690 980,695 980,700 978,705 978,709 978,713 978,716 977,720 977,724 979,728 978,731 977,735 976,739 974,743 972,749 969,756 967,763 964,770 961,776 958,780 955,782 952,785 949,787 946,789 943,792 941,795 938,798 935,801 932,804 928,807 923,809 919,812 914,814 910,817 906,819 903,821 900,823 897,824 894,826 891,828 888,830 884,831 882,833 880,834 880,834 882,833 884,831 888,830 891,828 894,826 897,824 900,823 903,821 906,819 910,817 914,814 919,812 923,809 928,807 932,804 935,801 938,798 941,795 943,792 946,789 949,787 952,785 955,782 958,780 961,776 964,770 967,763 969,756 972,749 974,743 976,739 977,735 978,731 979,728 982,724 982,720 983,717 983,713 983,709 983,705 980,700 980,695 980,690 980,686 979,681 978,677 978,673 977,670 976,667 974,663 973,661 972,658 970,656 968,653 966,651 963,648 960,645 956,643 952,640 948,638 943,637 937,635 932,634 926,634 921,633 917,633 913,634 910,635 907,636 903,637 900,638 896,639 893,640 889,642 886,644 882,646 878,648 874,650 871,652 868,654 865,656 862,658 860,660 858,661 856,662Z" fill="#d9d9d9"/>
</g>
</g></g>
<circle cx="252.5" cy="353.0" r="135.2" fill="none" stroke="#111" stroke-width="1.4"/>
<path d="M137.2,423.6 A135.2,135.2 0 0 0 370.7,418.5" fill="none" stroke="#f08030" stroke-width="1.4"/>
<path d="M205.2,226.4 A135.2,135.2 0 0 1 229.0,219.9" fill="none" stroke="#f08030" stroke-width="1.4"/>
<circle cx="252.5" cy="353.0" r="78.6" fill="none" stroke="#000" stroke-width="0.9"/>
<line x1="326.1" y1="370.3" x2="331.9" y2="371.6" stroke="#000" stroke-width="0.9"/>
<line x1="320.2" y1="386.6" x2="325.6" y2="389.3" stroke="#000" stroke-width="0.9"/>
<line x1="310.8" y1="401.2" x2="315.4" y2="405.0" stroke="#000" stroke-width="0.9"/>
<line x1="298.2" y1="413.2" x2="301.8" y2="418.0" stroke="#000" stroke-width="0.9"/>
<line x1="283.2" y1="422.1" x2="285.7" y2="427.5" stroke="#000" stroke-width="0.9"/>
<line x1="266.7" y1="427.3" x2="267.8" y2="433.2" stroke="#000" stroke-width="0.9"/>
<line x1="249.3" y1="428.5" x2="249.1" y2="434.5" stroke="#000" stroke-width="0.9"/>
<line x1="258" y1="352.5" x2="387.5" y2="352.5" stroke="#000" stroke-width="1.1"/>
<line x1="260.4" y1="352.5" x2="260.4" y2="357.2" stroke="#000" stroke-width="1"/>
<line x1="268.3" y1="352.5" x2="268.3" y2="357.2" stroke="#000" stroke-width="1"/>
<line x1="276.1" y1="352.5" x2="276.1" y2="357.2" stroke="#000" stroke-width="1"/>
<line x1="284.0" y1="352.5" x2="284.0" y2="357.2" stroke="#000" stroke-width="1"/>
<line x1="291.9" y1="352.5" x2="291.9" y2="357.2" stroke="#000" stroke-width="1"/>
<line x1="299.8" y1="352.5" x2="299.8" y2="357.2" stroke="#000" stroke-width="1"/>
<line x1="307.7" y1="352.5" x2="307.7" y2="357.2" stroke="#000" stroke-width="1"/>
<line x1="315.5" y1="352.5" x2="315.5" y2="357.2" stroke="#000" stroke-width="1"/>
<line x1="323.4" y1="352.5" x2="323.4" y2="357.2" stroke="#000" stroke-width="1"/>
<line x1="331.3" y1="352.5" x2="331.3" y2="357.2" stroke="#000" stroke-width="1"/>
<line x1="339.2" y1="352.5" x2="339.2" y2="357.2" stroke="#000" stroke-width="1"/>
<line x1="347.1" y1="352.5" x2="347.1" y2="357.2" stroke="#000" stroke-width="1"/>
<line x1="354.9" y1="352.5" x2="354.9" y2="357.2" stroke="#000" stroke-width="1"/>
<line x1="362.8" y1="352.5" x2="362.8" y2="357.2" stroke="#000" stroke-width="1"/>
<line x1="370.7" y1="352.5" x2="370.7" y2="357.2" stroke="#000" stroke-width="1"/>
<line x1="378.6" y1="352.5" x2="378.6" y2="357.2" stroke="#000" stroke-width="1"/>
<line x1="386.5" y1="352.5" x2="386.5" y2="357.2" stroke="#000" stroke-width="1"/>
<circle cx="252.5" cy="353.0" r="7.7" fill="#fff"/>
<circle cx="252.5" cy="353.0" r="6.6" fill="none" stroke="#111" stroke-width="1.3"/>
<path d="M255.6,347.2 A6.6,6.6 0 0 1 254.5,359.3" fill="none" stroke="#f08030" stroke-width="1.3"/>
<path d="M248.7,358.4 A6.6,6.6 0 0 1 246.3,355.3" fill="none" stroke="#f08030" stroke-width="1.3"/>
<circle cx="252.5" cy="353.0" r="4.6" fill="#ffff00" stroke="#111" stroke-width="1.1"/>
<circle cx="300.2" cy="294" r="4" fill="#ff6a6a" stroke="#000" stroke-width="1.6"/>
<circle cx="329.2" cy="353.1" r="3.5" fill="#66ee66" stroke="#000" stroke-width="1.7"/>
<circle cx="294.3" cy="422.3" r="3.9" fill="#8080ff" stroke="#000" stroke-width="1.8"/>
<path d="M486.5,235.5 A135.0,135.0 0 0 1 497.4,463.6" fill="none" stroke="#111" stroke-width="1.4"/>
<path d="M497.4,463.6 A135.0,135.0 0 0 1 485.9,470.8" fill="none" stroke="#f08030" stroke-width="1.4"/>
<path d="M459.3,284.9 A78.6,78.6 0 0 1 459.3,421.1" fill="none" stroke="#000" stroke-width="0.9"/>
<line x1="424" y1="352.5" x2="553" y2="352.5" stroke="#000" stroke-width="1.1"/>
<line x1="427.8" y1="352.5" x2="427.8" y2="357.2" stroke="#000" stroke-width="1"/>
<line x1="435.7" y1="352.5" x2="435.7" y2="357.2" stroke="#000" stroke-width="1"/>
<line x1="443.5" y1="352.5" x2="443.5" y2="357.2" stroke="#000" stroke-width="1"/>
<line x1="451.4" y1="352.5" x2="451.4" y2="357.2" stroke="#000" stroke-width="1"/>
<line x1="459.2" y1="352.5" x2="459.2" y2="357.2" stroke="#000" stroke-width="1"/>
<line x1="467.0" y1="352.5" x2="467.0" y2="357.2" stroke="#000" stroke-width="1"/>
<line x1="474.9" y1="352.5" x2="474.9" y2="357.2" stroke="#000" stroke-width="1"/>
<line x1="482.7" y1="352.5" x2="482.7" y2="357.2" stroke="#000" stroke-width="1"/>
<line x1="490.6" y1="352.5" x2="490.6" y2="357.2" stroke="#000" stroke-width="1"/>
<line x1="498.4" y1="352.5" x2="498.4" y2="357.2" stroke="#000" stroke-width="1"/>
<line x1="506.2" y1="352.5" x2="506.2" y2="357.2" stroke="#000" stroke-width="1"/>
<line x1="514.1" y1="352.5" x2="514.1" y2="357.2" stroke="#000" stroke-width="1"/>
<line x1="521.9" y1="352.5" x2="521.9" y2="357.2" stroke="#000" stroke-width="1"/>
<line x1="529.8" y1="352.5" x2="529.8" y2="357.2" stroke="#000" stroke-width="1"/>
<line x1="537.6" y1="352.5" x2="537.6" y2="357.2" stroke="#000" stroke-width="1"/>
<line x1="545.4" y1="352.5" x2="545.4" y2="357.2" stroke="#000" stroke-width="1"/>
<path d="M420.3,346.5 A7,7 0 0 1 420.3,359.5" fill="none" stroke="#f08030" stroke-width="1.4"/>
<circle cx="419.2" cy="352.9" r="4.6" fill="#ffff00" stroke="#000" stroke-width="1.2"/>
<circle cx="496.6" cy="357.6" r="4.2" fill="#66ee66" stroke="#000" stroke-width="1.8"/>
<rect x="68.5" y="265.5" width="11" height="174" fill="url(#cbg)" stroke="#555" stroke-width="0.6"/>
<text x="83" y="270.9" class="tl">60</text>
<text x="83" y="314" class="tl">45</text>
<text x="83" y="358" class="tl">30</text>
<text x="83" y="401.3" class="tl">15</text>
<text x="85" y="445.2" class="tl">0</text>
<text transform="translate(61.8,440.3) rotate(-90)" font-size="15.6" fill="#777">Plasma Density (r<tspan dy="-6.5" font-size="10.5">2</tspan><tspan dy="6.5">N/cm</tspan><tspan dy="-6.5" font-size="10.5">3</tspan><tspan dy="6.5">)</tspan></text>
<rect x="606.0" y="244.6" width="437.5" height="63.8" fill="none" stroke="#777" stroke-width="1.2"/>
<line x1="611.2" y1="244.6" x2="611.2" y2="247.2" stroke="#666" stroke-width="1"/>
<line x1="611.2" y1="308.4" x2="611.2" y2="305.8" stroke="#666" stroke-width="1"/>
<line x1="616.4" y1="244.6" x2="616.4" y2="247.2" stroke="#666" stroke-width="1"/>
<line x1="616.4" y1="308.4" x2="616.4" y2="305.8" stroke="#666" stroke-width="1"/>
<line x1="621.6" y1="244.6" x2="621.6" y2="247.2" stroke="#666" stroke-width="1"/>
<line x1="621.6" y1="308.4" x2="621.6" y2="305.8" stroke="#666" stroke-width="1"/>
<line x1="626.8" y1="244.6" x2="626.8" y2="247.2" stroke="#666" stroke-width="1"/>
<line x1="626.8" y1="308.4" x2="626.8" y2="305.8" stroke="#666" stroke-width="1"/>
<line x1="632.0" y1="244.6" x2="632.0" y2="247.2" stroke="#666" stroke-width="1"/>
<line x1="632.0" y1="308.4" x2="632.0" y2="305.8" stroke="#666" stroke-width="1"/>
<line x1="637.2" y1="244.6" x2="637.2" y2="247.2" stroke="#666" stroke-width="1"/>
<line x1="637.2" y1="308.4" x2="637.2" y2="305.8" stroke="#666" stroke-width="1"/>
<line x1="642.5" y1="244.6" x2="642.5" y2="247.2" stroke="#666" stroke-width="1"/>
<line x1="642.5" y1="308.4" x2="642.5" y2="305.8" stroke="#666" stroke-width="1"/>
<line x1="647.7" y1="244.6" x2="647.7" y2="247.2" stroke="#666" stroke-width="1"/>
<line x1="647.7" y1="308.4" x2="647.7" y2="305.8" stroke="#666" stroke-width="1"/>
<line x1="652.9" y1="244.6" x2="652.9" y2="247.2" stroke="#666" stroke-width="1"/>
<line x1="652.9" y1="308.4" x2="652.9" y2="305.8" stroke="#666" stroke-width="1"/>
<line x1="658.1" y1="244.6" x2="658.1" y2="247.2" stroke="#666" stroke-width="1"/>
<line x1="658.1" y1="308.4" x2="658.1" y2="305.8" stroke="#666" stroke-width="1"/>
<line x1="663.3" y1="244.6" x2="663.3" y2="247.2" stroke="#666" stroke-width="1"/>
<line x1="663.3" y1="308.4" x2="663.3" y2="305.8" stroke="#666" stroke-width="1"/>
<line x1="668.5" y1="244.6" x2="668.5" y2="249.6" stroke="#666" stroke-width="1"/>
<line x1="668.5" y1="308.4" x2="668.5" y2="303.4" stroke="#666" stroke-width="1"/>
<line x1="673.7" y1="244.6" x2="673.7" y2="247.2" stroke="#666" stroke-width="1"/>
<line x1="673.7" y1="308.4" x2="673.7" y2="305.8" stroke="#666" stroke-width="1"/>
<line x1="678.9" y1="244.6" x2="678.9" y2="247.2" stroke="#666" stroke-width="1"/>
<line x1="678.9" y1="308.4" x2="678.9" y2="305.8" stroke="#666" stroke-width="1"/>
<line x1="684.1" y1="244.6" x2="684.1" y2="247.2" stroke="#666" stroke-width="1"/>
<line x1="684.1" y1="308.4" x2="684.1" y2="305.8" stroke="#666" stroke-width="1"/>
<line x1="689.3" y1="244.6" x2="689.3" y2="247.2" stroke="#666" stroke-width="1"/>
<line x1="689.3" y1="308.4" x2="689.3" y2="305.8" stroke="#666" stroke-width="1"/>
<line x1="694.5" y1="244.6" x2="694.5" y2="247.2" stroke="#666" stroke-width="1"/>
<line x1="694.5" y1="308.4" x2="694.5" y2="305.8" stroke="#666" stroke-width="1"/>
<line x1="699.8" y1="244.6" x2="699.8" y2="247.2" stroke="#666" stroke-width="1"/>
<line x1="699.8" y1="308.4" x2="699.8" y2="305.8" stroke="#666" stroke-width="1"/>
<line x1="705.0" y1="244.6" x2="705.0" y2="247.2" stroke="#666" stroke-width="1"/>
<line x1="705.0" y1="308.4" x2="705.0" y2="305.8" stroke="#666" stroke-width="1"/>
<line x1="710.2" y1="244.6" x2="710.2" y2="247.2" stroke="#666" stroke-width="1"/>
<line x1="710.2" y1="308.4" x2="710.2" y2="305.8" stroke="#666" stroke-width="1"/>
<line x1="715.4" y1="244.6" x2="715.4" y2="247.2" stroke="#666" stroke-width="1"/>
<line x1="715.4" y1="308.4" x2="715.4" y2="305.8" stroke="#666" stroke-width="1"/>
<line x1="720.6" y1="244.6" x2="720.6" y2="247.2" stroke="#666" stroke-width="1"/>
<line x1="720.6" y1="308.4" x2="720.6" y2="305.8" stroke="#666" stroke-width="1"/>
<line x1="725.8" y1="244.6" x2="725.8" y2="247.2" stroke="#666" stroke-width="1"/>
<line x1="725.8" y1="308.4" x2="725.8" y2="305.8" stroke="#666" stroke-width="1"/>
<line x1="731.0" y1="244.6" x2="731.0" y2="249.6" stroke="#666" stroke-width="1"/>
<line x1="731.0" y1="308.4" x2="731.0" y2="303.4" stroke="#666" stroke-width="1"/>
<line x1="736.2" y1="244.6" x2="736.2" y2="247.2" stroke="#666" stroke-width="1"/>
<line x1="736.2" y1="308.4" x2="736.2" y2="305.8" stroke="#666" stroke-width="1"/>
<line x1="741.4" y1="244.6" x2="741.4" y2="247.2" stroke="#666" stroke-width="1"/>
<line x1="741.4" y1="308.4" x2="741.4" y2="305.8" stroke="#666" stroke-width="1"/>
<line x1="746.6" y1="244.6" x2="746.6" y2="247.2" stroke="#666" stroke-width="1"/>
<line x1="746.6" y1="308.4" x2="746.6" y2="305.8" stroke="#666" stroke-width="1"/>
<line x1="751.8" y1="244.6" x2="751.8" y2="247.2" stroke="#666" stroke-width="1"/>
<line x1="751.8" y1="308.4" x2="751.8" y2="305.8" stroke="#666" stroke-width="1"/>
<line x1="757.0" y1="244.6" x2="757.0" y2="247.2" stroke="#666" stroke-width="1"/>
<line x1="757.0" y1="308.4" x2="757.0" y2="305.8" stroke="#666" stroke-width="1"/>
<line x1="762.2" y1="244.6" x2="762.2" y2="247.2" stroke="#666" stroke-width="1"/>
<line x1="762.2" y1="308.4" x2="762.2" y2="305.8" stroke="#666" stroke-width="1"/>
<line x1="767.5" y1="244.6" x2="767.5" y2="247.2" stroke="#666" stroke-width="1"/>
<line x1="767.5" y1="308.4" x2="767.5" y2="305.8" stroke="#666" stroke-width="1"/>
<line x1="772.7" y1="244.6" x2="772.7" y2="247.2" stroke="#666" stroke-width="1"/>
<line x1="772.7" y1="308.4" x2="772.7" y2="305.8" stroke="#666" stroke-width="1"/>
<line x1="777.9" y1="244.6" x2="777.9" y2="247.2" stroke="#666" stroke-width="1"/>
<line x1="777.9" y1="308.4" x2="777.9" y2="305.8" stroke="#666" stroke-width="1"/>
<line x1="783.1" y1="244.6" x2="783.1" y2="247.2" stroke="#666" stroke-width="1"/>
<line x1="783.1" y1="308.4" x2="783.1" y2="305.8" stroke="#666" stroke-width="1"/>
<line x1="788.3" y1="244.6" x2="788.3" y2="247.2" stroke="#666" stroke-width="1"/>
<line x1="788.3" y1="308.4" x2="788.3" y2="305.8" stroke="#666" stroke-width="1"/>
<line x1="793.5" y1="244.6" x2="793.5" y2="249.6" stroke="#666" stroke-width="1"/>
<line x1="793.5" y1="308.4" x2="793.5" y2="303.4" stroke="#666" stroke-width="1"/>
<line x1="798.7" y1="244.6" x2="798.7" y2="247.2" stroke="#666" stroke-width="1"/>
<line x1="798.7" y1="308.4" x2="798.7" y2="305.8" stroke="#666" stroke-width="1"/>
<line x1="803.9" y1="244.6" x2="803.9" y2="247.2" stroke="#666" stroke-width="1"/>
<line x1="803.9" y1="308.4" x2="803.9" y2="305.8" stroke="#666" stroke-width="1"/>
<line x1="809.1" y1="244.6" x2="809.1" y2="247.2" stroke="#666" stroke-width="1"/>
<line x1="809.1" y1="308.4" x2="809.1" y2="305.8" stroke="#666" stroke-width="1"/>
<line x1="814.3" y1="244.6" x2="814.3" y2="247.2" stroke="#666" stroke-width="1"/>
<line x1="814.3" y1="308.4" x2="814.3" y2="305.8" stroke="#666" stroke-width="1"/>
<line x1="819.5" y1="244.6" x2="819.5" y2="247.2" stroke="#666" stroke-width="1"/>
<line x1="819.5" y1="308.4" x2="819.5" y2="305.8" stroke="#666" stroke-width="1"/>
<line x1="824.8" y1="244.6" x2="824.8" y2="247.2" stroke="#666" stroke-width="1"/>
<line x1="824.8" y1="308.4" x2="824.8" y2="305.8" stroke="#666" stroke-width="1"/>
<line x1="830.0" y1="244.6" x2="830.0" y2="247.2" stroke="#666" stroke-width="1"/>
<line x1="830.0" y1="308.4" x2="830.0" y2="305.8" stroke="#666" stroke-width="1"/>
<line x1="835.2" y1="244.6" x2="835.2" y2="247.2" stroke="#666" stroke-width="1"/>
<line x1="835.2" y1="308.4" x2="835.2" y2="305.8" stroke="#666" stroke-width="1"/>
<line x1="840.4" y1="244.6" x2="840.4" y2="247.2" stroke="#666" stroke-width="1"/>
<line x1="840.4" y1="308.4" x2="840.4" y2="305.8" stroke="#666" stroke-width="1"/>
<line x1="845.6" y1="244.6" x2="845.6" y2="247.2" stroke="#666" stroke-width="1"/>
<line x1="845.6" y1="308.4" x2="845.6" y2="305.8" stroke="#666" stroke-width="1"/>
<line x1="850.8" y1="244.6" x2="850.8" y2="247.2" stroke="#666" stroke-width="1"/>
<line x1="850.8" y1="308.4" x2="850.8" y2="305.8" stroke="#666" stroke-width="1"/>
<line x1="856.0" y1="244.6" x2="856.0" y2="249.6" stroke="#666" stroke-width="1"/>
<line x1="856.0" y1="308.4" x2="856.0" y2="303.4" stroke="#666" stroke-width="1"/>
<line x1="861.2" y1="244.6" x2="861.2" y2="247.2" stroke="#666" stroke-width="1"/>
<line x1="861.2" y1="308.4" x2="861.2" y2="305.8" stroke="#666" stroke-width="1"/>
<line x1="866.4" y1="244.6" x2="866.4" y2="247.2" stroke="#666" stroke-width="1"/>
<line x1="866.4" y1="308.4" x2="866.4" y2="305.8" stroke="#666" stroke-width="1"/>
<line x1="871.6" y1="244.6" x2="871.6" y2="247.2" stroke="#666" stroke-width="1"/>
<line x1="871.6" y1="308.4" x2="871.6" y2="305.8" stroke="#666" stroke-width="1"/>
<line x1="876.8" y1="244.6" x2="876.8" y2="247.2" stroke="#666" stroke-width="1"/>
<line x1="876.8" y1="308.4" x2="876.8" y2="305.8" stroke="#666" stroke-width="1"/>
<line x1="882.0" y1="244.6" x2="882.0" y2="247.2" stroke="#666" stroke-width="1"/>
<line x1="882.0" y1="308.4" x2="882.0" y2="305.8" stroke="#666" stroke-width="1"/>
<line x1="887.2" y1="244.6" x2="887.2" y2="247.2" stroke="#666" stroke-width="1"/>
<line x1="887.2" y1="308.4" x2="887.2" y2="305.8" stroke="#666" stroke-width="1"/>
<line x1="892.5" y1="244.6" x2="892.5" y2="247.2" stroke="#666" stroke-width="1"/>
<line x1="892.5" y1="308.4" x2="892.5" y2="305.8" stroke="#666" stroke-width="1"/>
<line x1="897.7" y1="244.6" x2="897.7" y2="247.2" stroke="#666" stroke-width="1"/>
<line x1="897.7" y1="308.4" x2="897.7" y2="305.8" stroke="#666" stroke-width="1"/>
<line x1="902.9" y1="244.6" x2="902.9" y2="247.2" stroke="#666" stroke-width="1"/>
<line x1="902.9" y1="308.4" x2="902.9" y2="305.8" stroke="#666" stroke-width="1"/>
<line x1="908.1" y1="244.6" x2="908.1" y2="247.2" stroke="#666" stroke-width="1"/>
<line x1="908.1" y1="308.4" x2="908.1" y2="305.8" stroke="#666" stroke-width="1"/>
<line x1="913.3" y1="244.6" x2="913.3" y2="247.2" stroke="#666" stroke-width="1"/>
<line x1="913.3" y1="308.4" x2="913.3" y2="305.8" stroke="#666" stroke-width="1"/>
<line x1="918.5" y1="244.6" x2="918.5" y2="249.6" stroke="#666" stroke-width="1"/>
<line x1="918.5" y1="308.4" x2="918.5" y2="303.4" stroke="#666" stroke-width="1"/>
<line x1="923.7" y1="244.6" x2="923.7" y2="247.2" stroke="#666" stroke-width="1"/>
<line x1="923.7" y1="308.4" x2="923.7" y2="305.8" stroke="#666" stroke-width="1"/>
<line x1="928.9" y1="244.6" x2="928.9" y2="247.2" stroke="#666" stroke-width="1"/>
<line x1="928.9" y1="308.4" x2="928.9" y2="305.8" stroke="#666" stroke-width="1"/>
<line x1="934.1" y1="244.6" x2="934.1" y2="247.2" stroke="#666" stroke-width="1"/>
<line x1="934.1" y1="308.4" x2="934.1" y2="305.8" stroke="#666" stroke-width="1"/>
<line x1="939.3" y1="244.6" x2="939.3" y2="247.2" stroke="#666" stroke-width="1"/>
<line x1="939.3" y1="308.4" x2="939.3" y2="305.8" stroke="#666" stroke-width="1"/>
<line x1="944.5" y1="244.6" x2="944.5" y2="247.2" stroke="#666" stroke-width="1"/>
<line x1="944.5" y1="308.4" x2="944.5" y2="305.8" stroke="#666" stroke-width="1"/>
<line x1="949.8" y1="244.6" x2="949.8" y2="247.2" stroke="#666" stroke-width="1"/>
<line x1="949.8" y1="308.4" x2="949.8" y2="305.8" stroke="#666" stroke-width="1"/>
<line x1="955.0" y1="244.6" x2="955.0" y2="247.2" stroke="#666" stroke-width="1"/>
<line x1="955.0" y1="308.4" x2="955.0" y2="305.8" stroke="#666" stroke-width="1"/>
<line x1="960.2" y1="244.6" x2="960.2" y2="247.2" stroke="#666" stroke-width="1"/>
<line x1="960.2" y1="308.4" x2="960.2" y2="305.8" stroke="#666" stroke-width="1"/>
<line x1="965.4" y1="244.6" x2="965.4" y2="247.2" stroke="#666" stroke-width="1"/>
<line x1="965.4" y1="308.4" x2="965.4" y2="305.8" stroke="#666" stroke-width="1"/>
<line x1="970.6" y1="244.6" x2="970.6" y2="247.2" stroke="#666" stroke-width="1"/>
<line x1="970.6" y1="308.4" x2="970.6" y2="305.8" stroke="#666" stroke-width="1"/>
<line x1="975.8" y1="244.6" x2="975.8" y2="247.2" stroke="#666" stroke-width="1"/>
<line x1="975.8" y1="308.4" x2="975.8" y2="305.8" stroke="#666" stroke-width="1"/>
<line x1="981.0" y1="244.6" x2="981.0" y2="249.6" stroke="#666" stroke-width="1"/>
<line x1="981.0" y1="308.4" x2="981.0" y2="303.4" stroke="#666" stroke-width="1"/>
<line x1="986.2" y1="244.6" x2="986.2" y2="247.2" stroke="#666" stroke-width="1"/>
<line x1="986.2" y1="308.4" x2="986.2" y2="305.8" stroke="#666" stroke-width="1"/>
<line x1="991.4" y1="244.6" x2="991.4" y2="247.2" stroke="#666" stroke-width="1"/>
<line x1="991.4" y1="308.4" x2="991.4" y2="305.8" stroke="#666" stroke-width="1"/>
<line x1="996.6" y1="244.6" x2="996.6" y2="247.2" stroke="#666" stroke-width="1"/>
<line x1="996.6" y1="308.4" x2="996.6" y2="305.8" stroke="#666" stroke-width="1"/>
<line x1="1001.8" y1="244.6" x2="1001.8" y2="247.2" stroke="#666" stroke-width="1"/>
<line x1="1001.8" y1="308.4" x2="1001.8" y2="305.8" stroke="#666" stroke-width="1"/>
<line x1="1007.0" y1="244.6" x2="1007.0" y2="247.2" stroke="#666" stroke-width="1"/>
<line x1="1007.0" y1="308.4" x2="1007.0" y2="305.8" stroke="#666" stroke-width="1"/>
<line x1="1012.2" y1="244.6" x2="1012.2" y2="247.2" stroke="#666" stroke-width="1"/>
<line x1="1012.2" y1="308.4" x2="1012.2" y2="305.8" stroke="#666" stroke-width="1"/>
<line x1="1017.5" y1="244.6" x2="1017.5" y2="247.2" stroke="#666" stroke-width="1"/>
<line x1="1017.5" y1="308.4" x2="1017.5" y2="305.8" stroke="#666" stroke-width="1"/>
<line x1="1022.7" y1="244.6" x2="1022.7" y2="247.2" stroke="#666" stroke-width="1"/>
<line x1="1022.7" y1="308.4" x2="1022.7" y2="305.8" stroke="#666" stroke-width="1"/>
<line x1="1027.9" y1="244.6" x2="1027.9" y2="247.2" stroke="#666" stroke-width="1"/>
<line x1="1027.9" y1="308.4" x2="1027.9" y2="305.8" stroke="#666" stroke-width="1"/>
<line x1="1033.1" y1="244.6" x2="1033.1" y2="247.2" stroke="#666" stroke-width="1"/>
<line x1="1033.1" y1="308.4" x2="1033.1" y2="305.8" stroke="#666" stroke-width="1"/>
<line x1="1038.3" y1="244.6" x2="1038.3" y2="247.2" stroke="#666" stroke-width="1"/>
<line x1="1038.3" y1="308.4" x2="1038.3" y2="305.8" stroke="#666" stroke-width="1"/>
<line x1="606.0" y1="292.1" x2="611.0" y2="292.1" stroke="#666" stroke-width="1"/>
<line x1="1038.5" y1="292.1" x2="1043.5" y2="292.1" stroke="#666" stroke-width="1"/>
<line x1="606.0" y1="276.1" x2="611.0" y2="276.1" stroke="#666" stroke-width="1"/>
<line x1="1038.5" y1="276.1" x2="1043.5" y2="276.1" stroke="#666" stroke-width="1"/>
<line x1="606.0" y1="260.1" x2="611.0" y2="260.1" stroke="#666" stroke-width="1"/>
<line x1="1038.5" y1="260.1" x2="1043.5" y2="260.1" stroke="#666" stroke-width="1"/>
<text x="599.3" y="296.7" text-anchor="end" class="tl">10</text>
<text x="599.3" y="264.7" text-anchor="end" class="tl">30</text>
<rect x="606.0" y="321.5" width="437.5" height="63.8" fill="none" stroke="#777" stroke-width="1.2"/>
<line x1="611.2" y1="321.5" x2="611.2" y2="324.1" stroke="#666" stroke-width="1"/>
<line x1="611.2" y1="385.3" x2="611.2" y2="382.7" stroke="#666" stroke-width="1"/>
<line x1="616.4" y1="321.5" x2="616.4" y2="324.1" stroke="#666" stroke-width="1"/>
<line x1="616.4" y1="385.3" x2="616.4" y2="382.7" stroke="#666" stroke-width="1"/>
<line x1="621.6" y1="321.5" x2="621.6" y2="324.1" stroke="#666" stroke-width="1"/>
<line x1="621.6" y1="385.3" x2="621.6" y2="382.7" stroke="#666" stroke-width="1"/>
<line x1="626.8" y1="321.5" x2="626.8" y2="324.1" stroke="#666" stroke-width="1"/>
<line x1="626.8" y1="385.3" x2="626.8" y2="382.7" stroke="#666" stroke-width="1"/>
<line x1="632.0" y1="321.5" x2="632.0" y2="324.1" stroke="#666" stroke-width="1"/>
<line x1="632.0" y1="385.3" x2="632.0" y2="382.7" stroke="#666" stroke-width="1"/>
<line x1="637.2" y1="321.5" x2="637.2" y2="324.1" stroke="#666" stroke-width="1"/>
<line x1="637.2" y1="385.3" x2="637.2" y2="382.7" stroke="#666" stroke-width="1"/>
<line x1="642.5" y1="321.5" x2="642.5" y2="324.1" stroke="#666" stroke-width="1"/>
<line x1="642.5" y1="385.3" x2="642.5" y2="382.7" stroke="#666" stroke-width="1"/>
<line x1="647.7" y1="321.5" x2="647.7" y2="324.1" stroke="#666" stroke-width="1"/>
<line x1="647.7" y1="385.3" x2="647.7" y2="382.7" stroke="#666" stroke-width="1"/>
<line x1="652.9" y1="321.5" x2="652.9" y2="324.1" stroke="#666" stroke-width="1"/>
<line x1="652.9" y1="385.3" x2="652.9" y2="382.7" stroke="#666" stroke-width="1"/>
<line x1="658.1" y1="321.5" x2="658.1" y2="324.1" stroke="#666" stroke-width="1"/>
<line x1="658.1" y1="385.3" x2="658.1" y2="382.7" stroke="#666" stroke-width="1"/>
<line x1="663.3" y1="321.5" x2="663.3" y2="324.1" stroke="#666" stroke-width="1"/>
<line x1="663.3" y1="385.3" x2="663.3" y2="382.7" stroke="#666" stroke-width="1"/>
<line x1="668.5" y1="321.5" x2="668.5" y2="326.5" stroke="#666" stroke-width="1"/>
<line x1="668.5" y1="385.3" x2="668.5" y2="380.3" stroke="#666" stroke-width="1"/>
<line x1="673.7" y1="321.5" x2="673.7" y2="324.1" stroke="#666" stroke-width="1"/>
<line x1="673.7" y1="385.3" x2="673.7" y2="382.7" stroke="#666" stroke-width="1"/>
<line x1="678.9" y1="321.5" x2="678.9" y2="324.1" stroke="#666" stroke-width="1"/>
<line x1="678.9" y1="385.3" x2="678.9" y2="382.7" stroke="#666" stroke-width="1"/>
<line x1="684.1" y1="321.5" x2="684.1" y2="324.1" stroke="#666" stroke-width="1"/>
<line x1="684.1" y1="385.3" x2="684.1" y2="382.7" stroke="#666" stroke-width="1"/>
<line x1="689.3" y1="321.5" x2="689.3" y2="324.1" stroke="#666" stroke-width="1"/>
<line x1="689.3" y1="385.3" x2="689.3" y2="382.7" stroke="#666" stroke-width="1"/>
<line x1="694.5" y1="321.5" x2="694.5" y2="324.1" stroke="#666" stroke-width="1"/>
<line x1="694.5" y1="385.3" x2="694.5" y2="382.7" stroke="#666" stroke-width="1"/>
<line x1="699.8" y1="321.5" x2="699.8" y2="324.1" stroke="#666" stroke-width="1"/>
<line x1="699.8" y1="385.3" x2="699.8" y2="382.7" stroke="#666" stroke-width="1"/>
<line x1="705.0" y1="321.5" x2="705.0" y2="324.1" stroke="#666" stroke-width="1"/>
<line x1="705.0" y1="385.3" x2="705.0" y2="382.7" stroke="#666" stroke-width="1"/>
<line x1="710.2" y1="321.5" x2="710.2" y2="324.1" stroke="#666" stroke-width="1"/>
<line x1="710.2" y1="385.3" x2="710.2" y2="382.7" stroke="#666" stroke-width="1"/>
<line x1="715.4" y1="321.5" x2="715.4" y2="324.1" stroke="#666" stroke-width="1"/>
<line x1="715.4" y1="385.3" x2="715.4" y2="382.7" stroke="#666" stroke-width="1"/>
<line x1="720.6" y1="321.5" x2="720.6" y2="324.1" stroke="#666" stroke-width="1"/>
<line x1="720.6" y1="385.3" x2="720.6" y2="382.7" stroke="#666" stroke-width="1"/>
<line x1="725.8" y1="321.5" x2="725.8" y2="324.1" stroke="#666" stroke-width="1"/>
<line x1="725.8" y1="385.3" x2="725.8" y2="382.7" stroke="#666" stroke-width="1"/>
<line x1="731.0" y1="321.5" x2="731.0" y2="326.5" stroke="#666" stroke-width="1"/>
<line x1="731.0" y1="385.3" x2="731.0" y2="380.3" stroke="#666" stroke-width="1"/>
<line x1="736.2" y1="321.5" x2="736.2" y2="324.1" stroke="#666" stroke-width="1"/>
<line x1="736.2" y1="385.3" x2="736.2" y2="382.7" stroke="#666" stroke-width="1"/>
<line x1="741.4" y1="321.5" x2="741.4" y2="324.1" stroke="#666" stroke-width="1"/>
<line x1="741.4" y1="385.3" x2="741.4" y2="382.7" stroke="#666" stroke-width="1"/>
<line x1="746.6" y1="321.5" x2="746.6" y2="324.1" stroke="#666" stroke-width="1"/>
<line x1="746.6" y1="385.3" x2="746.6" y2="382.7" stroke="#666" stroke-width="1"/>
<line x1="751.8" y1="321.5" x2="751.8" y2="324.1" stroke="#666" stroke-width="1"/>
<line x1="751.8" y1="385.3" x2="751.8" y2="382.7" stroke="#666" stroke-width="1"/>
<line x1="757.0" y1="321.5" x2="757.0" y2="324.1" stroke="#666" stroke-width="1"/>
<line x1="757.0" y1="385.3" x2="757.0" y2="382.7" stroke="#666" stroke-width="1"/>
<line x1="762.2" y1="321.5" x2="762.2" y2="324.1" stroke="#666" stroke-width="1"/>
<line x1="762.2" y1="385.3" x2="762.2" y2="382.7" stroke="#666" stroke-width="1"/>
<line x1="767.5" y1="321.5" x2="767.5" y2="324.1" stroke="#666" stroke-width="1"/>
<line x1="767.5" y1="385.3" x2="767.5" y2="382.7" stroke="#666" stroke-width="1"/>
<line x1="772.7" y1="321.5" x2="772.7" y2="324.1" stroke="#666" stroke-width="1"/>
<line x1="772.7" y1="385.3" x2="772.7" y2="382.7" stroke="#666" stroke-width="1"/>
<line x1="777.9" y1="321.5" x2="777.9" y2="324.1" stroke="#666" stroke-width="1"/>
<line x1="777.9" y1="385.3" x2="777.9" y2="382.7" stroke="#666" stroke-width="1"/>
<line x1="783.1" y1="321.5" x2="783.1" y2="324.1" stroke="#666" stroke-width="1"/>
<line x1="783.1" y1="385.3" x2="783.1" y2="382.7" stroke="#666" stroke-width="1"/>
<line x1="788.3" y1="321.5" x2="788.3" y2="324.1" stroke="#666" stroke-width="1"/>
<line x1="788.3" y1="385.3" x2="788.3" y2="382.7" stroke="#666" stroke-width="1"/>
<line x1="793.5" y1="321.5" x2="793.5" y2="326.5" stroke="#666" stroke-width="1"/>
<line x1="793.5" y1="385.3" x2="793.5" y2="380.3" stroke="#666" stroke-width="1"/>
<line x1="798.7" y1="321.5" x2="798.7" y2="324.1" stroke="#666" stroke-width="1"/>
<line x1="798.7" y1="385.3" x2="798.7" y2="382.7" stroke="#666" stroke-width="1"/>
<line x1="803.9" y1="321.5" x2="803.9" y2="324.1" stroke="#666" stroke-width="1"/>
<line x1="803.9" y1="385.3" x2="803.9" y2="382.7" stroke="#666" stroke-width="1"/>
<line x1="809.1" y1="321.5" x2="809.1" y2="324.1" stroke="#666" stroke-width="1"/>
<line x1="809.1" y1="385.3" x2="809.1" y2="382.7" stroke="#666" stroke-width="1"/>
<line x1="814.3" y1="321.5" x2="814.3" y2="324.1" stroke="#666" stroke-width="1"/>
<line x1="814.3" y1="385.3" x2="814.3" y2="382.7" stroke="#666" stroke-width="1"/>
<line x1="819.5" y1="321.5" x2="819.5" y2="324.1" stroke="#666" stroke-width="1"/>
<line x1="819.5" y1="385.3" x2="819.5" y2="382.7" stroke="#666" stroke-width="1"/>
<line x1="824.8" y1="321.5" x2="824.8" y2="324.1" stroke="#666" stroke-width="1"/>
<line x1="824.8" y1="385.3" x2="824.8" y2="382.7" stroke="#666" stroke-width="1"/>
<line x1="830.0" y1="321.5" x2="830.0" y2="324.1" stroke="#666" stroke-width="1"/>
<line x1="830.0" y1="385.3" x2="830.0" y2="382.7" stroke="#666" stroke-width="1"/>
<line x1="835.2" y1="321.5" x2="835.2" y2="324.1" stroke="#666" stroke-width="1"/>
<line x1="835.2" y1="385.3" x2="835.2" y2="382.7" stroke="#666" stroke-width="1"/>
<line x1="840.4" y1="321.5" x2="840.4" y2="324.1" stroke="#666" stroke-width="1"/>
<line x1="840.4" y1="385.3" x2="840.4" y2="382.7" stroke="#666" stroke-width="1"/>
<line x1="845.6" y1="321.5" x2="845.6" y2="324.1" stroke="#666" stroke-width="1"/>
<line x1="845.6" y1="385.3" x2="845.6" y2="382.7" stroke="#666" stroke-width="1"/>
<line x1="850.8" y1="321.5" x2="850.8" y2="324.1" stroke="#666" stroke-width="1"/>
<line x1="850.8" y1="385.3" x2="850.8" y2="382.7" stroke="#666" stroke-width="1"/>
<line x1="856.0" y1="321.5" x2="856.0" y2="326.5" stroke="#666" stroke-width="1"/>
<line x1="856.0" y1="385.3" x2="856.0" y2="380.3" stroke="#666" stroke-width="1"/>
<line x1="861.2" y1="321.5" x2="861.2" y2="324.1" stroke="#666" stroke-width="1"/>
<line x1="861.2" y1="385.3" x2="861.2" y2="382.7" stroke="#666" stroke-width="1"/>
<line x1="866.4" y1="321.5" x2="866.4" y2="324.1" stroke="#666" stroke-width="1"/>
<line x1="866.4" y1="385.3" x2="866.4" y2="382.7" stroke="#666" stroke-width="1"/>
<line x1="871.6" y1="321.5" x2="871.6" y2="324.1" stroke="#666" stroke-width="1"/>
<line x1="871.6" y1="385.3" x2="871.6" y2="382.7" stroke="#666" stroke-width="1"/>
<line x1="876.8" y1="321.5" x2="876.8" y2="324.1" stroke="#666" stroke-width="1"/>
<line x1="876.8" y1="385.3" x2="876.8" y2="382.7" stroke="#666" stroke-width="1"/>
<line x1="882.0" y1="321.5" x2="882.0" y2="324.1" stroke="#666" stroke-width="1"/>
<line x1="882.0" y1="385.3" x2="882.0" y2="382.7" stroke="#666" stroke-width="1"/>
<line x1="887.2" y1="321.5" x2="887.2" y2="324.1" stroke="#666" stroke-width="1"/>
<line x1="887.2" y1="385.3" x2="887.2" y2="382.7" stroke="#666" stroke-width="1"/>
<line x1="892.5" y1="321.5" x2="892.5" y2="324.1" stroke="#666" stroke-width="1"/>
<line x1="892.5" y1="385.3" x2="892.5" y2="382.7" stroke="#666" stroke-width="1"/>
<line x1="897.7" y1="321.5" x2="897.7" y2="324.1" stroke="#666" stroke-width="1"/>
<line x1="897.7" y1="385.3" x2="897.7" y2="382.7" stroke="#666" stroke-width="1"/>
<line x1="902.9" y1="321.5" x2="902.9" y2="324.1" stroke="#666" stroke-width="1"/>
<line x1="902.9" y1="385.3" x2="902.9" y2="382.7" stroke="#666" stroke-width="1"/>
<line x1="908.1" y1="321.5" x2="908.1" y2="324.1" stroke="#666" stroke-width="1"/>
<line x1="908.1" y1="385.3" x2="908.1" y2="382.7" stroke="#666" stroke-width="1"/>
<line x1="913.3" y1="321.5" x2="913.3" y2="324.1" stroke="#666" stroke-width="1"/>
<line x1="913.3" y1="385.3" x2="913.3" y2="382.7" stroke="#666" stroke-width="1"/>
<line x1="918.5" y1="321.5" x2="918.5" y2="326.5" stroke="#666" stroke-width="1"/>
<line x1="918.5" y1="385.3" x2="918.5" y2="380.3" stroke="#666" stroke-width="1"/>
<line x1="923.7" y1="321.5" x2="923.7" y2="324.1" stroke="#666" stroke-width="1"/>
<line x1="923.7" y1="385.3" x2="923.7" y2="382.7" stroke="#666" stroke-width="1"/>
<line x1="928.9" y1="321.5" x2="928.9" y2="324.1" stroke="#666" stroke-width="1"/>
<line x1="928.9" y1="385.3" x2="928.9" y2="382.7" stroke="#666" stroke-width="1"/>
<line x1="934.1" y1="321.5" x2="934.1" y2="324.1" stroke="#666" stroke-width="1"/>
<line x1="934.1" y1="385.3" x2="934.1" y2="382.7" stroke="#666" stroke-width="1"/>
<line x1="939.3" y1="321.5" x2="939.3" y2="324.1" stroke="#666" stroke-width="1"/>
<line x1="939.3" y1="385.3" x2="939.3" y2="382.7" stroke="#666" stroke-width="1"/>
<line x1="944.5" y1="321.5" x2="944.5" y2="324.1" stroke="#666" stroke-width="1"/>
<line x1="944.5" y1="385.3" x2="944.5" y2="382.7" stroke="#666" stroke-width="1"/>
<line x1="949.8" y1="321.5" x2="949.8" y2="324.1" stroke="#666" stroke-width="1"/>
<line x1="949.8" y1="385.3" x2="949.8" y2="382.7" stroke="#666" stroke-width="1"/>
<line x1="955.0" y1="321.5" x2="955.0" y2="324.1" stroke="#666" stroke-width="1"/>
<line x1="955.0" y1="385.3" x2="955.0" y2="382.7" stroke="#666" stroke-width="1"/>
<line x1="960.2" y1="321.5" x2="960.2" y2="324.1" stroke="#666" stroke-width="1"/>
<line x1="960.2" y1="385.3" x2="960.2" y2="382.7" stroke="#666" stroke-width="1"/>
<line x1="965.4" y1="321.5" x2="965.4" y2="324.1" stroke="#666" stroke-width="1"/>
<line x1="965.4" y1="385.3" x2="965.4" y2="382.7" stroke="#666" stroke-width="1"/>
<line x1="970.6" y1="321.5" x2="970.6" y2="324.1" stroke="#666" stroke-width="1"/>
<line x1="970.6" y1="385.3" x2="970.6" y2="382.7" stroke="#666" stroke-width="1"/>
<line x1="975.8" y1="321.5" x2="975.8" y2="324.1" stroke="#666" stroke-width="1"/>
<line x1="975.8" y1="385.3" x2="975.8" y2="382.7" stroke="#666" stroke-width="1"/>
<line x1="981.0" y1="321.5" x2="981.0" y2="326.5" stroke="#666" stroke-width="1"/>
<line x1="981.0" y1="385.3" x2="981.0" y2="380.3" stroke="#666" stroke-width="1"/>
<line x1="986.2" y1="321.5" x2="986.2" y2="324.1" stroke="#666" stroke-width="1"/>
<line x1="986.2" y1="385.3" x2="986.2" y2="382.7" stroke="#666" stroke-width="1"/>
<line x1="991.4" y1="321.5" x2="991.4" y2="324.1" stroke="#666" stroke-width="1"/>
<line x1="991.4" y1="385.3" x2="991.4" y2="382.7" stroke="#666" stroke-width="1"/>
<line x1="996.6" y1="321.5" x2="996.6" y2="324.1" stroke="#666" stroke-width="1"/>
<line x1="996.6" y1="385.3" x2="996.6" y2="382.7" stroke="#666" stroke-width="1"/>
<line x1="1001.8" y1="321.5" x2="1001.8" y2="324.1" stroke="#666" stroke-width="1"/>
<line x1="1001.8" y1="385.3" x2="1001.8" y2="382.7" stroke="#666" stroke-width="1"/>
<line x1="1007.0" y1="321.5" x2="1007.0" y2="324.1" stroke="#666" stroke-width="1"/>
<line x1="1007.0" y1="385.3" x2="1007.0" y2="382.7" stroke="#666" stroke-width="1"/>
<line x1="1012.2" y1="321.5" x2="1012.2" y2="324.1" stroke="#666" stroke-width="1"/>
<line x1="1012.2" y1="385.3" x2="1012.2" y2="382.7" stroke="#666" stroke-width="1"/>
<line x1="1017.5" y1="321.5" x2="1017.5" y2="324.1" stroke="#666" stroke-width="1"/>
<line x1="1017.5" y1="385.3" x2="1017.5" y2="382.7" stroke="#666" stroke-width="1"/>
<line x1="1022.7" y1="321.5" x2="1022.7" y2="324.1" stroke="#666" stroke-width="1"/>
<line x1="1022.7" y1="385.3" x2="1022.7" y2="382.7" stroke="#666" stroke-width="1"/>
<line x1="1027.9" y1="321.5" x2="1027.9" y2="324.1" stroke="#666" stroke-width="1"/>
<line x1="1027.9" y1="385.3" x2="1027.9" y2="382.7" stroke="#666" stroke-width="1"/>
<line x1="1033.1" y1="321.5" x2="1033.1" y2="324.1" stroke="#666" stroke-width="1"/>
<line x1="1033.1" y1="385.3" x2="1033.1" y2="382.7" stroke="#666" stroke-width="1"/>
<line x1="1038.3" y1="321.5" x2="1038.3" y2="324.1" stroke="#666" stroke-width="1"/>
<line x1="1038.3" y1="385.3" x2="1038.3" y2="382.7" stroke="#666" stroke-width="1"/>
<line x1="606.0" y1="369.0" x2="611.0" y2="369.0" stroke="#666" stroke-width="1"/>
<line x1="1038.5" y1="369.0" x2="1043.5" y2="369.0" stroke="#666" stroke-width="1"/>
<line x1="606.0" y1="353.0" x2="611.0" y2="353.0" stroke="#666" stroke-width="1"/>
<line x1="1038.5" y1="353.0" x2="1043.5" y2="353.0" stroke="#666" stroke-width="1"/>
<line x1="606.0" y1="337.0" x2="611.0" y2="337.0" stroke="#666" stroke-width="1"/>
<line x1="1038.5" y1="337.0" x2="1043.5" y2="337.0" stroke="#666" stroke-width="1"/>
<text x="599.3" y="373.6" text-anchor="end" class="tl">10</text>
<text x="599.3" y="341.6" text-anchor="end" class="tl">30</text>
<rect x="606.0" y="398.6" width="437.5" height="63.6" fill="none" stroke="#777" stroke-width="1.2"/>
<line x1="611.2" y1="398.6" x2="611.2" y2="401.2" stroke="#666" stroke-width="1"/>
<line x1="611.2" y1="462.2" x2="611.2" y2="459.6" stroke="#666" stroke-width="1"/>
<line x1="616.4" y1="398.6" x2="616.4" y2="401.2" stroke="#666" stroke-width="1"/>
<line x1="616.4" y1="462.2" x2="616.4" y2="459.6" stroke="#666" stroke-width="1"/>
<line x1="621.6" y1="398.6" x2="621.6" y2="401.2" stroke="#666" stroke-width="1"/>
<line x1="621.6" y1="462.2" x2="621.6" y2="459.6" stroke="#666" stroke-width="1"/>
<line x1="626.8" y1="398.6" x2="626.8" y2="401.2" stroke="#666" stroke-width="1"/>
<line x1="626.8" y1="462.2" x2="626.8" y2="459.6" stroke="#666" stroke-width="1"/>
<line x1="632.0" y1="398.6" x2="632.0" y2="401.2" stroke="#666" stroke-width="1"/>
<line x1="632.0" y1="462.2" x2="632.0" y2="459.6" stroke="#666" stroke-width="1"/>
<line x1="637.2" y1="398.6" x2="637.2" y2="401.2" stroke="#666" stroke-width="1"/>
<line x1="637.2" y1="462.2" x2="637.2" y2="459.6" stroke="#666" stroke-width="1"/>
<line x1="642.5" y1="398.6" x2="642.5" y2="401.2" stroke="#666" stroke-width="1"/>
<line x1="642.5" y1="462.2" x2="642.5" y2="459.6" stroke="#666" stroke-width="1"/>
<line x1="647.7" y1="398.6" x2="647.7" y2="401.2" stroke="#666" stroke-width="1"/>
<line x1="647.7" y1="462.2" x2="647.7" y2="459.6" stroke="#666" stroke-width="1"/>
<line x1="652.9" y1="398.6" x2="652.9" y2="401.2" stroke="#666" stroke-width="1"/>
<line x1="652.9" y1="462.2" x2="652.9" y2="459.6" stroke="#666" stroke-width="1"/>
<line x1="658.1" y1="398.6" x2="658.1" y2="401.2" stroke="#666" stroke-width="1"/>
<line x1="658.1" y1="462.2" x2="658.1" y2="459.6" stroke="#666" stroke-width="1"/>
<line x1="663.3" y1="398.6" x2="663.3" y2="401.2" stroke="#666" stroke-width="1"/>
<line x1="663.3" y1="462.2" x2="663.3" y2="459.6" stroke="#666" stroke-width="1"/>
<line x1="668.5" y1="398.6" x2="668.5" y2="403.6" stroke="#666" stroke-width="1"/>
<line x1="668.5" y1="462.2" x2="668.5" y2="457.2" stroke="#666" stroke-width="1"/>
<line x1="673.7" y1="398.6" x2="673.7" y2="401.2" stroke="#666" stroke-width="1"/>
<line x1="673.7" y1="462.2" x2="673.7" y2="459.6" stroke="#666" stroke-width="1"/>
<line x1="678.9" y1="398.6" x2="678.9" y2="401.2" stroke="#666" stroke-width="1"/>
<line x1="678.9" y1="462.2" x2="678.9" y2="459.6" stroke="#666" stroke-width="1"/>
<line x1="684.1" y1="398.6" x2="684.1" y2="401.2" stroke="#666" stroke-width="1"/>
<line x1="684.1" y1="462.2" x2="684.1" y2="459.6" stroke="#666" stroke-width="1"/>
<line x1="689.3" y1="398.6" x2="689.3" y2="401.2" stroke="#666" stroke-width="1"/>
<line x1="689.3" y1="462.2" x2="689.3" y2="459.6" stroke="#666" stroke-width="1"/>
<line x1="694.5" y1="398.6" x2="694.5" y2="401.2" stroke="#666" stroke-width="1"/>
<line x1="694.5" y1="462.2" x2="694.5" y2="459.6" stroke="#666" stroke-width="1"/>
<line x1="699.8" y1="398.6" x2="699.8" y2="401.2" stroke="#666" stroke-width="1"/>
<line x1="699.8" y1="462.2" x2="699.8" y2="459.6" stroke="#666" stroke-width="1"/>
<line x1="705.0" y1="398.6" x2="705.0" y2="401.2" stroke="#666" stroke-width="1"/>
<line x1="705.0" y1="462.2" x2="705.0" y2="459.6" stroke="#666" stroke-width="1"/>
<line x1="710.2" y1="398.6" x2="710.2" y2="401.2" stroke="#666" stroke-width="1"/>
<line x1="710.2" y1="462.2" x2="710.2" y2="459.6" stroke="#666" stroke-width="1"/>
<line x1="715.4" y1="398.6" x2="715.4" y2="401.2" stroke="#666" stroke-width="1"/>
<line x1="715.4" y1="462.2" x2="715.4" y2="459.6" stroke="#666" stroke-width="1"/>
<line x1="720.6" y1="398.6" x2="720.6" y2="401.2" stroke="#666" stroke-width="1"/>
<line x1="720.6" y1="462.2" x2="720.6" y2="459.6" stroke="#666" stroke-width="1"/>
<line x1="725.8" y1="398.6" x2="725.8" y2="401.2" stroke="#666" stroke-width="1"/>
<line x1="725.8" y1="462.2" x2="725.8" y2="459.6" stroke="#666" stroke-width="1"/>
<line x1="731.0" y1="398.6" x2="731.0" y2="403.6" stroke="#666" stroke-width="1"/>
<line x1="731.0" y1="462.2" x2="731.0" y2="457.2" stroke="#666" stroke-width="1"/>
<line x1="736.2" y1="398.6" x2="736.2" y2="401.2" stroke="#666" stroke-width="1"/>
<line x1="736.2" y1="462.2" x2="736.2" y2="459.6" stroke="#666" stroke-width="1"/>
<line x1="741.4" y1="398.6" x2="741.4" y2="401.2" stroke="#666" stroke-width="1"/>
<line x1="741.4" y1="462.2" x2="741.4" y2="459.6" stroke="#666" stroke-width="1"/>
<line x1="746.6" y1="398.6" x2="746.6" y2="401.2" stroke="#666" stroke-width="1"/>
<line x1="746.6" y1="462.2" x2="746.6" y2="459.6" stroke="#666" stroke-width="1"/>
<line x1="751.8" y1="398.6" x2="751.8" y2="401.2" stroke="#666" stroke-width="1"/>
<line x1="751.8" y1="462.2" x2="751.8" y2="459.6" stroke="#666" stroke-width="1"/>
<line x1="757.0" y1="398.6" x2="757.0" y2="401.2" stroke="#666" stroke-width="1"/>
<line x1="757.0" y1="462.2" x2="757.0" y2="459.6" stroke="#666" stroke-width="1"/>
<line x1="762.2" y1="398.6" x2="762.2" y2="401.2" stroke="#666" stroke-width="1"/>
<line x1="762.2" y1="462.2" x2="762.2" y2="459.6" stroke="#666" stroke-width="1"/>
<line x1="767.5" y1="398.6" x2="767.5" y2="401.2" stroke="#666" stroke-width="1"/>
<line x1="767.5" y1="462.2" x2="767.5" y2="459.6" stroke="#666" stroke-width="1"/>
<line x1="772.7" y1="398.6" x2="772.7" y2="401.2" stroke="#666" stroke-width="1"/>
<line x1="772.7" y1="462.2" x2="772.7" y2="459.6" stroke="#666" stroke-width="1"/>
<line x1="777.9" y1="398.6" x2="777.9" y2="401.2" stroke="#666" stroke-width="1"/>
<line x1="777.9" y1="462.2" x2="777.9" y2="459.6" stroke="#666" stroke-width="1"/>
<line x1="783.1" y1="398.6" x2="783.1" y2="401.2" stroke="#666" stroke-width="1"/>
<line x1="783.1" y1="462.2" x2="783.1" y2="459.6" stroke="#666" stroke-width="1"/>
<line x1="788.3" y1="398.6" x2="788.3" y2="401.2" stroke="#666" stroke-width="1"/>
<line x1="788.3" y1="462.2" x2="788.3" y2="459.6" stroke="#666" stroke-width="1"/>
<line x1="793.5" y1="398.6" x2="793.5" y2="403.6" stroke="#666" stroke-width="1"/>
<line x1="793.5" y1="462.2" x2="793.5" y2="457.2" stroke="#666" stroke-width="1"/>
<line x1="798.7" y1="398.6" x2="798.7" y2="401.2" stroke="#666" stroke-width="1"/>
<line x1="798.7" y1="462.2" x2="798.7" y2="459.6" stroke="#666" stroke-width="1"/>
<line x1="803.9" y1="398.6" x2="803.9" y2="401.2" stroke="#666" stroke-width="1"/>
<line x1="803.9" y1="462.2" x2="803.9" y2="459.6" stroke="#666" stroke-width="1"/>
<line x1="809.1" y1="398.6" x2="809.1" y2="401.2" stroke="#666" stroke-width="1"/>
<line x1="809.1" y1="462.2" x2="809.1" y2="459.6" stroke="#666" stroke-width="1"/>
<line x1="814.3" y1="398.6" x2="814.3" y2="401.2" stroke="#666" stroke-width="1"/>
<line x1="814.3" y1="462.2" x2="814.3" y2="459.6" stroke="#666" stroke-width="1"/>
<line x1="819.5" y1="398.6" x2="819.5" y2="401.2" stroke="#666" stroke-width="1"/>
<line x1="819.5" y1="462.2" x2="819.5" y2="459.6" stroke="#666" stroke-width="1"/>
<line x1="824.8" y1="398.6" x2="824.8" y2="401.2" stroke="#666" stroke-width="1"/>
<line x1="824.8" y1="462.2" x2="824.8" y2="459.6" stroke="#666" stroke-width="1"/>
<line x1="830.0" y1="398.6" x2="830.0" y2="401.2" stroke="#666" stroke-width="1"/>
<line x1="830.0" y1="462.2" x2="830.0" y2="459.6" stroke="#666" stroke-width="1"/>
<line x1="835.2" y1="398.6" x2="835.2" y2="401.2" stroke="#666" stroke-width="1"/>
<line x1="835.2" y1="462.2" x2="835.2" y2="459.6" stroke="#666" stroke-width="1"/>
<line x1="840.4" y1="398.6" x2="840.4" y2="401.2" stroke="#666" stroke-width="1"/>
<line x1="840.4" y1="462.2" x2="840.4" y2="459.6" stroke="#666" stroke-width="1"/>
<line x1="845.6" y1="398.6" x2="845.6" y2="401.2" stroke="#666" stroke-width="1"/>
<line x1="845.6" y1="462.2" x2="845.6" y2="459.6" stroke="#666" stroke-width="1"/>
<line x1="850.8" y1="398.6" x2="850.8" y2="401.2" stroke="#666" stroke-width="1"/>
<line x1="850.8" y1="462.2" x2="850.8" y2="459.6" stroke="#666" stroke-width="1"/>
<line x1="856.0" y1="398.6" x2="856.0" y2="403.6" stroke="#666" stroke-width="1"/>
<line x1="856.0" y1="462.2" x2="856.0" y2="457.2" stroke="#666" stroke-width="1"/>
<line x1="861.2" y1="398.6" x2="861.2" y2="401.2" stroke="#666" stroke-width="1"/>
<line x1="861.2" y1="462.2" x2="861.2" y2="459.6" stroke="#666" stroke-width="1"/>
<line x1="866.4" y1="398.6" x2="866.4" y2="401.2" stroke="#666" stroke-width="1"/>
<line x1="866.4" y1="462.2" x2="866.4" y2="459.6" stroke="#666" stroke-width="1"/>
<line x1="871.6" y1="398.6" x2="871.6" y2="401.2" stroke="#666" stroke-width="1"/>
<line x1="871.6" y1="462.2" x2="871.6" y2="459.6" stroke="#666" stroke-width="1"/>
<line x1="876.8" y1="398.6" x2="876.8" y2="401.2" stroke="#666" stroke-width="1"/>
<line x1="876.8" y1="462.2" x2="876.8" y2="459.6" stroke="#666" stroke-width="1"/>
<line x1="882.0" y1="398.6" x2="882.0" y2="401.2" stroke="#666" stroke-width="1"/>
<line x1="882.0" y1="462.2" x2="882.0" y2="459.6" stroke="#666" stroke-width="1"/>
<line x1="887.2" y1="398.6" x2="887.2" y2="401.2" stroke="#666" stroke-width="1"/>
<line x1="887.2" y1="462.2" x2="887.2" y2="459.6" stroke="#666" stroke-width="1"/>
<line x1="892.5" y1="398.6" x2="892.5" y2="401.2" stroke="#666" stroke-width="1"/>
<line x1="892.5" y1="462.2" x2="892.5" y2="459.6" stroke="#666" stroke-width="1"/>
<line x1="897.7" y1="398.6" x2="897.7" y2="401.2" stroke="#666" stroke-width="1"/>
<line x1="897.7" y1="462.2" x2="897.7" y2="459.6" stroke="#666" stroke-width="1"/>
<line x1="902.9" y1="398.6" x2="902.9" y2="401.2" stroke="#666" stroke-width="1"/>
<line x1="902.9" y1="462.2" x2="902.9" y2="459.6" stroke="#666" stroke-width="1"/>
<line x1="908.1" y1="398.6" x2="908.1" y2="401.2" stroke="#666" stroke-width="1"/>
<line x1="908.1" y1="462.2" x2="908.1" y2="459.6" stroke="#666" stroke-width="1"/>
<line x1="913.3" y1="398.6" x2="913.3" y2="401.2" stroke="#666" stroke-width="1"/>
<line x1="913.3" y1="462.2" x2="913.3" y2="459.6" stroke="#666" stroke-width="1"/>
<line x1="918.5" y1="398.6" x2="918.5" y2="403.6" stroke="#666" stroke-width="1"/>
<line x1="918.5" y1="462.2" x2="918.5" y2="457.2" stroke="#666" stroke-width="1"/>
<line x1="923.7" y1="398.6" x2="923.7" y2="401.2" stroke="#666" stroke-width="1"/>
<line x1="923.7" y1="462.2" x2="923.7" y2="459.6" stroke="#666" stroke-width="1"/>
<line x1="928.9" y1="398.6" x2="928.9" y2="401.2" stroke="#666" stroke-width="1"/>
<line x1="928.9" y1="462.2" x2="928.9" y2="459.6" stroke="#666" stroke-width="1"/>
<line x1="934.1" y1="398.6" x2="934.1" y2="401.2" stroke="#666" stroke-width="1"/>
<line x1="934.1" y1="462.2" x2="934.1" y2="459.6" stroke="#666" stroke-width="1"/>
<line x1="939.3" y1="398.6" x2="939.3" y2="401.2" stroke="#666" stroke-width="1"/>
<line x1="939.3" y1="462.2" x2="939.3" y2="459.6" stroke="#666" stroke-width="1"/>
<line x1="944.5" y1="398.6" x2="944.5" y2="401.2" stroke="#666" stroke-width="1"/>
<line x1="944.5" y1="462.2" x2="944.5" y2="459.6" stroke="#666" stroke-width="1"/>
<line x1="949.8" y1="398.6" x2="949.8" y2="401.2" stroke="#666" stroke-width="1"/>
<line x1="949.8" y1="462.2" x2="949.8" y2="459.6" stroke="#666" stroke-width="1"/>
<line x1="955.0" y1="398.6" x2="955.0" y2="401.2" stroke="#666" stroke-width="1"/>
<line x1="955.0" y1="462.2" x2="955.0" y2="459.6" stroke="#666" stroke-width="1"/>
<line x1="960.2" y1="398.6" x2="960.2" y2="401.2" stroke="#666" stroke-width="1"/>
<line x1="960.2" y1="462.2" x2="960.2" y2="459.6" stroke="#666" stroke-width="1"/>
<line x1="965.4" y1="398.6" x2="965.4" y2="401.2" stroke="#666" stroke-width="1"/>
<line x1="965.4" y1="462.2" x2="965.4" y2="459.6" stroke="#666" stroke-width="1"/>
<line x1="970.6" y1="398.6" x2="970.6" y2="401.2" stroke="#666" stroke-width="1"/>
<line x1="970.6" y1="462.2" x2="970.6" y2="459.6" stroke="#666" stroke-width="1"/>
<line x1="975.8" y1="398.6" x2="975.8" y2="401.2" stroke="#666" stroke-width="1"/>
<line x1="975.8" y1="462.2" x2="975.8" y2="459.6" stroke="#666" stroke-width="1"/>
<line x1="981.0" y1="398.6" x2="981.0" y2="403.6" stroke="#666" stroke-width="1"/>
<line x1="981.0" y1="462.2" x2="981.0" y2="457.2" stroke="#666" stroke-width="1"/>
<line x1="986.2" y1="398.6" x2="986.2" y2="401.2" stroke="#666" stroke-width="1"/>
<line x1="986.2" y1="462.2" x2="986.2" y2="459.6" stroke="#666" stroke-width="1"/>
<line x1="991.4" y1="398.6" x2="991.4" y2="401.2" stroke="#666" stroke-width="1"/>
<line x1="991.4" y1="462.2" x2="991.4" y2="459.6" stroke="#666" stroke-width="1"/>
<line x1="996.6" y1="398.6" x2="996.6" y2="401.2" stroke="#666" stroke-width="1"/>
<line x1="996.6" y1="462.2" x2="996.6" y2="459.6" stroke="#666" stroke-width="1"/>
<line x1="1001.8" y1="398.6" x2="1001.8" y2="401.2" stroke="#666" stroke-width="1"/>
<line x1="1001.8" y1="462.2" x2="1001.8" y2="459.6" stroke="#666" stroke-width="1"/>
<line x1="1007.0" y1="398.6" x2="1007.0" y2="401.2" stroke="#666" stroke-width="1"/>
<line x1="1007.0" y1="462.2" x2="1007.0" y2="459.6" stroke="#666" stroke-width="1"/>
<line x1="1012.2" y1="398.6" x2="1012.2" y2="401.2" stroke="#666" stroke-width="1"/>
<line x1="1012.2" y1="462.2" x2="1012.2" y2="459.6" stroke="#666" stroke-width="1"/>
<line x1="1017.5" y1="398.6" x2="1017.5" y2="401.2" stroke="#666" stroke-width="1"/>
<line x1="1017.5" y1="462.2" x2="1017.5" y2="459.6" stroke="#666" stroke-width="1"/>
<line x1="1022.7" y1="398.6" x2="1022.7" y2="401.2" stroke="#666" stroke-width="1"/>
<line x1="1022.7" y1="462.2" x2="1022.7" y2="459.6" stroke="#666" stroke-width="1"/>
<line x1="1027.9" y1="398.6" x2="1027.9" y2="401.2" stroke="#666" stroke-width="1"/>
<line x1="1027.9" y1="462.2" x2="1027.9" y2="459.6" stroke="#666" stroke-width="1"/>
<line x1="1033.1" y1="398.6" x2="1033.1" y2="401.2" stroke="#666" stroke-width="1"/>
<line x1="1033.1" y1="462.2" x2="1033.1" y2="459.6" stroke="#666" stroke-width="1"/>
<line x1="1038.3" y1="398.6" x2="1038.3" y2="401.2" stroke="#666" stroke-width="1"/>
<line x1="1038.3" y1="462.2" x2="1038.3" y2="459.6" stroke="#666" stroke-width="1"/>
<line x1="606.0" y1="445.9" x2="611.0" y2="445.9" stroke="#666" stroke-width="1"/>
<line x1="1038.5" y1="445.9" x2="1043.5" y2="445.9" stroke="#666" stroke-width="1"/>
<line x1="606.0" y1="429.9" x2="611.0" y2="429.9" stroke="#666" stroke-width="1"/>
<line x1="1038.5" y1="429.9" x2="1043.5" y2="429.9" stroke="#666" stroke-width="1"/>
<line x1="606.0" y1="413.9" x2="611.0" y2="413.9" stroke="#666" stroke-width="1"/>
<line x1="1038.5" y1="413.9" x2="1043.5" y2="413.9" stroke="#666" stroke-width="1"/>
<text x="599.3" y="450.5" text-anchor="end" class="tl">10</text>
<text x="599.3" y="418.5" text-anchor="end" class="tl">30</text>
<polyline points="606.1,291.2 608.3,290.8 611.2,290.2 614.8,289.5 618.6,288.8 622.5,288.2 626.2,287.7 629.8,287.4 633.4,287.1 637.2,287.0 640.9,286.9 644.5,286.8 648.0,286.8 651.3,286.8 654.5,286.9 657.5,287.0 660.6,287.1 663.7,287.4 666.9,287.7 670.3,288.1 673.8,288.7 677.4,289.3 680.9,290.0 684.2,290.6 687.3,291.2 690.1,291.8 692.6,292.3 695.0,292.9 697.3,293.4 699.5,294.0 701.8,294.5 704.2,295.1 706.7,295.7 709.2,296.3 711.5,296.9 713.4,297.3 714.9,297.5 715.8,297.6 716.2,297.6 716.3,297.4 716.2,297.1 716.1,296.4 716.2,295.5 716.4,294.2 716.6,292.5 716.9,290.5 717.1,288.4 717.3,286.2 717.5,284.0 717.7,281.7 717.9,279.1 718.0,276.4 718.2,273.8 718.4,271.5 718.7,269.5 719.0,267.9 719.4,266.6 719.7,265.5 720.1,264.6 720.5,264.0 720.9,263.5 721.3,263.2 721.6,263.1 721.9,263.3 722.3,263.6 722.6,264.1 723.0,264.8 723.4,265.6 723.8,266.6 724.1,267.8 724.5,269.2 724.9,270.8 725.3,272.8 725.7,275.3 726.1,278.3 726.5,281.5 726.8,284.8 727.2,287.9 727.6,290.6 728.0,292.9 728.3,294.9 728.7,296.7 729.1,298.4 729.4,299.9 729.8,301.3 730.1,302.6 730.5,303.8 730.8,304.8 731.1,305.7 731.5,306.4 732.0,307.0 732.6,307.4 733.2,307.5 733.9,307.6 734.6,307.5 735.3,307.4 736.0,307.4 736.7,307.4 737.5,307.4 738.2,307.4 739.0,307.4 739.6,307.4 740.0,307.4" fill="none" stroke="#5af55a" stroke-width="1.8" stroke-linejoin="round"/>
<polyline points="740.0,307.4 790.0,307.3 791.0,306.6 814.0,306.6 815.0,305.9 979.0,305.9 980.0,305.2 1021.0,305.2 1022.0,304.5 1043.0,304.5" fill="none" stroke="#5af55a" stroke-width="1.8"/>
<polyline points="606.3,378.0 609.7,378.0 614.4,378.0 620.0,378.1 625.8,378.1 631.4,378.1 636.0,378.2 639.2,378.3 641.4,378.4 643.3,378.6 645.6,378.7 649.0,378.8 654.4,378.8 662.4,378.8 672.6,378.7 683.9,378.6 695.4,378.4 706.1,378.3 715.0,378.1 722.2,377.9 728.5,377.6 733.9,377.4 738.7,377.1 742.8,376.9 746.4,376.7 749.2,376.6 751.0,376.7 752.1,376.8 753.0,376.8 753.8,376.8 755.0,376.7 756.5,376.5 758.1,376.2 759.6,375.8 761.1,375.4 762.5,374.8 763.7,374.2 764.7,373.5 765.5,372.6 766.2,371.7 766.8,370.7 767.4,369.5 768.1,368.3 768.8,366.9 769.5,365.3 770.2,363.6 770.9,361.9 771.6,360.3 772.4,358.9 773.3,357.7 774.3,356.5 775.3,355.5 776.3,354.5 777.4,353.7 778.3,353.1 779.2,352.6 780.1,352.4 781.0,352.2 781.8,352.2 782.6,352.2 783.3,352.2 783.9,352.2 784.3,352.3 784.7,352.4 785.1,352.6 785.6,352.9 786.3,353.4 787.1,354.0 788.1,354.8 789.1,355.8 790.3,356.8 791.5,357.8 792.8,358.9 794.2,360.1 795.8,361.3 797.4,362.7 799.1,364.0 800.7,365.2 802.2,366.2 803.6,367.0 804.9,367.7 806.2,368.3 807.4,368.8 808.8,369.3 810.2,369.8 811.7,370.3 813.2,370.7 814.8,371.0 816.5,371.4 818.3,371.8 820.4,372.3 822.7,372.8 825.1,373.4 827.8,374.0 830.5,374.7 833.5,375.3 836.7,376.0 840.2,376.7 844.1,377.5 848.2,378.3 852.3,379.1 856.2,379.7 859.7,380.2 862.7,380.5 865.3,380.7 867.8,380.7 870.3,380.6 873.1,380.5 876.4,380.2 880.4,379.8 885.1,379.1 890.0,378.4 894.9,377.6 899.5,376.9 903.6,376.4 906.9,376.1 909.7,375.8 912.1,375.7 914.6,375.6 917.2,375.6 920.4,375.6 923.9,375.7 927.7,375.8 931.6,375.9 935.8,376.1 940.4,376.4 945.4,376.7 951.1,377.1 957.5,377.5 964.2,378.0 970.9,378.5 977.3,379.0 983.0,379.4 987.8,379.7 992.0,380.0 995.8,380.3 999.6,380.5 1003.6,380.8 1008.2,381.0 1013.8,381.2 1020.3,381.5 1027.0,381.8 1033.4,382.0 1038.8,382.2 1042.7,382.3" fill="none" stroke="#ff5a5a" stroke-width="1.8" stroke-linejoin="round"/>
<polyline points="606.0,460.3 725.0,460.3 726.0,459.5 760.0,459.5 772.7,458.6 781.6,457.5 789.3,456.7 798.2,455.9 822.3,455.9 823.6,456.7 894.9,456.7 896.8,455.9 967.2,456.2 968.5,457.0 990.9,457.0 992.2,457.5 1043.0,457.5" fill="none" stroke="#5a5aff" stroke-width="1.8"/>
<line x1="715.6" y1="243" x2="715.6" y2="462" stroke="#000" stroke-width="1.8"/>
<text x="606.0" y="476.6" text-anchor="middle" class="tl">18</text>
<text x="668.5" y="476.6" text-anchor="middle" class="tl">19</text>
<text x="731.0" y="476.6" text-anchor="middle" class="tl">20</text>
<text x="793.5" y="476.6" text-anchor="middle" class="tl">21</text>
<text x="856.0" y="476.6" text-anchor="middle" class="tl">22</text>
<text x="918.5" y="476.6" text-anchor="middle" class="tl">23</text>
<text x="981.0" y="476.6" text-anchor="middle" class="tl">24</text>
<text x="1043.5" y="476.6" text-anchor="middle" class="tl">25</text>
<text x="618" y="265.0" class="lab">EARTH</text>
<text x="618" y="342.0" class="lab">STEREO A</text>
<text x="618" y="418.8" class="lab">STEREO B</text>
<text x="750" y="239.8" font-size="15.7" fill="#777">Plasma Density (/cm<tspan dy="-6.5" font-size="10.5">3</tspan><tspan dy="6.5">)</tspan></text>
</svg>
</body></html>
